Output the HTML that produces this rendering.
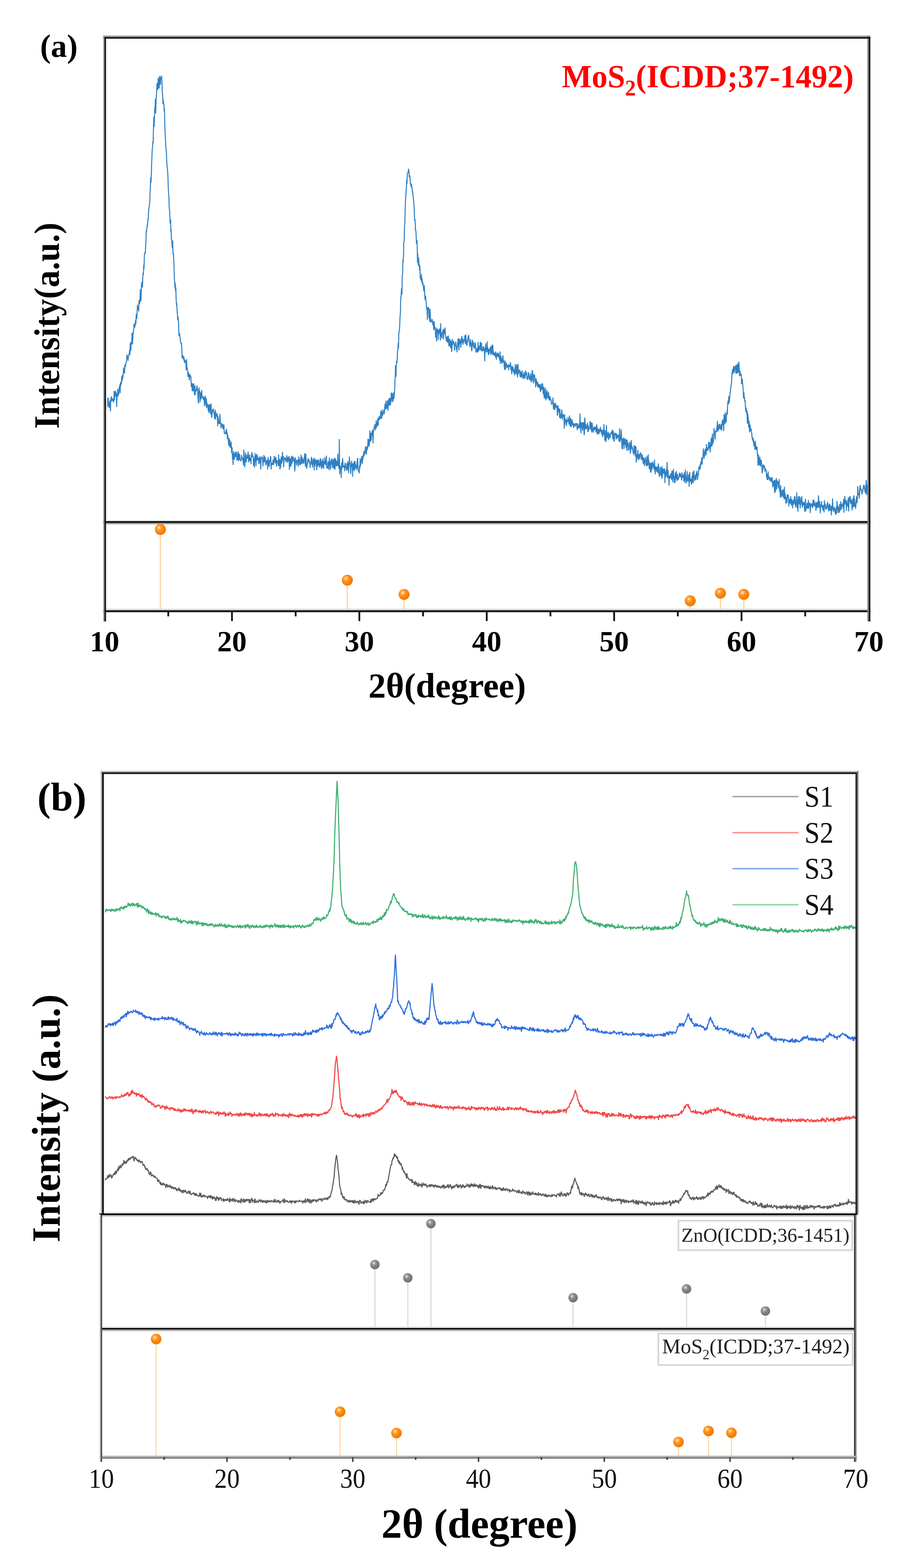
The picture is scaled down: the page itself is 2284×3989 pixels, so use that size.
<!DOCTYPE html>
<html><head><meta charset="utf-8"><title>XRD patterns</title>
<style>html,body{margin:0;padding:0;background:#fff;}svg{display:block;}</style>
</head><body>
<svg width="2284" height="3989" viewBox="0 0 2284 3989" font-family="'Liberation Serif','Times New Roman',serif">
<defs>
<radialGradient id="gO" cx="0.38" cy="0.35" r="0.65">
<stop offset="0" stop-color="#fff4e0"/><stop offset="0.22" stop-color="#ffb050"/><stop offset="0.5" stop-color="#ff8a10"/><stop offset="1" stop-color="#f07800"/></radialGradient>
<radialGradient id="gG" cx="0.38" cy="0.35" r="0.65">
<stop offset="0" stop-color="#f4f4f4"/><stop offset="0.22" stop-color="#a8a8a8"/><stop offset="0.5" stop-color="#858585"/><stop offset="1" stop-color="#6e6e6e"/></radialGradient>
</defs>
<rect width="2284" height="3989" fill="#fff"/>
<path d="M268.0,1015.6L268.8,1029.8L269.6,1035.0L270.4,1021.2L271.2,1013.5L272.0,1024.6L272.8,1029.2L273.6,1034.5L274.4,1013.4L275.2,1012.4L276.0,1030.1L276.8,1027.8L277.6,1037.0L278.4,1031.8L279.2,1021.7L280.0,1019.9L281.0,1045.1L281.6,1018.7L282.4,1013.4L283.2,1009.3L284.0,1019.6L284.8,1019.1L285.6,1013.9L286.4,1015.5L287.2,1017.7L288.0,1020.6L288.8,1023.3L289.6,1014.5L290.4,995.6L291.2,1017.1L292.0,997.2L292.8,1007.5L293.6,994.9L294.4,1007.3L295.2,999.4L296.0,1007.5L296.8,1034.4L297.6,1003.4L298.4,1010.5L299.2,990.2L300.0,998.6L300.8,1006.3L301.6,998.6L302.0,1002.3L302.4,998.1L303.2,984.4L304.0,994.8L304.8,978.7L305.6,999.2L306.4,974.1L307.2,981.1L308.0,971.2L308.8,976.0L309.6,958.3L310.4,969.0L311.2,955.2L312.0,964.0L313.0,953.6L313.6,947.2L314.4,936.0L315.2,947.1L316.0,941.6L316.8,949.4L317.6,928.4L318.4,933.9L319.2,930.7L320.0,925.8L320.8,922.3L321.6,919.3L322.4,909.4L323.2,902.9L324.0,905.6L324.8,911.7L325.6,917.1L326.4,909.5L327.2,907.4L328.0,902.1L328.8,898.5L329.6,891.1L330.0,894.9L330.4,901.9L331.2,878.9L332.0,871.6L332.8,891.4L333.6,871.9L334.4,874.3L335.2,869.4L336.0,847.2L336.8,875.3L337.6,865.3L338.4,846.8L339.2,847.9L340.0,838.2L341.0,824.0L341.6,828.2L342.4,828.9L343.2,831.9L344.0,824.5L344.8,815.0L345.6,822.9L346.4,800.2L347.2,810.5L348.0,809.6L348.8,793.3L349.6,776.1L350.4,780.4L351.2,787.0L352.0,785.9L352.8,791.4L353.6,764.7L354.4,770.0L355.2,772.2L356.0,761.2L357.0,736.7L357.6,759.7L358.4,765.8L359.2,746.6L360.0,721.9L360.8,719.0L361.6,717.3L362.4,730.3L363.2,706.0L364.0,694.0L364.8,698.0L365.6,674.2L366.4,682.7L367.2,650.7L368.0,643.6L368.8,645.3L369.6,642.6L370.4,626.7L371.0,616.7L372.0,586.9L372.8,588.3L373.6,580.7L374.4,572.8L375.2,574.3L376.0,557.5L376.8,559.0L377.6,544.1L378.4,531.8L379.2,527.3L380.0,521.6L381.0,514.7L381.6,491.3L382.4,478.3L383.2,452.9L384.0,464.4L384.8,447.9L385.6,418.0L386.4,400.1L387.2,378.1L388.0,375.5L388.8,360.7L389.6,363.2L390.0,338.2L390.4,323.7L391.2,298.1L392.0,322.1L392.8,300.5L393.6,273.7L394.4,279.2L395.2,252.4L396.0,287.6L397.0,253.1L397.6,245.3L398.4,234.8L399.2,213.4L400.0,227.7L400.8,211.1L401.6,226.7L402.4,198.3L403.2,205.6L404.0,221.0L404.8,224.1L405.6,198.0L406.4,194.1L407.2,215.2L408.0,214.2L408.8,197.0L409.6,199.0L410.4,198.3L411.0,193.3L412.0,210.0L412.8,237.1L413.6,241.8L414.4,263.8L415.2,254.2L416.0,263.5L416.8,265.6L417.6,283.0L418.0,277.2L418.4,280.9L419.2,319.1L420.0,341.7L420.8,352.1L421.6,372.5L422.4,378.6L423.2,385.8L424.0,408.9L425.0,424.6L425.6,427.9L426.4,435.9L427.2,451.1L428.0,477.6L428.8,492.3L429.6,499.9L430.4,530.3L431.2,532.3L432.0,549.1L432.8,568.1L433.6,563.0L434.0,559.3L434.4,588.0L435.2,583.5L436.0,609.9L436.8,609.6L437.6,624.1L438.4,630.4L439.2,613.2L440.0,646.9L441.0,644.9L441.6,655.4L442.4,673.2L443.2,699.0L444.0,715.0L444.8,731.0L445.5,720.1L446.4,739.3L447.2,731.9L448.0,760.9L448.8,775.8L449.6,772.1L450.4,789.8L451.2,798.3L452.0,813.9L452.8,806.0L453.6,814.5L454.4,823.7L455.0,852.8L456.0,854.0L456.8,848.9L457.6,857.8L458.4,862.6L459.2,869.2L460.0,871.2L460.8,875.9L461.6,873.4L462.4,884.7L463.2,911.1L464.0,906.8L464.8,905.2L465.6,905.3L466.4,910.4L467.2,915.7L468.0,909.3L468.8,919.5L469.6,922.6L470.4,916.3L471.2,918.6L472.0,919.3L472.8,921.3L473.6,941.6L474.4,914.9L475.2,936.4L476.0,935.9L476.8,938.5L477.6,947.6L478.0,958.2L478.4,949.9L479.2,950.3L480.0,948.5L480.8,955.2L481.6,967.0L482.4,957.7L483.2,953.3L484.0,954.6L484.8,958.4L485.6,958.3L486.4,983.1L487.2,978.8L488.0,975.9L488.8,993.5L489.6,976.9L490.4,992.0L491.2,994.8L492.0,976.1L492.8,976.7L493.6,983.0L494.4,1000.2L495.2,1004.4L496.0,982.4L496.8,1003.6L497.6,991.4L498.4,991.9L499.2,991.2L500.0,993.9L500.8,981.2L501.6,989.2L502.4,987.8L503.2,1004.0L504.0,1019.1L504.8,1025.6L505.6,998.6L506.4,986.9L507.2,999.4L508.0,995.3L508.8,1022.2L509.6,1010.2L510.4,999.2L511.2,1014.9L512.0,1012.0L513.0,993.4L513.6,1004.1L514.4,1008.0L515.2,1011.5L516.0,1013.8L516.8,1010.7L517.6,1016.7L518.4,1011.0L519.2,1009.4L520.0,1032.3L520.8,1023.1L521.6,1025.0L522.4,1008.0L523.2,1022.0L524.0,1032.1L524.8,1014.4L525.6,1037.1L526.4,1024.9L527.2,1033.3L528.0,1029.7L528.8,1034.0L529.6,1044.1L530.4,1030.9L531.2,1049.8L532.0,1029.9L532.8,1029.8L533.6,1045.8L534.0,1030.4L534.4,1037.2L535.2,1049.6L536.0,1053.3L536.8,1027.4L537.6,1048.9L538.4,1062.3L539.2,1057.1L540.0,1045.1L540.8,1042.9L541.6,1046.6L542.4,1039.9L543.2,1048.8L544.0,1050.5L544.8,1051.8L545.6,1064.8L546.4,1053.0L547.2,1042.9L548.0,1066.5L548.8,1048.4L549.6,1055.0L550.4,1058.8L551.2,1057.8L552.0,1052.9L552.8,1060.6L553.6,1083.5L554.4,1059.4L555.2,1064.6L556.0,1076.9L557.0,1074.7L557.6,1075.9L558.4,1078.1L559.2,1054.0L560.0,1065.2L560.8,1075.5L561.6,1080.2L562.4,1088.6L563.2,1082.6L564.0,1077.5L564.8,1081.4L565.6,1080.4L566.4,1085.9L567.2,1091.1L568.0,1083.3L568.8,1080.3L569.6,1081.3L570.4,1100.2L571.2,1103.2L572.0,1101.9L572.8,1102.0L573.6,1103.2L574.4,1097.0L575.0,1104.0L576.0,1091.9L576.8,1102.2L577.6,1100.1L578.4,1116.0L579.2,1106.9L580.0,1113.8L580.8,1121.1L581.6,1132.3L582.4,1115.7L583.2,1117.1L584.0,1135.6L584.8,1120.9L585.6,1137.7L586.4,1131.1L587.2,1138.0L588.0,1125.3L589.0,1151.4L589.6,1141.3L590.4,1138.8L591.2,1166.6L592.0,1155.4L592.8,1181.6L593.6,1154.7L594.4,1149.0L595.2,1154.1L596.0,1168.7L596.8,1155.0L597.6,1160.4L598.4,1162.0L599.2,1150.2L600.0,1160.6L600.8,1156.0L601.6,1150.4L602.4,1170.5L603.2,1169.7L604.0,1165.4L604.8,1157.6L605.6,1148.8L606.4,1172.3L607.2,1168.1L608.0,1154.8L608.8,1169.3L609.6,1156.0L610.4,1169.3L611.2,1170.7L612.0,1172.5L612.8,1171.1L613.6,1170.6L614.4,1158.6L615.2,1165.3L616.0,1164.0L616.8,1166.3L617.6,1170.8L618.4,1173.8L619.2,1182.8L620.0,1144.8L620.8,1171.4L621.6,1165.8L622.4,1188.0L623.2,1175.8L624.0,1152.3L624.8,1170.7L625.6,1162.3L626.4,1175.7L627.2,1157.2L628.0,1165.6L628.8,1165.2L629.6,1165.4L630.4,1160.8L631.0,1149.5L632.0,1170.3L632.8,1175.3L633.6,1165.8L634.4,1157.4L635.2,1168.6L636.0,1172.0L636.8,1165.4L637.6,1167.0L638.4,1180.0L639.2,1157.4L640.0,1162.5L640.8,1150.6L641.6,1161.5L642.4,1161.3L643.2,1159.5L644.0,1162.0L644.8,1184.6L645.6,1166.8L646.4,1167.7L647.2,1188.6L648.0,1168.4L648.8,1153.5L649.6,1172.9L650.4,1160.9L651.2,1184.3L652.0,1158.4L652.8,1164.6L653.6,1155.5L654.4,1170.9L655.2,1161.1L656.0,1169.8L656.8,1167.1L657.6,1165.1L658.4,1179.3L659.2,1179.3L660.0,1171.6L660.8,1163.1L661.6,1161.7L662.4,1173.9L663.2,1193.1L664.0,1167.6L664.8,1164.8L665.6,1165.7L666.4,1162.3L667.2,1163.5L668.0,1170.6L668.8,1185.5L669.6,1172.7L670.4,1168.3L671.2,1158.5L672.0,1175.0L672.8,1173.0L673.6,1162.4L674.4,1163.8L675.2,1173.3L676.0,1182.9L677.0,1179.6L677.6,1175.8L678.4,1171.0L679.2,1176.7L680.0,1173.7L680.8,1193.3L681.6,1163.5L682.4,1170.3L683.2,1185.0L684.0,1171.2L684.8,1186.3L685.6,1173.1L686.4,1174.7L687.2,1170.0L688.0,1160.9L688.8,1164.5L689.6,1193.1L690.4,1179.0L691.2,1178.5L692.0,1181.6L692.8,1178.1L693.6,1182.1L694.4,1170.5L695.2,1170.8L696.0,1181.6L696.8,1169.6L697.6,1160.7L698.4,1170.6L699.2,1167.7L700.0,1178.1L700.8,1166.0L701.6,1162.9L702.4,1169.4L703.2,1186.3L704.0,1171.8L704.8,1173.7L705.6,1172.3L706.4,1174.8L707.2,1180.4L708.0,1184.6L708.8,1157.2L709.6,1184.2L710.4,1171.8L711.2,1168.9L712.0,1193.4L712.8,1170.2L713.6,1189.2L714.4,1180.3L715.2,1162.3L716.0,1175.9L716.8,1178.1L717.6,1170.3L718.4,1150.4L719.2,1168.2L720.0,1169.5L720.8,1161.2L721.6,1187.6L722.4,1168.9L723.2,1167.5L724.0,1168.3L724.8,1164.0L725.6,1164.2L726.4,1172.1L727.2,1174.1L728.0,1166.8L728.8,1170.6L729.6,1159.0L730.4,1176.3L731.2,1164.9L732.0,1173.7L732.8,1163.7L733.6,1167.3L734.4,1173.9L735.2,1161.1L736.0,1194.3L736.8,1171.9L737.6,1171.6L738.4,1165.7L739.2,1186.8L740.0,1185.0L740.8,1175.3L741.6,1160.3L742.4,1168.2L743.2,1178.3L744.0,1168.2L744.8,1162.3L745.6,1162.3L746.4,1166.1L747.2,1173.3L748.0,1167.4L748.8,1173.5L749.6,1198.5L750.4,1189.4L751.2,1164.2L752.0,1176.7L752.8,1174.4L753.6,1172.5L754.4,1183.2L755.2,1170.9L756.0,1171.0L756.8,1170.7L757.6,1173.2L758.4,1185.8L759.2,1181.2L760.0,1162.3L760.8,1170.4L761.6,1167.3L762.4,1181.9L763.2,1176.7L764.0,1182.7L764.8,1174.2L765.6,1157.7L766.4,1179.0L767.2,1177.0L768.0,1179.6L768.8,1163.4L769.6,1176.0L770.4,1169.1L771.2,1169.2L772.0,1178.6L772.8,1178.7L773.6,1167.6L774.4,1160.3L775.2,1153.5L776.0,1170.6L776.8,1186.0L777.6,1175.5L778.0,1155.7L778.4,1168.3L779.2,1179.9L780.0,1191.2L780.8,1186.7L781.6,1179.5L782.4,1178.0L783.2,1166.7L784.0,1172.2L784.8,1173.4L785.6,1169.4L786.4,1177.0L787.2,1172.9L788.0,1179.5L788.8,1189.5L789.6,1183.3L790.4,1180.4L791.2,1174.5L792.0,1163.0L792.8,1175.7L793.6,1181.7L794.4,1167.8L795.2,1188.2L796.0,1173.9L796.8,1180.3L797.6,1174.0L798.4,1165.7L799.2,1195.7L800.0,1166.7L800.8,1185.4L801.6,1172.2L802.4,1179.8L803.2,1170.0L804.0,1173.6L804.8,1185.7L805.6,1194.9L806.4,1169.8L807.2,1177.6L808.0,1186.1L808.8,1171.9L809.6,1184.0L810.4,1170.6L811.2,1183.1L812.0,1181.7L812.8,1188.7L813.6,1181.1L814.4,1167.1L815.2,1183.9L816.0,1168.0L817.0,1184.8L817.6,1191.7L818.4,1183.5L819.2,1173.3L820.0,1189.1L820.8,1179.9L821.6,1167.3L822.4,1175.4L823.2,1191.4L824.0,1176.0L824.8,1179.9L825.6,1175.8L826.4,1163.8L827.2,1174.5L828.0,1182.4L828.8,1181.2L829.6,1177.8L830.4,1160.2L831.2,1190.5L832.0,1186.1L832.8,1188.9L833.6,1191.5L834.4,1175.9L835.2,1174.5L836.0,1182.9L836.8,1195.2L837.6,1165.1L838.4,1178.3L839.2,1174.0L840.0,1185.5L840.8,1193.8L841.6,1178.0L842.4,1169.6L843.2,1181.3L844.0,1178.4L844.8,1167.1L845.6,1189.1L846.4,1176.5L847.2,1187.4L848.0,1169.5L848.8,1191.3L849.6,1168.6L850.4,1191.1L851.2,1165.4L852.0,1194.2L852.8,1178.5L853.6,1168.0L854.4,1180.0L855.2,1185.2L856.0,1173.3L856.8,1177.9L857.6,1184.8L858.4,1181.0L859.2,1155.0L860.0,1178.8L860.8,1186.6L861.6,1185.5L862.4,1192.0L863.0,1118.0L864.0,1206.0L864.8,1190.3L865.6,1185.9L866.4,1192.9L867.2,1191.7L868.0,1215.0L868.8,1177.6L869.6,1192.4L870.4,1187.0L871.2,1166.2L872.0,1173.4L872.8,1187.5L873.6,1184.3L874.4,1185.9L875.2,1189.2L876.0,1184.7L876.8,1197.7L877.6,1178.2L878.4,1179.9L879.2,1186.4L880.0,1190.3L880.8,1190.7L881.6,1197.0L882.4,1179.3L883.2,1194.2L884.0,1187.9L884.8,1174.3L885.6,1182.5L886.4,1202.5L887.2,1190.8L888.0,1179.6L888.8,1162.2L889.6,1177.2L890.4,1177.6L891.2,1184.6L892.0,1204.7L892.8,1190.7L893.6,1186.8L894.0,1175.6L894.4,1173.4L895.2,1182.4L896.0,1180.2L896.8,1211.7L897.6,1181.1L898.4,1179.4L899.2,1195.3L900.0,1186.0L900.8,1174.3L901.6,1197.2L902.4,1183.0L903.2,1174.0L904.0,1189.0L904.8,1190.7L905.6,1183.4L906.4,1192.9L907.2,1194.2L908.0,1179.0L908.8,1168.6L909.6,1165.8L910.4,1186.3L911.2,1198.7L912.0,1196.8L913.0,1200.5L913.6,1203.3L914.4,1184.8L915.2,1192.2L916.0,1167.0L916.8,1185.0L917.6,1180.4L918.4,1174.1L919.2,1169.0L920.0,1161.0L920.8,1170.4L921.6,1178.7L922.4,1162.0L923.2,1168.1L924.0,1155.4L925.0,1161.3L925.6,1148.4L926.4,1158.9L927.2,1151.5L928.0,1154.2L928.8,1143.9L929.6,1136.8L930.4,1142.4L931.2,1152.6L932.0,1155.5L932.8,1136.3L933.6,1144.4L934.4,1142.0L935.2,1136.7L936.0,1117.2L936.8,1132.0L937.6,1118.4L938.4,1135.6L939.2,1130.1L940.0,1126.6L940.8,1096.2L941.6,1122.7L942.4,1121.4L943.2,1101.7L944.0,1120.0L944.8,1110.0L945.6,1105.7L946.4,1099.0L947.2,1094.3L948.0,1097.6L948.8,1127.3L949.6,1099.4L950.4,1097.5L951.2,1087.9L952.0,1086.2L952.8,1084.8L953.6,1079.9L954.4,1093.8L955.2,1081.5L956.0,1089.8L956.8,1070.2L957.6,1087.5L958.4,1077.4L959.2,1082.2L960.0,1073.9L960.8,1065.4L961.6,1082.8L962.4,1066.6L963.2,1067.7L964.0,1059.6L964.8,1068.0L965.6,1061.2L966.4,1065.8L967.2,1064.9L968.0,1054.2L968.8,1046.3L969.6,1061.4L970.4,1064.3L971.0,1061.3L972.0,1043.0L972.8,1057.4L973.6,1054.1L974.4,1051.8L975.2,1051.8L976.0,1043.6L976.8,1047.1L977.6,1052.2L978.4,1038.0L979.2,1028.2L980.0,1038.9L980.8,1040.2L981.6,1020.5L982.4,1029.7L983.2,1039.7L984.0,1031.7L984.8,1032.5L985.6,1019.0L986.4,1037.2L987.0,1043.8L988.0,1024.7L988.8,1018.6L989.6,1013.6L990.4,1030.8L991.2,1022.5L992.0,1013.2L992.8,1030.0L993.6,1024.8L994.4,1022.1L995.2,999.6L996.0,1013.3L996.8,1018.6L997.6,1000.7L998.4,1018.9L999.2,1022.2L1000.0,1017.4L1000.8,1000.3L1001.6,999.2L1002.0,1013.5L1002.4,1008.1L1003.2,998.7L1004.0,986.8L1004.8,963.5L1005.6,949.1L1006.0,930.3L1006.4,950.7L1007.2,957.5L1008.0,926.2L1008.8,919.4L1009.6,922.8L1010.4,913.7L1011.2,891.3L1012.0,890.6L1012.8,872.0L1013.6,884.9L1014.4,845.2L1015.2,844.2L1016.0,838.6L1016.8,823.3L1017.5,805.8L1018.4,795.1L1019.2,758.1L1020.0,754.9L1020.8,740.2L1021.6,733.0L1022.4,748.0L1023.0,700.9L1024.0,697.0L1024.8,661.7L1025.6,665.6L1026.4,646.1L1027.0,615.4L1028.0,614.4L1028.8,577.0L1029.6,568.7L1030.4,540.4L1031.0,518.0L1032.0,500.3L1032.8,487.3L1033.6,478.5L1034.4,458.7L1035.0,467.2L1036.0,443.6L1036.8,440.6L1037.6,437.8L1038.4,436.7L1039.2,430.2L1040.0,433.8L1041.0,450.2L1041.6,445.9L1042.4,448.3L1043.2,457.6L1044.0,468.5L1044.8,469.0L1045.6,474.9L1046.5,468.0L1047.2,475.6L1048.0,476.6L1048.8,488.4L1049.6,487.6L1050.4,497.3L1051.2,504.8L1052.0,510.1L1052.8,521.8L1053.6,532.0L1054.4,560.4L1055.2,557.7L1056.0,563.9L1056.8,586.1L1057.6,585.9L1058.4,597.3L1059.2,619.1L1060.0,614.7L1060.8,612.0L1061.6,654.9L1062.0,667.3L1062.4,645.4L1063.2,657.3L1064.0,675.4L1064.8,657.2L1065.6,672.1L1066.4,674.0L1067.2,688.0L1068.0,676.9L1068.8,707.6L1069.6,703.1L1070.4,712.0L1071.5,713.0L1072.0,698.2L1072.8,717.9L1073.6,709.3L1074.4,723.4L1075.2,717.7L1076.0,724.5L1076.8,727.5L1077.6,738.4L1078.4,740.4L1079.0,726.0L1080.0,742.1L1080.8,761.2L1081.6,758.3L1082.4,753.1L1083.2,764.4L1084.0,768.1L1084.8,785.5L1085.6,783.2L1086.4,792.0L1087.0,812.9L1088.0,782.2L1088.8,786.8L1089.6,781.7L1090.4,784.3L1091.2,807.7L1092.0,803.9L1092.8,817.3L1093.6,786.1L1094.4,797.3L1095.2,819.5L1096.0,817.1L1096.8,817.2L1097.6,818.4L1098.5,812.3L1099.2,813.9L1100.0,816.6L1100.8,826.2L1101.6,819.4L1102.4,826.1L1103.2,838.6L1104.0,817.7L1104.8,823.3L1105.6,837.5L1106.4,832.3L1107.2,835.6L1108.0,858.1L1108.8,845.3L1109.6,840.1L1110.0,854.9L1110.4,867.6L1111.2,834.9L1112.0,838.7L1112.8,845.7L1113.6,838.8L1114.4,864.0L1115.2,849.1L1116.0,840.6L1116.8,848.5L1117.6,836.9L1118.4,838.5L1119.2,844.8L1120.0,865.2L1120.8,823.4L1121.6,847.3L1122.4,855.6L1123.2,850.0L1124.0,860.5L1124.8,847.1L1125.5,844.3L1126.4,843.4L1127.2,838.3L1128.0,862.1L1128.8,838.1L1129.6,849.0L1130.4,846.8L1131.2,845.9L1132.0,834.3L1132.8,852.3L1133.6,858.3L1134.4,859.8L1135.2,867.5L1136.0,859.8L1136.8,856.9L1137.6,866.8L1138.4,871.5L1139.2,858.7L1140.0,854.6L1141.0,860.8L1141.6,879.7L1142.4,879.5L1143.2,862.8L1144.0,872.0L1144.8,878.9L1145.6,883.6L1146.4,865.9L1147.2,870.0L1148.0,885.1L1148.8,894.4L1149.6,886.8L1150.4,863.0L1151.2,877.6L1152.0,871.1L1152.8,873.6L1153.6,868.4L1154.4,870.3L1155.2,874.8L1156.0,891.4L1156.8,881.8L1157.6,879.6L1158.4,876.3L1159.2,869.6L1160.0,874.5L1160.8,888.0L1161.6,884.6L1162.4,895.1L1163.2,880.1L1164.0,877.8L1164.8,863.0L1165.6,880.7L1166.4,861.2L1167.2,890.1L1168.0,870.2L1168.8,875.5L1169.6,862.9L1170.4,870.2L1171.2,865.9L1172.0,884.0L1172.8,875.6L1173.6,862.4L1174.4,855.2L1175.2,871.5L1176.0,867.4L1176.8,861.3L1177.6,876.2L1178.4,868.8L1179.2,871.1L1180.0,864.3L1180.8,864.1L1181.6,864.7L1182.4,854.0L1183.2,873.6L1184.0,871.2L1184.8,851.6L1185.6,867.7L1186.4,876.7L1187.0,868.1L1188.0,878.3L1188.8,864.8L1189.6,867.7L1190.4,856.6L1191.2,860.7L1192.0,852.9L1192.8,861.8L1193.6,872.6L1194.4,875.6L1195.2,881.9L1196.0,873.2L1196.8,863.6L1197.6,876.9L1198.4,872.3L1199.2,890.2L1200.0,892.3L1200.8,883.8L1201.6,865.5L1202.4,871.5L1203.2,878.5L1204.0,870.9L1204.8,882.6L1205.6,884.6L1206.4,886.5L1207.2,881.5L1208.0,872.0L1208.8,873.0L1209.6,880.0L1210.4,893.5L1211.2,896.3L1212.0,891.5L1212.8,886.5L1213.6,889.8L1214.0,891.4L1214.4,895.7L1215.2,892.0L1216.0,870.6L1216.8,893.2L1217.6,888.3L1218.4,880.9L1219.2,889.9L1220.0,888.0L1220.8,885.1L1221.6,870.6L1222.4,886.9L1223.2,891.1L1224.0,885.9L1224.8,872.2L1225.6,890.8L1226.4,893.3L1227.2,888.7L1228.0,891.1L1228.8,884.2L1229.6,881.7L1230.4,892.5L1231.2,884.8L1232.0,889.8L1232.8,917.6L1233.6,894.9L1234.4,889.9L1235.2,874.3L1236.0,889.9L1236.8,896.1L1237.6,883.1L1238.4,887.5L1239.2,869.5L1240.0,895.0L1240.8,884.7L1241.6,896.3L1242.4,902.5L1243.2,888.8L1244.0,899.1L1244.8,892.6L1245.6,888.6L1246.4,887.9L1247.2,882.9L1248.0,902.1L1248.8,898.6L1249.6,881.6L1250.4,898.3L1251.2,884.2L1252.0,877.3L1252.8,901.7L1253.6,879.5L1254.0,901.7L1254.4,893.2L1255.2,900.5L1256.0,897.8L1256.8,904.5L1257.6,898.1L1258.4,901.1L1259.2,899.0L1260.0,907.5L1260.8,895.1L1261.6,908.6L1262.4,913.9L1263.2,900.7L1264.0,906.1L1264.8,898.4L1265.6,901.3L1266.4,907.2L1267.2,902.6L1268.0,898.6L1268.8,907.2L1269.6,910.1L1270.4,912.2L1271.2,916.6L1272.0,895.1L1272.8,924.7L1273.6,911.3L1274.4,906.8L1275.2,911.3L1276.0,919.5L1276.8,924.2L1277.6,914.0L1278.4,919.6L1279.2,904.7L1280.0,921.5L1280.8,919.9L1281.6,917.9L1282.4,930.6L1283.2,939.7L1284.0,933.7L1284.8,918.3L1285.6,940.0L1286.4,924.1L1287.2,927.6L1288.0,923.7L1289.0,934.1L1289.6,935.3L1290.4,932.1L1291.2,929.4L1292.0,930.5L1292.8,928.6L1293.6,941.4L1294.4,928.5L1295.2,932.3L1296.0,932.2L1296.8,927.9L1297.6,933.0L1298.4,922.4L1299.2,939.7L1300.0,941.3L1300.8,934.2L1301.6,951.4L1302.4,930.5L1303.2,943.3L1304.0,943.1L1304.8,934.5L1305.6,937.6L1306.4,948.2L1307.2,941.3L1308.0,943.7L1308.8,954.2L1309.6,944.1L1310.4,927.6L1311.2,936.5L1312.0,951.0L1312.8,942.8L1313.6,934.8L1314.4,927.2L1315.2,948.3L1316.0,959.3L1316.8,935.1L1317.6,927.4L1318.4,951.8L1319.2,942.9L1320.0,945.6L1320.8,945.8L1321.6,941.1L1322.4,953.6L1323.0,958.2L1324.0,953.6L1324.8,945.6L1325.6,960.1L1326.4,950.0L1327.2,956.4L1328.0,943.1L1328.8,957.6L1329.6,958.6L1330.4,963.7L1331.2,952.7L1332.0,956.6L1332.8,947.7L1333.6,961.0L1334.4,960.3L1335.2,963.2L1336.0,950.4L1336.8,943.2L1337.6,953.7L1338.4,952.7L1339.2,948.1L1340.0,960.4L1340.8,963.7L1341.6,959.0L1342.4,965.6L1343.2,959.5L1344.0,947.5L1344.8,951.2L1345.6,953.5L1346.4,963.0L1347.2,965.3L1348.0,958.6L1348.8,966.6L1349.6,950.5L1350.4,957.1L1351.2,971.6L1352.0,962.5L1352.8,968.1L1353.6,942.2L1354.4,944.4L1355.2,951.8L1356.0,968.7L1357.0,974.5L1357.6,955.4L1358.4,953.3L1359.2,954.2L1360.0,956.4L1360.8,970.4L1361.6,963.8L1362.4,984.4L1363.2,975.3L1364.0,963.9L1364.8,973.3L1365.6,970.9L1366.4,980.5L1367.2,982.6L1368.0,972.7L1368.8,984.8L1369.6,983.1L1370.4,978.4L1371.2,982.6L1372.0,987.5L1372.8,979.8L1373.6,977.8L1374.4,996.1L1375.2,986.1L1376.0,981.9L1376.8,992.4L1377.6,976.4L1378.0,990.5L1378.4,978.4L1379.2,987.6L1380.0,976.5L1380.8,986.8L1381.6,1002.0L1382.4,993.3L1383.2,985.1L1384.0,1012.1L1384.8,992.0L1385.6,1011.6L1386.4,994.7L1387.2,987.3L1388.0,1017.5L1388.8,998.2L1389.6,1009.6L1390.4,1014.3L1391.2,993.1L1392.0,1006.2L1392.8,1001.4L1393.6,1012.7L1394.4,1008.1L1395.2,998.0L1396.0,1010.6L1396.8,1017.7L1397.6,1009.2L1398.4,1017.7L1399.2,1008.9L1400.0,1014.0L1400.8,1018.5L1401.6,1017.5L1402.4,1028.4L1403.2,1026.4L1404.0,1026.4L1405.0,1026.4L1405.6,1022.5L1406.4,1012.4L1407.2,1033.5L1408.0,1041.0L1408.8,1029.1L1409.6,1026.4L1410.4,1029.8L1411.2,1042.2L1412.0,1035.6L1412.8,1025.9L1413.6,1034.5L1414.4,1030.8L1415.2,1037.2L1416.0,1032.6L1416.8,1034.3L1417.6,1056.5L1418.4,1054.2L1419.2,1032.3L1420.0,1039.3L1420.8,1045.5L1421.6,1047.5L1422.4,1040.2L1423.2,1061.7L1424.0,1041.2L1424.8,1063.0L1425.6,1064.5L1426.0,1055.8L1426.4,1053.6L1427.2,1060.4L1428.0,1061.7L1428.8,1042.5L1429.6,1050.5L1430.4,1066.7L1431.2,1061.6L1432.0,1059.5L1432.8,1054.9L1433.6,1058.0L1434.4,1058.0L1435.2,1089.9L1436.0,1054.8L1436.8,1079.9L1437.6,1071.1L1438.4,1069.3L1439.2,1069.7L1440.0,1065.2L1440.8,1083.2L1441.6,1074.1L1442.4,1069.9L1443.2,1069.6L1444.0,1073.0L1444.8,1061.7L1445.6,1069.5L1446.4,1067.4L1447.2,1078.9L1448.0,1079.2L1448.8,1058.1L1449.6,1073.1L1450.4,1084.3L1451.2,1064.7L1452.0,1066.3L1452.8,1086.0L1453.6,1076.6L1454.4,1074.3L1455.2,1068.1L1456.0,1080.9L1456.8,1075.0L1457.6,1082.3L1458.4,1084.7L1459.2,1087.7L1460.0,1079.2L1460.8,1077.5L1461.6,1082.5L1462.4,1081.5L1463.2,1084.0L1464.0,1077.9L1464.8,1080.5L1465.6,1077.6L1466.4,1077.6L1467.2,1084.3L1468.0,1093.1L1468.8,1078.4L1469.6,1088.3L1470.4,1086.3L1471.2,1084.3L1472.0,1089.4L1472.8,1078.6L1473.6,1088.6L1474.4,1086.3L1475.2,1053.1L1476.0,1087.0L1476.8,1089.3L1477.6,1101.3L1478.4,1074.8L1479.2,1085.1L1480.0,1087.5L1480.8,1075.9L1481.6,1095.1L1482.4,1088.6L1483.2,1077.7L1484.0,1074.3L1484.8,1081.2L1485.6,1105.9L1486.4,1104.1L1487.2,1063.4L1488.0,1069.2L1488.8,1091.2L1489.6,1084.5L1490.4,1079.9L1491.2,1091.0L1492.0,1086.6L1492.8,1088.4L1493.6,1088.2L1494.4,1076.4L1495.0,1097.7L1496.0,1082.4L1496.8,1096.7L1497.6,1093.2L1498.4,1087.7L1499.2,1088.9L1500.0,1087.6L1500.8,1072.1L1501.6,1085.7L1502.4,1092.7L1503.2,1075.0L1504.0,1076.4L1504.8,1099.3L1505.6,1097.3L1506.4,1076.8L1507.2,1094.8L1508.0,1090.6L1508.8,1100.0L1509.6,1088.8L1510.4,1090.0L1511.2,1085.6L1512.0,1094.2L1512.8,1091.8L1513.6,1087.4L1514.4,1090.4L1515.2,1087.1L1516.0,1099.6L1516.8,1085.3L1517.6,1080.9L1518.4,1086.5L1519.2,1104.9L1520.0,1091.1L1520.8,1101.6L1521.6,1102.7L1522.4,1092.0L1523.2,1103.5L1524.0,1101.6L1524.8,1097.1L1525.6,1091.5L1526.4,1097.5L1527.2,1087.0L1528.0,1096.2L1529.0,1093.9L1529.6,1103.1L1530.4,1102.5L1531.2,1094.1L1532.0,1107.7L1532.8,1110.8L1533.6,1101.1L1534.4,1094.2L1535.2,1105.5L1536.0,1079.7L1536.8,1096.4L1537.6,1107.0L1538.4,1119.8L1539.2,1095.8L1540.0,1116.2L1540.8,1123.5L1541.6,1119.8L1542.4,1082.4L1543.2,1113.4L1544.0,1105.6L1544.8,1113.2L1545.6,1102.8L1546.4,1099.2L1547.2,1102.9L1548.0,1118.5L1548.8,1112.9L1549.6,1103.1L1550.4,1109.4L1551.2,1113.9L1552.0,1111.5L1552.8,1106.4L1553.6,1101.1L1554.4,1100.6L1555.2,1103.6L1556.0,1102.8L1556.8,1094.0L1557.6,1095.7L1558.4,1116.4L1559.2,1098.8L1560.0,1097.4L1560.8,1108.9L1561.6,1122.5L1562.4,1121.1L1563.0,1106.4L1564.0,1101.4L1564.8,1106.4L1565.6,1103.5L1566.4,1107.3L1567.2,1117.0L1568.0,1103.7L1568.8,1106.7L1569.6,1111.9L1570.4,1114.4L1571.2,1108.3L1572.0,1108.6L1572.8,1106.1L1573.6,1110.0L1574.4,1121.9L1575.2,1115.5L1576.0,1090.4L1576.8,1124.2L1577.6,1118.6L1578.4,1111.9L1579.2,1117.9L1580.0,1093.6L1580.8,1106.4L1581.6,1132.1L1582.4,1141.3L1583.2,1142.2L1584.0,1116.6L1584.8,1124.1L1585.6,1131.2L1586.4,1113.7L1587.2,1140.9L1588.0,1119.3L1588.8,1129.4L1589.6,1116.4L1590.4,1130.5L1591.2,1127.6L1592.0,1138.0L1592.8,1118.4L1593.6,1129.2L1594.4,1146.1L1595.2,1119.5L1596.0,1133.9L1596.8,1135.2L1597.6,1127.3L1598.0,1129.6L1598.4,1145.1L1599.2,1143.4L1600.0,1139.0L1600.8,1137.1L1601.6,1125.3L1602.4,1137.1L1603.2,1153.2L1604.0,1147.3L1604.8,1126.4L1605.6,1120.7L1606.4,1134.2L1607.2,1142.4L1608.0,1136.8L1608.8,1139.7L1609.6,1146.3L1610.4,1152.1L1611.2,1146.7L1612.0,1156.9L1612.8,1133.6L1613.6,1151.4L1614.4,1151.8L1615.2,1135.3L1616.0,1160.7L1616.8,1135.9L1617.6,1138.0L1618.4,1175.9L1619.2,1164.2L1620.0,1156.8L1620.8,1166.3L1621.6,1165.3L1622.4,1145.5L1623.2,1160.8L1624.0,1169.9L1624.8,1156.6L1625.6,1159.5L1626.4,1155.4L1627.2,1167.0L1628.0,1156.1L1628.8,1156.6L1629.6,1151.6L1630.4,1155.1L1631.2,1166.2L1632.0,1169.3L1632.8,1162.1L1633.6,1156.8L1634.4,1170.0L1635.2,1170.8L1636.0,1179.7L1636.8,1164.3L1637.6,1165.7L1638.4,1174.7L1639.2,1184.5L1640.0,1170.9L1640.8,1171.3L1641.6,1164.1L1642.4,1169.9L1643.2,1182.5L1644.0,1182.2L1644.8,1185.3L1645.6,1161.0L1646.4,1184.0L1647.2,1168.7L1648.0,1183.1L1648.8,1156.9L1649.6,1178.1L1650.4,1171.6L1651.2,1191.8L1652.0,1182.0L1652.8,1193.3L1653.6,1178.2L1654.4,1200.6L1655.2,1179.4L1656.0,1201.3L1656.8,1180.3L1657.6,1176.4L1658.4,1194.1L1659.2,1183.0L1660.0,1186.7L1660.8,1175.7L1661.6,1185.4L1662.4,1190.2L1663.2,1183.4L1664.0,1194.0L1664.8,1170.2L1665.6,1199.8L1666.0,1188.3L1666.4,1205.5L1667.2,1189.4L1668.0,1187.0L1668.8,1189.2L1669.6,1196.2L1670.4,1199.4L1671.2,1190.2L1672.0,1187.5L1672.8,1199.0L1673.6,1203.0L1674.4,1180.0L1675.2,1186.7L1676.0,1190.5L1676.8,1212.5L1677.6,1208.5L1678.4,1204.9L1679.2,1202.5L1680.0,1188.2L1680.8,1209.0L1681.6,1195.1L1682.4,1192.3L1683.2,1217.5L1684.0,1187.1L1684.8,1213.2L1685.6,1202.8L1686.4,1193.0L1687.2,1203.3L1688.0,1194.4L1688.8,1204.1L1689.6,1196.9L1690.4,1192.4L1691.2,1227.7L1692.0,1199.3L1692.8,1213.3L1693.6,1204.2L1694.4,1211.2L1695.2,1193.9L1696.0,1196.2L1696.8,1176.3L1697.6,1215.6L1698.4,1210.9L1699.2,1196.5L1700.0,1215.2L1701.0,1213.4L1701.6,1234.8L1702.4,1210.3L1703.2,1216.6L1704.0,1214.0L1704.8,1215.5L1705.6,1208.3L1706.4,1204.9L1707.2,1215.2L1708.0,1220.1L1708.8,1198.3L1709.6,1198.6L1710.4,1208.7L1711.2,1225.6L1712.0,1207.4L1712.8,1193.9L1713.6,1216.8L1714.4,1216.4L1715.2,1227.4L1716.0,1211.5L1716.8,1227.8L1717.6,1203.4L1718.4,1218.3L1719.2,1211.3L1720.0,1199.3L1720.8,1207.8L1721.6,1222.5L1722.4,1220.7L1723.2,1207.1L1724.0,1220.8L1724.8,1219.0L1725.6,1219.0L1726.4,1213.6L1727.2,1213.8L1728.0,1203.6L1728.8,1210.6L1729.6,1212.4L1730.4,1204.7L1731.2,1208.9L1732.0,1213.1L1732.8,1213.6L1733.6,1221.4L1734.4,1202.5L1735.2,1208.3L1736.0,1214.5L1736.8,1208.7L1737.6,1215.4L1738.4,1208.2L1739.2,1223.4L1740.0,1210.7L1740.8,1202.6L1741.6,1219.9L1742.4,1228.4L1743.2,1195.8L1744.0,1212.4L1744.8,1214.3L1745.6,1223.3L1746.4,1227.6L1747.2,1212.7L1748.0,1200.1L1748.8,1220.5L1749.6,1223.8L1750.4,1219.0L1751.2,1215.6L1752.0,1207.7L1752.8,1237.4L1753.6,1204.4L1754.4,1201.8L1755.2,1224.5L1756.0,1218.4L1756.8,1222.1L1757.6,1219.4L1758.4,1231.6L1759.2,1229.4L1760.0,1211.5L1760.8,1225.8L1761.6,1206.1L1762.4,1201.5L1763.2,1228.1L1764.0,1213.4L1764.8,1197.9L1765.6,1217.4L1766.4,1211.7L1767.2,1222.5L1768.0,1217.5L1768.8,1209.2L1769.6,1207.9L1770.4,1219.6L1771.2,1202.3L1772.0,1210.1L1772.8,1198.2L1773.6,1209.4L1774.4,1219.7L1775.2,1206.9L1776.0,1210.0L1776.8,1202.2L1777.6,1187.5L1778.4,1191.7L1779.0,1193.7L1780.0,1193.9L1780.8,1181.8L1781.6,1190.3L1782.4,1175.6L1783.2,1180.2L1784.0,1177.0L1784.8,1164.0L1785.6,1181.1L1786.4,1169.8L1787.2,1167.8L1788.0,1164.0L1789.0,1141.9L1789.6,1147.2L1790.4,1150.2L1791.2,1165.8L1792.0,1150.0L1792.8,1159.2L1793.6,1142.8L1794.4,1143.0L1795.2,1144.8L1796.0,1157.2L1796.8,1130.9L1797.6,1142.8L1798.4,1146.6L1799.2,1142.6L1800.0,1139.6L1800.8,1145.3L1801.6,1139.3L1802.4,1126.0L1803.2,1139.4L1804.0,1125.0L1804.8,1127.5L1805.6,1142.2L1806.4,1149.7L1807.2,1139.2L1808.0,1128.4L1808.8,1116.0L1809.6,1114.6L1810.4,1135.1L1811.2,1121.5L1812.0,1104.4L1812.8,1129.8L1813.6,1119.3L1814.4,1124.5L1815.2,1114.7L1816.0,1089.9L1816.8,1101.3L1817.6,1105.2L1818.4,1103.4L1819.2,1117.2L1820.0,1095.8L1821.0,1099.2L1821.6,1098.8L1822.4,1097.4L1823.2,1087.9L1824.0,1085.1L1824.8,1071.8L1825.6,1097.2L1826.4,1091.4L1827.2,1094.0L1828.0,1081.6L1828.8,1090.2L1829.6,1080.3L1830.4,1078.9L1831.2,1090.1L1832.0,1091.8L1832.8,1090.3L1833.6,1083.6L1834.4,1079.5L1835.2,1094.7L1836.0,1092.3L1836.8,1074.2L1837.6,1069.1L1838.4,1081.3L1839.2,1079.8L1840.0,1067.6L1840.8,1095.6L1841.6,1054.9L1842.4,1065.3L1843.0,1074.3L1844.0,1077.9L1844.8,1049.6L1845.6,1059.9L1846.4,1074.4L1847.2,1071.6L1848.0,1054.0L1848.8,1054.2L1849.6,1043.3L1850.0,1053.6L1850.4,1037.3L1851.2,1021.9L1852.0,1020.0L1852.8,1027.8L1853.6,1008.8L1854.4,1024.3L1855.2,1019.4L1856.0,1010.2L1857.0,999.0L1857.6,999.1L1858.4,985.5L1859.2,985.2L1860.0,975.9L1860.8,973.0L1861.6,951.0L1862.4,948.5L1863.2,939.7L1864.0,950.6L1864.8,946.9L1865.6,934.5L1866.4,931.9L1867.2,934.9L1868.0,947.3L1868.8,937.7L1869.6,935.8L1870.4,931.0L1871.2,935.4L1872.0,950.3L1872.8,928.8L1873.6,931.1L1874.4,949.0L1875.0,939.6L1876.0,925.2L1876.8,947.4L1877.6,928.0L1878.4,946.5L1879.2,920.5L1880.0,936.3L1880.8,955.6L1881.6,943.9L1882.4,944.7L1883.2,953.7L1884.0,955.2L1884.8,952.9L1885.6,952.9L1886.0,976.4L1886.4,976.5L1887.2,971.8L1888.0,964.2L1888.8,975.7L1889.6,983.7L1890.4,996.5L1891.2,1012.5L1892.0,999.1L1893.0,1012.4L1893.6,1011.1L1894.4,1021.5L1895.2,1019.3L1896.0,1034.2L1896.8,1046.5L1897.6,1037.7L1898.4,1043.6L1899.2,1052.9L1900.0,1045.2L1900.8,1076.6L1901.6,1051.2L1902.4,1063.2L1903.2,1061.6L1904.0,1086.3L1904.8,1071.4L1905.6,1074.4L1906.4,1099.2L1907.2,1084.1L1908.0,1081.3L1908.8,1091.4L1909.6,1096.4L1910.4,1091.0L1911.0,1098.4L1912.0,1101.8L1912.8,1113.1L1913.6,1116.4L1914.4,1119.9L1915.2,1114.1L1916.0,1125.3L1916.8,1119.0L1917.6,1134.3L1918.4,1130.4L1919.2,1125.7L1920.0,1143.6L1921.0,1122.4L1921.6,1129.7L1922.4,1134.4L1923.2,1143.7L1924.0,1136.9L1924.8,1140.4L1925.6,1137.4L1926.4,1158.7L1927.2,1153.9L1928.0,1183.9L1929.0,1175.1L1929.6,1158.5L1930.4,1182.0L1931.2,1172.1L1932.0,1182.1L1932.8,1163.4L1933.6,1185.1L1934.4,1185.6L1935.2,1173.0L1936.0,1170.3L1936.8,1175.7L1937.6,1182.6L1938.4,1203.2L1939.2,1198.9L1940.0,1197.2L1940.8,1182.7L1941.6,1182.9L1942.4,1190.3L1943.2,1185.6L1944.0,1185.0L1944.8,1188.5L1945.6,1199.2L1946.0,1191.5L1946.4,1195.3L1947.2,1193.0L1948.0,1195.8L1948.8,1196.7L1949.6,1213.3L1950.4,1206.2L1951.2,1219.8L1952.0,1206.9L1952.8,1220.2L1953.6,1200.3L1954.4,1211.3L1955.2,1216.6L1956.0,1213.6L1957.0,1221.0L1957.6,1214.1L1958.4,1221.5L1959.2,1217.4L1960.0,1223.9L1960.8,1221.8L1961.6,1215.9L1962.4,1221.8L1963.2,1226.3L1964.0,1215.0L1964.8,1227.9L1965.6,1238.9L1966.4,1226.0L1967.2,1233.5L1968.0,1234.7L1968.8,1222.3L1969.6,1242.0L1970.4,1253.3L1971.2,1221.8L1972.0,1251.0L1972.8,1225.7L1973.6,1245.8L1974.4,1216.7L1975.2,1243.9L1976.0,1235.4L1976.8,1223.1L1977.6,1227.7L1978.4,1226.2L1979.0,1227.9L1980.0,1241.9L1980.8,1238.8L1981.6,1219.6L1982.4,1241.4L1983.2,1250.4L1984.0,1248.9L1984.8,1265.3L1985.6,1235.3L1986.4,1256.0L1987.2,1256.0L1988.0,1264.2L1989.0,1247.9L1989.6,1248.5L1990.4,1259.2L1991.2,1261.9L1992.0,1245.2L1992.8,1265.3L1993.6,1262.3L1994.4,1269.4L1995.2,1239.5L1996.0,1268.1L1996.8,1255.9L1997.6,1260.0L1998.4,1271.8L1999.2,1280.5L2000.0,1266.9L2000.8,1265.0L2001.6,1278.2L2002.4,1258.7L2003.2,1265.8L2004.0,1263.0L2004.8,1259.1L2005.6,1270.1L2006.4,1287.2L2007.2,1271.4L2008.0,1274.1L2008.8,1269.7L2009.6,1280.6L2010.4,1272.4L2011.2,1263.2L2012.0,1272.5L2012.8,1285.0L2013.6,1271.6L2014.4,1283.6L2015.2,1272.5L2016.0,1291.9L2016.8,1276.5L2017.6,1280.3L2018.4,1272.1L2019.2,1282.7L2020.0,1273.5L2021.0,1262.7L2021.6,1278.9L2022.4,1265.4L2023.2,1289.9L2024.0,1283.8L2024.8,1277.0L2025.6,1283.2L2026.4,1253.6L2027.2,1291.2L2028.0,1271.5L2028.8,1283.6L2029.6,1300.9L2030.4,1263.3L2031.2,1274.3L2032.0,1281.3L2032.8,1282.2L2033.6,1263.2L2034.4,1270.2L2035.2,1292.3L2036.0,1273.5L2036.8,1284.2L2037.6,1266.9L2038.4,1271.2L2039.2,1263.1L2040.0,1282.2L2040.8,1290.4L2041.6,1280.9L2042.4,1277.7L2043.2,1282.6L2044.0,1284.8L2044.8,1278.1L2045.6,1285.9L2046.4,1298.7L2047.2,1301.3L2048.0,1276.1L2048.8,1270.1L2049.6,1299.0L2050.4,1290.7L2051.2,1293.0L2052.0,1287.6L2052.8,1280.2L2053.6,1291.3L2054.4,1292.7L2055.2,1293.4L2056.0,1273.1L2057.0,1292.4L2057.6,1279.9L2058.4,1279.9L2059.2,1286.4L2060.0,1280.1L2060.8,1304.3L2061.6,1288.4L2062.4,1285.8L2063.2,1281.7L2064.0,1285.7L2064.8,1281.4L2065.6,1288.8L2066.4,1291.4L2067.2,1291.2L2068.0,1272.3L2068.8,1280.7L2069.6,1284.5L2070.4,1272.8L2071.2,1287.3L2072.0,1282.6L2072.8,1284.5L2073.6,1287.5L2074.4,1278.4L2075.2,1298.2L2076.0,1293.5L2076.8,1279.2L2077.6,1288.4L2078.4,1291.0L2079.2,1277.4L2080.0,1281.1L2080.8,1290.7L2081.6,1261.1L2082.4,1272.6L2083.2,1287.5L2084.0,1290.2L2084.8,1276.3L2085.6,1292.4L2086.4,1304.8L2087.2,1286.7L2088.0,1284.4L2088.8,1285.5L2089.6,1275.7L2090.4,1289.9L2091.2,1286.6L2092.0,1291.8L2093.0,1298.0L2093.6,1285.7L2094.4,1287.3L2095.2,1288.9L2096.0,1302.1L2096.8,1273.5L2097.6,1286.9L2098.4,1281.6L2099.2,1288.8L2100.0,1295.5L2100.8,1288.9L2101.6,1295.3L2102.4,1290.6L2103.2,1282.8L2104.0,1283.6L2104.8,1277.4L2105.6,1292.2L2106.4,1287.0L2107.2,1298.5L2108.0,1299.9L2108.8,1283.5L2109.6,1282.0L2110.4,1297.7L2111.2,1284.6L2112.0,1294.7L2112.8,1298.7L2113.6,1290.0L2114.4,1309.9L2115.2,1287.1L2116.0,1298.3L2116.8,1291.0L2117.6,1269.0L2118.4,1293.9L2119.2,1294.3L2120.0,1301.3L2120.8,1295.2L2121.6,1290.1L2122.4,1292.4L2123.2,1294.6L2124.0,1304.6L2125.0,1295.6L2125.6,1308.9L2126.4,1304.9L2127.2,1289.9L2128.0,1305.4L2128.8,1275.1L2129.6,1295.3L2130.4,1285.7L2131.2,1293.1L2132.0,1303.9L2132.8,1292.9L2133.6,1290.9L2134.4,1303.4L2135.2,1284.4L2136.0,1283.3L2136.8,1299.1L2137.6,1295.3L2138.4,1276.3L2139.2,1290.0L2140.0,1295.2L2140.8,1286.1L2141.6,1283.4L2142.4,1287.7L2143.2,1287.9L2144.0,1279.1L2144.8,1292.5L2145.6,1270.1L2146.0,1283.4L2146.4,1303.3L2147.2,1274.1L2148.0,1283.1L2148.8,1262.7L2149.6,1275.5L2150.4,1272.3L2151.2,1283.0L2152.0,1277.8L2152.8,1298.6L2153.6,1273.4L2154.4,1281.2L2155.2,1283.2L2156.0,1286.8L2156.8,1288.8L2157.6,1266.4L2158.4,1300.1L2159.2,1277.2L2160.0,1273.3L2160.8,1264.6L2161.6,1275.2L2162.4,1263.0L2163.2,1280.4L2164.0,1273.1L2164.8,1281.2L2165.6,1270.9L2166.4,1278.4L2167.2,1297.6L2168.0,1287.8L2168.8,1278.5L2169.6,1267.9L2170.4,1289.7L2171.2,1261.0L2172.0,1263.3L2172.8,1287.5L2173.6,1270.1L2174.4,1287.5L2175.0,1280.3L2176.0,1293.0L2176.8,1288.1L2177.6,1275.9L2178.4,1263.5L2179.2,1273.2L2180.0,1279.1L2180.8,1266.3L2181.6,1237.5L2182.4,1258.9L2183.2,1257.6L2184.0,1259.0L2184.8,1255.0L2185.6,1267.1L2186.0,1244.6L2186.4,1259.7L2187.2,1237.2L2188.0,1234.8L2188.8,1244.6L2189.6,1246.3L2190.4,1244.4L2191.2,1245.5L2192.0,1256.7L2192.8,1255.7L2193.6,1250.5L2194.4,1251.0L2195.2,1242.3L2196.0,1239.0L2196.8,1234.4L2197.6,1242.8L2198.4,1235.7L2199.2,1242.3L2200.0,1251.1L2200.8,1248.9L2201.6,1255.2L2202.4,1234.2L2203.2,1222.1L2204.0,1231.3L2204.8,1258.6L2205.6,1246.3L2206.4,1235.4L2207.2,1250.6L2208.0,1234.3" fill="none" stroke="#2f80c3" stroke-width="2.6" stroke-linejoin="round"/>
<line x1="408" y1="1347" x2="408" y2="1553" stroke="#fdd5ad" stroke-width="3.5"/>
<circle cx="408" cy="1347" r="14" fill="url(#gO)"/>
<line x1="883.4" y1="1476" x2="883.4" y2="1553" stroke="#fdd5ad" stroke-width="3.5"/>
<circle cx="883.4" cy="1476" r="14" fill="url(#gO)"/>
<line x1="1027.7" y1="1512.3" x2="1027.7" y2="1553" stroke="#fdd5ad" stroke-width="3.5"/>
<circle cx="1027.7" cy="1512.3" r="14" fill="url(#gO)"/>
<line x1="1755.6" y1="1528.5" x2="1755.6" y2="1553" stroke="#fdd5ad" stroke-width="3.5"/>
<circle cx="1755.6" cy="1528.5" r="14" fill="url(#gO)"/>
<line x1="1832.4" y1="1509.2" x2="1832.4" y2="1553" stroke="#fdd5ad" stroke-width="3.5"/>
<circle cx="1832.4" cy="1509.2" r="14" fill="url(#gO)"/>
<line x1="1891.8" y1="1512.1" x2="1891.8" y2="1553" stroke="#fdd5ad" stroke-width="3.5"/>
<circle cx="1891.8" cy="1512.1" r="14" fill="url(#gO)"/>
<rect x="262.5" y="98.2" width="1951.50" height="3.30" fill="#e8e8e8"/>
<rect x="269.4" y="90.5" width="3.60" height="1490.50" fill="#ededed"/>
<rect x="262.5" y="1322.5" width="1951.50" height="3.20" fill="#ececec"/>
<rect x="262.5" y="1548.5" width="1951.50" height="3.00" fill="#dcdcdc"/>
<rect x="262.5" y="90.5" width="1951.50" height="3.80" fill="#9c9c9c"/>
<rect x="262.5" y="94.3" width="1951.50" height="3.90" fill="#0a0a0a"/>
<rect x="262.5" y="1325.7" width="1951.50" height="4.60" fill="#0c0c0c"/>
<rect x="262.5" y="1330.3" width="1951.50" height="3.50" fill="#9a9a9a"/>
<rect x="262.5" y="1551.5" width="1951.50" height="1.50" fill="#a0a0a0"/>
<rect x="262.5" y="1553" width="1951.50" height="4.20" fill="#0a0a0a"/>
<rect x="262.5" y="1557.2" width="1951.50" height="2.30" fill="#dadada"/>
<rect x="262.5" y="90.5" width="3.20" height="1490.50" fill="#9c9c9c"/>
<rect x="265.7" y="94.3" width="3.70" height="1486.70" fill="#0a0a0a"/>
<rect x="2206.2" y="90.5" width="3.80" height="1490.50" fill="#7c7c7c"/>
<rect x="2210" y="94.3" width="3.70" height="1486.70" fill="#151515"/>
<rect x="2206.2" y="94.3" width="3.80" height="3.90" fill="#0a0a0a"/>
<line x1="428.0" y1="1555" x2="428.0" y2="1568" stroke="#111" stroke-width="4.5"/>
<line x1="590.0" y1="1555" x2="590.0" y2="1580" stroke="#111" stroke-width="4.5"/>
<line x1="752.0" y1="1555" x2="752.0" y2="1568" stroke="#111" stroke-width="4.5"/>
<line x1="914.0" y1="1555" x2="914.0" y2="1580" stroke="#111" stroke-width="4.5"/>
<line x1="1076.0" y1="1555" x2="1076.0" y2="1568" stroke="#111" stroke-width="4.5"/>
<line x1="1238.0" y1="1555" x2="1238.0" y2="1580" stroke="#111" stroke-width="4.5"/>
<line x1="1400.0" y1="1555" x2="1400.0" y2="1568" stroke="#111" stroke-width="4.5"/>
<line x1="1562.0" y1="1555" x2="1562.0" y2="1580" stroke="#111" stroke-width="4.5"/>
<line x1="1724.0" y1="1555" x2="1724.0" y2="1568" stroke="#111" stroke-width="4.5"/>
<line x1="1886.0" y1="1555" x2="1886.0" y2="1580" stroke="#111" stroke-width="4.5"/>
<line x1="2048.0" y1="1555" x2="2048.0" y2="1568" stroke="#111" stroke-width="4.5"/>
<text x="266.0" y="1657" font-size="75" font-weight="bold" text-anchor="middle" fill="#000">10</text>
<text x="590.0" y="1657" font-size="75" font-weight="bold" text-anchor="middle" fill="#000">20</text>
<text x="914.0" y="1657" font-size="75" font-weight="bold" text-anchor="middle" fill="#000">30</text>
<text x="1238.0" y="1657" font-size="75" font-weight="bold" text-anchor="middle" fill="#000">40</text>
<text x="1562.0" y="1657" font-size="75" font-weight="bold" text-anchor="middle" fill="#000">50</text>
<text x="1886.0" y="1657" font-size="75" font-weight="bold" text-anchor="middle" fill="#000">60</text>
<text x="2210.0" y="1657" font-size="75" font-weight="bold" text-anchor="middle" fill="#000">70</text>
<text x="937" y="1774" font-size="89" font-weight="bold" text-anchor="start" fill="#000">2θ(degree)</text>
<text transform="translate(150,828.5) rotate(-90) scale(0.972,1)" font-size="90" font-weight="bold" text-anchor="middle">Intensity(a.u.)</text>
<text x="102" y="145" font-size="82" font-weight="bold" text-anchor="start" fill="#000">(a)</text>
<text transform="translate(1429,222) scale(0.981,1)" font-size="82" font-weight="bold" fill="#ff0000">MoS<tspan font-size="56" dy="21">2</tspan><tspan dy="-21">(ICDD;37-1492)</tspan></text>
<path d="M263.0,2317.8L264.0,2319.1L265.0,2314.0L266.0,2313.7L267.0,2316.6L268.0,2319.8L269.0,2316.7L270.0,2312.9L271.0,2313.8L272.0,2315.4L273.0,2317.7L274.0,2315.4L275.0,2314.5L276.0,2314.8L277.0,2315.7L278.0,2313.5L279.0,2315.2L280.0,2315.7L281.0,2318.9L282.0,2314.9L283.0,2317.2L284.0,2312.5L285.0,2316.9L286.0,2315.2L287.0,2313.5L288.0,2314.6L289.0,2316.8L290.0,2313.8L291.0,2316.9L292.0,2318.1L293.0,2318.2L294.0,2318.2L295.0,2311.3L296.0,2315.1L297.0,2312.6L298.0,2316.4L299.0,2314.3L299.6,2314.6L301.0,2314.7L302.0,2311.8L303.0,2313.1L304.0,2310.8L305.0,2317.1L306.0,2310.7L307.0,2311.5L308.0,2306.9L309.0,2307.3L310.0,2308.4L311.0,2311.9L312.0,2311.5L313.0,2310.0L314.0,2307.5L315.0,2313.0L316.0,2305.8L317.0,2305.9L318.0,2308.7L319.0,2304.8L320.0,2307.5L321.0,2308.8L322.0,2306.0L323.0,2306.7L324.0,2305.5L325.0,2303.5L326.0,2297.2L327.0,2301.5L328.0,2304.0L329.0,2299.8L330.0,2302.0L331.0,2303.4L332.0,2305.7L333.0,2299.0L334.0,2300.6L335.0,2302.0L336.0,2302.4L337.0,2297.5L338.0,2304.8L339.0,2298.2L340.0,2302.9L341.0,2300.1L342.0,2301.8L343.0,2305.0L344.0,2303.0L345.0,2301.9L346.0,2299.5L347.0,2300.5L348.0,2299.0L349.0,2307.4L350.0,2299.2L351.0,2297.0L352.0,2307.2L353.0,2306.6L354.0,2303.0L355.0,2306.1L356.0,2302.4L357.0,2303.2L358.0,2306.0L359.0,2306.0L360.0,2304.7L361.0,2310.4L362.0,2309.0L363.0,2308.3L364.0,2305.9L365.0,2309.8L366.0,2309.4L367.0,2310.7L368.0,2313.6L369.0,2311.0L370.0,2313.7L371.0,2315.7L372.0,2315.4L373.0,2320.8L374.0,2311.9L375.0,2316.6L376.0,2314.7L377.0,2318.1L378.0,2324.9L379.0,2315.8L380.0,2319.7L381.0,2322.7L382.0,2322.1L383.0,2324.8L384.0,2319.6L385.0,2326.4L386.0,2322.1L387.0,2321.7L388.0,2326.2L389.0,2326.3L390.0,2323.7L391.0,2323.8L392.0,2325.5L393.0,2326.2L394.0,2326.1L395.0,2324.4L396.0,2321.6L397.0,2330.5L398.0,2328.0L399.0,2324.9L400.0,2324.4L401.0,2326.8L402.0,2327.7L403.0,2323.9L404.0,2332.6L405.0,2330.6L406.0,2329.1L407.0,2330.9L408.0,2330.9L409.0,2333.2L410.0,2331.3L411.0,2334.2L412.0,2335.2L413.0,2331.0L414.0,2330.9L415.0,2330.2L416.0,2332.0L417.0,2331.1L418.0,2333.1L419.0,2334.1L420.0,2334.9L421.0,2331.2L422.0,2336.8L423.0,2333.7L424.0,2334.5L425.0,2333.8L426.0,2330.5L427.0,2336.1L428.0,2331.4L429.0,2338.5L430.0,2336.2L431.0,2340.0L432.0,2338.0L433.0,2338.4L434.0,2340.3L435.0,2337.0L436.0,2341.0L437.0,2337.2L438.0,2338.4L439.0,2336.3L440.0,2339.5L441.0,2340.0L442.0,2337.4L443.0,2335.7L444.0,2338.9L445.0,2340.2L446.0,2339.0L447.0,2337.3L448.0,2338.1L449.0,2339.4L450.0,2334.0L451.0,2339.1L452.0,2344.1L453.0,2337.8L454.0,2340.6L455.0,2345.3L456.0,2343.2L457.0,2343.9L458.0,2341.6L459.0,2339.0L460.0,2349.2L461.0,2343.3L462.0,2343.3L463.0,2346.9L464.0,2345.1L465.0,2343.5L466.0,2341.0L467.0,2343.4L468.0,2343.7L469.0,2342.6L470.0,2342.4L471.0,2342.3L472.0,2344.6L473.0,2343.6L474.0,2346.2L475.0,2347.9L476.0,2346.4L477.0,2345.9L477.6,2349.7L479.0,2347.7L480.0,2342.7L481.0,2344.6L482.0,2346.9L483.0,2344.5L484.0,2348.5L485.0,2342.6L486.0,2342.3L487.0,2349.3L488.0,2348.5L489.0,2343.3L490.0,2347.4L491.0,2350.6L492.0,2344.8L493.0,2344.7L494.0,2344.8L495.0,2345.4L496.0,2343.7L497.0,2346.8L498.0,2344.6L499.0,2348.3L500.0,2353.6L501.0,2345.9L502.0,2350.6L503.0,2351.4L504.0,2343.2L505.0,2349.0L506.0,2348.9L507.0,2348.2L508.0,2351.0L509.0,2348.1L510.0,2350.1L511.0,2348.5L512.0,2349.2L513.0,2347.7L514.0,2355.1L515.0,2349.6L516.0,2347.2L517.0,2354.6L518.0,2353.9L519.0,2349.7L520.0,2348.7L521.0,2348.6L522.0,2353.4L523.0,2349.8L524.0,2349.0L525.0,2352.8L526.0,2350.3L527.0,2350.9L528.0,2355.7L529.0,2353.3L530.0,2354.3L531.0,2352.4L532.0,2354.6L533.0,2351.2L534.0,2354.0L535.0,2354.3L536.0,2350.9L537.0,2348.9L538.0,2353.4L539.0,2351.9L540.0,2353.7L541.0,2350.9L542.0,2353.7L543.0,2354.9L544.0,2358.3L545.0,2357.0L546.0,2353.8L547.0,2356.4L548.0,2351.5L549.0,2355.9L550.0,2353.6L551.0,2356.5L552.0,2354.2L553.0,2353.0L554.0,2351.9L555.0,2356.7L556.0,2353.9L557.0,2355.6L558.0,2355.1L559.0,2349.2L560.0,2355.6L561.0,2353.4L562.0,2355.3L563.0,2355.6L564.0,2350.2L565.0,2353.9L566.0,2354.6L567.0,2355.8L568.0,2357.2L569.0,2353.4L570.0,2354.6L571.0,2356.7L572.0,2350.9L573.0,2359.8L574.0,2353.2L575.0,2358.7L576.0,2356.0L577.0,2360.3L578.0,2358.4L579.0,2355.9L580.0,2352.0L581.0,2356.5L582.0,2357.0L583.0,2357.6L584.0,2353.4L585.0,2354.6L586.0,2354.8L587.0,2357.4L588.0,2354.7L589.0,2356.6L590.0,2359.2L591.0,2356.0L592.0,2360.2L593.0,2357.7L594.0,2356.4L595.0,2359.6L596.0,2358.2L597.0,2356.3L598.0,2355.6L599.0,2356.9L600.0,2357.8L601.0,2359.7L602.0,2357.6L603.0,2355.5L604.0,2353.8L605.0,2357.6L606.0,2357.9L607.0,2359.7L608.0,2355.7L609.0,2353.9L610.0,2359.0L611.0,2356.6L612.0,2354.1L613.0,2361.0L614.0,2359.1L615.0,2357.2L616.0,2357.7L617.0,2355.2L618.0,2359.4L619.0,2356.0L620.0,2355.9L621.0,2356.3L622.0,2354.3L623.0,2359.5L624.0,2361.0L625.0,2358.8L626.0,2352.1L627.0,2356.3L628.0,2355.5L629.0,2357.9L630.0,2351.9L631.0,2351.9L632.0,2355.9L633.0,2359.3L634.0,2356.6L635.0,2362.3L636.0,2355.0L637.0,2357.1L638.0,2356.7L639.0,2355.0L640.0,2359.7L641.0,2353.9L642.0,2354.5L643.0,2356.1L644.0,2355.9L645.0,2359.7L646.0,2355.7L647.0,2358.2L648.0,2355.9L649.0,2360.1L650.0,2357.0L651.0,2357.6L652.0,2353.1L653.0,2358.7L654.0,2355.5L655.0,2359.1L655.6,2358.2L657.0,2358.3L658.0,2359.7L659.0,2357.9L660.0,2354.9L661.0,2357.4L662.0,2357.4L663.0,2354.2L664.0,2358.5L665.0,2360.5L666.0,2357.6L667.0,2357.3L668.0,2358.1L669.0,2359.6L670.0,2355.7L671.0,2359.3L672.0,2355.2L673.0,2358.3L674.0,2358.2L675.0,2353.9L676.0,2358.6L677.0,2357.5L678.0,2353.0L679.0,2355.9L680.0,2355.5L681.0,2354.9L682.0,2358.0L683.0,2355.1L684.0,2357.1L685.0,2354.4L686.0,2356.4L687.0,2361.4L688.0,2358.0L689.0,2353.3L690.0,2354.8L691.0,2356.7L692.0,2353.1L693.0,2359.3L694.0,2356.9L695.0,2356.8L696.0,2357.1L697.0,2355.4L698.0,2354.3L699.0,2349.6L700.0,2353.1L701.0,2357.6L702.0,2358.6L703.0,2356.6L704.0,2352.6L705.0,2356.2L706.0,2357.1L707.0,2353.9L708.0,2360.3L709.0,2354.3L710.0,2357.0L711.0,2354.4L712.0,2359.2L713.0,2354.0L714.0,2354.9L715.0,2359.7L716.0,2354.0L717.0,2355.7L718.0,2358.3L719.0,2357.8L720.0,2352.8L721.0,2358.4L721.5,2356.3L722.0,2359.9L723.0,2352.9L724.0,2358.8L725.0,2358.0L726.0,2356.1L727.0,2356.0L728.0,2357.9L729.0,2355.4L730.0,2356.2L731.0,2355.2L732.0,2357.3L733.0,2358.6L734.0,2353.2L735.0,2357.1L736.0,2357.7L737.0,2360.6L738.0,2355.2L739.0,2360.0L740.0,2355.9L741.0,2358.2L742.0,2357.5L743.0,2357.6L744.0,2356.2L745.0,2354.7L746.0,2360.5L747.0,2360.5L748.0,2356.7L749.0,2356.6L750.0,2356.5L751.0,2353.8L752.0,2354.3L753.0,2358.0L754.0,2359.3L755.0,2356.5L756.0,2354.8L757.0,2354.4L758.0,2355.5L759.0,2358.7L760.0,2357.1L761.0,2353.6L762.0,2354.1L763.0,2357.7L764.0,2357.6L765.0,2361.0L766.0,2360.2L767.0,2357.2L768.0,2355.1L769.0,2357.1L770.0,2353.9L771.0,2354.9L772.0,2358.9L773.0,2358.0L774.0,2358.7L775.0,2360.1L776.0,2355.4L777.0,2358.3L778.0,2356.5L779.0,2357.0L780.0,2356.8L781.0,2357.5L782.0,2352.9L783.0,2352.9L784.0,2356.3L785.0,2357.2L786.0,2354.9L786.8,2355.7L788.0,2351.4L789.0,2355.9L790.0,2353.7L791.0,2355.1L792.0,2349.5L793.0,2349.1L794.0,2348.5L795.0,2350.5L796.0,2347.5L797.1,2345.9L798.0,2340.1L799.0,2340.9L800.0,2338.3L801.0,2340.3L802.0,2341.7L803.0,2338.6L804.0,2335.2L805.3,2340.8L806.0,2333.6L807.0,2339.9L808.0,2339.8L809.0,2338.0L810.0,2341.0L811.0,2335.6L812.0,2337.3L813.0,2338.3L814.0,2340.3L815.0,2339.3L815.6,2344.1L817.0,2338.4L818.0,2338.2L819.0,2335.4L820.0,2338.9L821.0,2339.1L822.0,2335.0L823.0,2333.2L824.0,2332.4L825.0,2338.0L826.0,2336.6L827.0,2334.9L828.0,2335.5L829.0,2334.4L830.0,2333.8L831.0,2326.8L832.0,2329.9L833.0,2328.4L834.0,2327.4L835.0,2325.0L836.0,2319.1L837.0,2319.4L838.0,2313.4L839.0,2318.2L840.4,2308.7L841.0,2308.8L842.0,2297.2L843.0,2289.1L844.0,2280.9L844.5,2278.2L845.0,2271.6L846.0,2256.8L847.0,2236.8L847.6,2229.6L849.0,2200.8L849.6,2191.3L851.0,2136.8L851.7,2114.9L853.0,2085.6L854.0,2061.0L854.8,2043.5L856.0,2014.7L857.3,1987.6L858.0,2000.9L859.0,2020.7L860.0,2039.9L861.0,2077.8L862.0,2111.3L863.0,2152.1L864.1,2198.1L865.0,2220.7L866.1,2256.0L867.0,2269.5L868.0,2281.2L869.2,2297.3L870.0,2307.3L871.0,2307.6L872.0,2309.7L873.0,2313.1L874.0,2315.1L875.4,2321.6L876.0,2319.7L877.0,2327.8L878.0,2326.6L879.0,2331.3L880.0,2330.5L881.0,2327.1L882.0,2337.7L883.0,2335.7L884.0,2337.9L885.0,2335.8L886.0,2337.1L887.0,2339.4L887.8,2345.1L889.0,2338.5L890.0,2339.4L891.0,2343.7L892.0,2338.3L893.0,2347.0L894.0,2341.2L895.0,2347.3L896.0,2344.6L897.0,2344.6L898.0,2343.2L899.0,2349.9L900.0,2346.3L901.0,2344.3L902.0,2349.5L903.0,2348.1L904.2,2350.3L905.0,2348.2L906.0,2350.1L907.0,2350.3L908.0,2349.4L909.0,2345.5L910.0,2350.6L911.0,2352.8L912.0,2350.7L913.0,2351.9L914.0,2351.6L915.0,2349.1L916.0,2352.4L917.0,2349.4L918.0,2347.6L919.0,2347.1L920.0,2352.6L921.0,2351.9L922.0,2351.8L923.0,2349.0L924.0,2346.1L925.0,2352.3L926.0,2350.3L927.0,2349.2L928.0,2349.2L929.0,2349.4L930.0,2346.4L931.0,2352.4L932.0,2352.6L933.0,2353.1L934.0,2350.3L935.1,2348.2L936.0,2347.7L937.0,2349.9L938.0,2354.5L939.0,2352.2L940.0,2349.8L941.0,2350.5L942.0,2351.0L943.0,2349.0L944.0,2349.1L945.0,2348.7L946.0,2346.5L947.0,2344.9L948.0,2346.0L949.0,2349.8L950.0,2343.0L951.0,2345.4L952.0,2345.1L953.0,2345.9L954.0,2344.5L955.0,2347.1L955.8,2344.1L957.0,2344.1L958.0,2345.1L959.0,2339.4L960.0,2344.6L961.0,2343.8L962.0,2337.5L963.0,2339.7L964.0,2337.5L965.0,2337.7L966.0,2339.7L967.0,2332.7L968.0,2338.5L969.0,2336.8L970.0,2335.0L971.0,2339.6L972.0,2332.5L973.0,2329.4L974.0,2333.2L975.0,2331.9L976.4,2329.1L977.0,2324.4L978.0,2323.1L979.0,2329.6L980.0,2320.3L981.0,2325.3L982.0,2322.1L983.0,2313.1L984.0,2316.9L985.0,2316.1L986.0,2315.4L987.0,2314.0L988.0,2312.0L989.0,2307.0L990.0,2304.7L990.8,2303.3L992.0,2301.7L993.0,2295.4L994.0,2292.3L995.0,2297.5L996.0,2291.5L997.0,2289.0L998.0,2283.1L999.0,2278.8L1000.0,2277.1L1001.1,2273.1L1002.0,2275.3L1003.0,2275.0L1004.0,2282.2L1005.0,2283.5L1006.0,2286.6L1007.3,2287.4L1008.0,2286.7L1009.0,2294.7L1010.0,2293.6L1011.0,2294.2L1012.0,2296.5L1013.0,2295.2L1014.0,2299.2L1015.0,2297.2L1016.0,2302.8L1017.0,2304.2L1018.0,2305.5L1019.0,2305.9L1019.6,2306.2L1021.0,2308.4L1022.0,2311.0L1023.0,2309.6L1024.0,2313.7L1025.0,2315.3L1026.0,2311.8L1027.0,2312.2L1028.0,2318.3L1029.0,2318.2L1029.9,2318.4L1031.0,2317.8L1032.0,2318.6L1033.0,2317.7L1034.0,2321.2L1035.0,2318.9L1036.0,2318.9L1037.0,2323.1L1038.0,2327.4L1039.0,2327.2L1040.0,2324.3L1041.0,2326.1L1042.0,2325.0L1043.0,2325.8L1044.0,2324.7L1045.0,2327.0L1046.0,2324.9L1047.0,2326.1L1048.0,2327.9L1048.5,2328.3L1049.0,2333.4L1050.0,2326.7L1051.0,2326.3L1052.0,2330.6L1053.0,2330.7L1054.0,2331.1L1055.0,2329.4L1056.0,2326.3L1057.0,2329.2L1058.0,2327.2L1059.0,2330.2L1060.0,2334.7L1061.0,2329.9L1062.0,2331.0L1063.0,2333.4L1064.0,2327.7L1065.0,2332.7L1066.0,2330.2L1067.0,2329.5L1068.0,2330.3L1069.0,2328.9L1070.0,2333.4L1071.0,2331.6L1072.0,2330.4L1073.0,2332.7L1074.0,2328.1L1075.0,2325.2L1076.0,2334.9L1077.0,2330.5L1078.0,2333.7L1079.0,2329.9L1080.0,2327.8L1081.0,2329.6L1082.0,2334.4L1083.0,2333.2L1084.0,2330.9L1085.0,2334.1L1086.0,2331.9L1087.0,2333.0L1088.0,2330.2L1089.0,2327.4L1090.0,2333.1L1091.0,2334.5L1092.0,2330.9L1093.0,2336.8L1094.0,2333.8L1095.0,2337.4L1096.0,2334.9L1097.0,2336.3L1098.0,2332.9L1099.0,2330.1L1100.0,2338.9L1101.0,2336.8L1102.0,2335.4L1103.0,2331.7L1104.0,2336.1L1105.0,2331.6L1106.0,2335.3L1107.0,2336.3L1108.0,2335.5L1109.0,2332.0L1110.0,2335.9L1111.0,2334.9L1112.0,2335.9L1113.0,2337.6L1114.0,2333.1L1115.0,2332.8L1116.0,2329.9L1117.0,2338.5L1118.0,2333.1L1119.0,2338.1L1120.0,2335.9L1121.0,2337.9L1122.0,2335.7L1123.0,2336.3L1124.0,2334.6L1125.0,2336.3L1126.0,2332.8L1127.0,2337.7L1128.0,2331.3L1129.0,2334.1L1130.0,2334.5L1131.0,2335.6L1132.0,2335.2L1133.0,2333.2L1134.0,2335.7L1135.0,2329.1L1136.0,2333.9L1137.0,2335.4L1138.0,2334.0L1139.0,2338.0L1140.0,2335.4L1141.0,2336.9L1142.0,2333.1L1143.0,2338.0L1144.0,2337.6L1145.0,2332.3L1146.0,2339.3L1147.0,2333.2L1148.0,2333.2L1149.0,2338.0L1150.0,2340.2L1151.0,2337.7L1152.0,2335.8L1153.0,2334.5L1154.0,2334.5L1155.0,2336.7L1156.0,2337.1L1157.0,2334.0L1158.0,2337.5L1159.0,2331.2L1160.0,2337.0L1161.0,2334.3L1162.0,2333.4L1163.0,2341.5L1164.0,2338.0L1165.0,2335.9L1166.0,2334.0L1167.0,2340.0L1168.0,2336.9L1169.0,2334.9L1170.0,2331.1L1171.0,2339.0L1172.0,2338.6L1173.0,2338.1L1174.0,2334.4L1175.0,2332.6L1176.0,2339.7L1177.0,2336.3L1178.0,2338.8L1179.0,2331.0L1180.0,2336.5L1181.0,2338.8L1182.0,2337.1L1183.0,2341.6L1184.0,2339.4L1185.0,2339.8L1186.0,2338.9L1187.0,2336.8L1188.0,2335.5L1189.0,2335.5L1190.0,2340.5L1191.0,2337.1L1192.0,2332.5L1193.0,2338.0L1194.0,2337.8L1195.0,2336.5L1196.0,2338.7L1197.0,2335.6L1198.0,2344.0L1199.0,2336.8L1200.0,2335.5L1201.0,2338.2L1202.0,2338.4L1203.0,2340.0L1204.0,2338.6L1205.0,2339.6L1206.0,2338.2L1207.0,2337.5L1208.0,2335.7L1209.0,2336.5L1210.0,2338.2L1211.0,2335.4L1212.0,2340.3L1213.0,2337.7L1214.0,2341.3L1215.0,2340.4L1216.0,2337.9L1217.0,2345.9L1218.0,2342.0L1219.0,2337.1L1220.0,2339.8L1221.0,2337.4L1222.0,2336.6L1223.0,2339.3L1224.0,2337.8L1225.0,2341.0L1226.0,2335.7L1227.0,2339.7L1228.0,2342.2L1229.0,2339.8L1230.0,2343.7L1231.0,2343.9L1232.0,2336.4L1233.0,2338.5L1234.0,2338.0L1235.0,2343.0L1236.0,2338.3L1237.0,2334.6L1238.0,2338.0L1239.0,2338.8L1240.0,2339.3L1241.0,2339.3L1242.0,2339.8L1243.0,2337.9L1244.0,2339.7L1245.0,2338.8L1246.0,2338.9L1247.0,2339.3L1248.0,2342.0L1249.0,2340.6L1250.0,2341.6L1251.0,2338.3L1252.0,2336.1L1253.0,2339.8L1254.0,2342.3L1255.0,2340.2L1256.0,2339.1L1257.0,2336.6L1258.0,2341.2L1259.0,2338.5L1260.0,2336.5L1261.0,2341.4L1262.0,2340.8L1263.0,2343.6L1264.0,2337.7L1265.0,2337.4L1266.0,2341.1L1267.0,2344.5L1268.0,2341.3L1269.0,2342.5L1270.0,2337.7L1271.0,2341.7L1272.0,2337.6L1273.0,2336.9L1274.0,2342.9L1275.0,2344.0L1276.0,2339.7L1277.0,2341.8L1278.0,2342.8L1279.0,2341.0L1280.0,2341.7L1281.0,2342.5L1282.0,2339.7L1283.0,2339.2L1284.0,2342.9L1285.0,2347.4L1286.0,2341.1L1287.0,2341.0L1288.0,2346.6L1289.0,2340.6L1290.0,2340.5L1291.0,2346.8L1292.0,2344.0L1293.0,2344.2L1294.0,2337.4L1295.0,2345.6L1296.0,2342.0L1297.0,2345.0L1298.0,2344.0L1299.0,2347.2L1300.0,2344.8L1301.0,2347.3L1302.0,2341.4L1303.0,2345.7L1304.0,2344.5L1305.0,2341.9L1306.0,2340.0L1307.0,2342.8L1308.0,2341.3L1309.0,2342.3L1310.0,2342.3L1311.0,2341.9L1312.0,2343.8L1313.0,2344.0L1314.0,2341.3L1315.0,2341.9L1316.0,2344.3L1317.0,2342.6L1318.0,2342.8L1319.0,2341.7L1320.0,2339.7L1321.0,2343.5L1322.0,2341.7L1323.0,2344.0L1324.0,2343.5L1325.0,2343.4L1326.0,2346.5L1327.0,2342.5L1328.0,2347.3L1329.0,2345.4L1330.0,2351.0L1331.0,2342.5L1332.0,2343.2L1333.0,2345.7L1334.0,2346.8L1334.6,2344.2L1336.0,2346.9L1337.0,2345.3L1338.0,2341.6L1339.0,2345.8L1340.0,2347.2L1341.0,2346.2L1342.0,2345.0L1343.0,2343.2L1344.0,2347.1L1345.0,2348.8L1346.0,2342.1L1347.0,2347.0L1348.0,2341.2L1349.0,2346.1L1350.0,2339.2L1351.0,2345.2L1352.0,2347.2L1353.0,2342.2L1354.0,2342.5L1355.0,2346.1L1356.0,2345.2L1357.0,2346.6L1358.0,2349.3L1359.0,2343.2L1360.0,2346.6L1361.0,2341.4L1362.0,2338.8L1363.0,2343.8L1364.0,2339.6L1365.0,2347.4L1366.0,2348.4L1367.0,2347.5L1368.0,2342.4L1369.0,2344.6L1370.0,2342.3L1371.0,2346.0L1372.0,2344.1L1373.0,2349.2L1374.0,2347.6L1375.0,2343.6L1376.0,2350.3L1377.0,2347.3L1378.0,2348.9L1379.0,2346.9L1380.0,2350.0L1381.0,2349.7L1382.0,2348.9L1383.0,2350.4L1384.0,2348.6L1385.0,2347.9L1386.0,2345.4L1387.0,2342.1L1388.0,2350.3L1389.0,2348.8L1390.0,2344.7L1391.0,2349.4L1392.0,2347.8L1393.0,2347.7L1394.0,2352.0L1395.0,2350.0L1396.0,2344.3L1397.0,2347.9L1398.0,2350.2L1399.0,2350.5L1400.0,2349.1L1401.0,2346.8L1402.0,2348.6L1403.0,2343.1L1404.0,2350.7L1405.0,2347.4L1406.0,2346.1L1407.0,2345.7L1408.0,2347.8L1409.0,2345.3L1410.0,2344.9L1411.0,2344.9L1412.0,2351.4L1413.0,2346.9L1414.0,2348.3L1415.0,2347.9L1416.0,2345.5L1417.0,2348.8L1418.0,2346.5L1419.0,2345.0L1420.0,2344.3L1421.0,2345.8L1422.0,2345.5L1423.0,2349.9L1424.0,2340.4L1425.0,2349.2L1426.0,2350.0L1427.0,2350.2L1427.5,2344.7L1428.0,2343.9L1429.0,2348.1L1430.0,2345.8L1431.0,2344.1L1432.0,2340.4L1433.0,2340.9L1434.0,2337.9L1435.0,2343.9L1436.0,2341.5L1437.0,2337.1L1438.0,2339.8L1438.5,2337.2L1439.0,2330.9L1440.0,2335.2L1441.0,2329.9L1442.0,2330.5L1443.0,2326.6L1444.0,2323.3L1445.0,2322.9L1446.0,2324.3L1446.7,2317.4L1448.0,2312.8L1449.0,2307.5L1450.0,2305.7L1451.0,2305.3L1452.2,2300.2L1453.0,2294.9L1454.0,2288.7L1455.0,2285.2L1456.3,2277.3L1457.0,2266.8L1458.0,2245.6L1459.0,2230.9L1460.0,2222.6L1461.0,2210.7L1461.8,2198.3L1463.0,2193.7L1464.0,2192.0L1465.0,2196.6L1466.0,2202.2L1467.3,2214.0L1468.0,2222.0L1469.0,2239.2L1470.0,2252.9L1470.9,2264.7L1472.0,2274.4L1473.0,2289.1L1474.0,2294.6L1474.7,2304.1L1476.0,2307.5L1477.0,2311.9L1478.0,2314.4L1479.0,2321.2L1480.0,2322.6L1481.0,2323.3L1482.0,2324.2L1483.0,2330.4L1484.0,2329.6L1485.0,2334.5L1486.0,2334.0L1487.0,2337.5L1488.0,2332.4L1489.0,2336.3L1490.0,2341.6L1490.7,2336.6L1492.0,2341.9L1493.0,2340.5L1494.0,2343.5L1495.0,2340.7L1496.0,2340.1L1497.0,2344.3L1498.0,2348.0L1499.0,2340.3L1500.0,2344.3L1501.0,2342.1L1502.0,2345.6L1503.0,2346.0L1504.0,2343.5L1505.0,2342.4L1506.0,2346.3L1507.0,2346.6L1508.0,2349.2L1509.0,2347.3L1509.9,2350.4L1511.0,2348.8L1512.0,2351.9L1513.0,2351.1L1514.0,2345.6L1515.0,2348.5L1516.0,2350.4L1517.0,2349.0L1518.0,2350.7L1519.0,2354.2L1520.0,2348.3L1521.0,2349.0L1522.0,2348.8L1523.0,2353.7L1524.0,2356.8L1525.0,2349.6L1526.0,2357.6L1527.0,2348.8L1528.0,2352.7L1529.0,2353.0L1530.0,2353.7L1531.0,2351.5L1532.0,2350.7L1533.0,2353.2L1534.0,2356.4L1535.0,2353.7L1536.0,2355.4L1537.4,2355.9L1538.0,2358.4L1539.0,2352.3L1540.0,2358.9L1541.0,2359.8L1542.0,2352.5L1543.0,2358.1L1544.0,2351.0L1545.0,2353.6L1546.0,2355.0L1547.0,2355.7L1548.0,2351.4L1549.0,2354.2L1550.0,2352.2L1551.0,2358.5L1552.0,2354.0L1553.0,2357.0L1554.0,2355.3L1555.0,2357.8L1556.0,2350.5L1557.0,2356.6L1558.0,2353.3L1559.0,2354.7L1560.0,2358.0L1561.0,2359.1L1562.0,2355.1L1563.0,2356.1L1564.0,2362.2L1565.0,2357.7L1566.0,2360.0L1567.0,2360.2L1568.0,2359.7L1569.0,2357.6L1570.0,2357.7L1571.0,2360.2L1572.0,2351.7L1573.0,2356.5L1574.0,2359.5L1575.0,2359.9L1576.0,2360.1L1577.0,2357.5L1578.0,2356.9L1579.0,2355.5L1580.0,2359.5L1581.0,2359.1L1582.0,2359.5L1583.0,2353.9L1584.0,2358.5L1585.0,2356.9L1586.0,2361.9L1587.0,2361.4L1588.0,2361.4L1589.0,2361.2L1590.0,2362.8L1591.0,2360.7L1592.3,2358.3L1593.0,2360.6L1594.0,2360.4L1595.0,2361.1L1596.0,2361.5L1597.0,2360.5L1598.0,2360.9L1599.0,2360.2L1600.0,2359.8L1601.0,2357.7L1602.0,2358.6L1603.0,2359.3L1604.0,2364.7L1605.0,2359.9L1606.0,2358.3L1607.0,2361.9L1608.0,2361.7L1609.0,2359.8L1610.0,2362.8L1611.0,2358.1L1612.0,2357.8L1613.0,2359.3L1614.0,2359.7L1615.0,2360.0L1616.0,2360.6L1617.0,2362.8L1618.0,2360.8L1619.0,2361.6L1620.0,2360.1L1621.0,2358.2L1622.0,2360.5L1623.0,2358.3L1624.0,2362.4L1625.0,2360.1L1626.0,2358.2L1627.0,2360.6L1628.0,2361.1L1629.0,2359.6L1630.0,2358.3L1631.0,2360.1L1632.0,2359.6L1633.0,2359.6L1634.0,2354.1L1635.0,2359.0L1636.0,2366.0L1637.0,2364.8L1638.0,2363.5L1639.0,2360.4L1640.0,2363.4L1641.0,2362.3L1642.0,2361.1L1643.0,2361.0L1644.0,2361.1L1645.0,2356.9L1646.0,2363.5L1647.0,2363.2L1648.0,2361.7L1649.0,2362.0L1650.0,2359.1L1651.0,2360.9L1652.0,2359.6L1653.0,2358.7L1654.0,2361.9L1655.0,2366.5L1656.0,2365.5L1657.0,2361.4L1658.0,2360.2L1659.0,2366.3L1660.0,2359.2L1661.0,2359.6L1662.0,2362.3L1663.0,2365.9L1664.0,2365.2L1665.0,2356.6L1666.0,2356.7L1667.0,2358.5L1668.0,2364.2L1669.0,2359.2L1670.0,2359.7L1671.0,2364.2L1672.0,2359.0L1673.0,2365.1L1674.0,2356.9L1674.7,2359.9L1676.0,2364.6L1677.0,2358.9L1678.0,2362.0L1679.0,2363.4L1680.0,2363.2L1681.0,2362.4L1682.0,2362.4L1683.0,2362.9L1684.0,2361.5L1685.0,2360.0L1686.0,2365.8L1687.0,2358.4L1688.0,2361.3L1689.0,2359.3L1690.0,2360.3L1691.0,2363.5L1692.0,2356.9L1693.0,2357.2L1694.0,2361.9L1695.0,2360.9L1696.0,2361.0L1697.0,2360.3L1698.0,2361.9L1699.0,2359.7L1700.0,2363.3L1701.0,2360.2L1702.0,2357.1L1703.0,2357.8L1704.0,2361.6L1705.0,2358.3L1706.0,2356.3L1707.0,2361.5L1708.0,2360.3L1709.0,2362.4L1710.0,2363.7L1711.0,2356.7L1712.0,2361.3L1713.2,2358.3L1714.0,2359.0L1715.0,2359.8L1716.0,2358.5L1717.0,2356.7L1718.0,2356.8L1719.0,2356.3L1720.0,2347.5L1721.0,2356.4L1722.0,2355.2L1723.0,2353.6L1724.0,2351.7L1725.0,2355.0L1726.0,2349.7L1727.0,2351.0L1728.0,2347.2L1729.0,2343.5L1729.7,2348.2L1731.0,2343.3L1732.0,2333.9L1733.0,2337.6L1734.0,2331.7L1735.0,2326.9L1736.0,2320.0L1737.0,2315.2L1737.9,2314.1L1739.0,2307.7L1740.0,2299.7L1741.0,2293.7L1742.0,2288.1L1743.0,2283.8L1744.0,2280.6L1745.0,2275.2L1746.2,2266.5L1747.0,2273.2L1748.0,2275.3L1749.0,2278.9L1750.0,2279.5L1751.0,2277.7L1751.6,2282.9L1753.0,2293.1L1754.0,2300.7L1755.0,2302.1L1756.0,2308.7L1757.1,2314.7L1758.0,2320.4L1759.0,2322.1L1760.0,2330.5L1761.0,2328.2L1762.0,2330.2L1763.0,2337.3L1764.0,2339.5L1765.4,2340.5L1766.0,2342.9L1767.0,2342.1L1768.0,2340.6L1769.0,2346.3L1770.0,2344.2L1771.0,2346.8L1772.0,2348.6L1773.0,2346.2L1774.0,2350.5L1775.0,2348.4L1776.4,2351.1L1777.0,2349.5L1778.0,2348.0L1779.0,2345.5L1780.0,2349.2L1781.0,2349.3L1782.0,2357.4L1783.0,2350.5L1784.0,2352.1L1785.0,2350.0L1786.0,2354.4L1787.0,2353.5L1788.0,2352.4L1789.0,2352.6L1790.0,2346.7L1791.0,2350.3L1792.0,2351.8L1793.0,2356.9L1794.0,2358.1L1795.0,2351.3L1796.0,2353.9L1797.0,2353.6L1798.0,2359.0L1799.0,2351.5L1800.0,2354.0L1801.0,2354.2L1802.0,2352.2L1803.0,2350.9L1804.0,2352.7L1805.0,2352.0L1806.0,2348.7L1807.0,2349.2L1808.0,2350.6L1809.0,2348.2L1810.0,2352.3L1811.0,2346.0L1812.0,2345.8L1813.0,2350.0L1814.0,2346.7L1815.0,2345.7L1816.0,2348.7L1817.0,2344.9L1818.0,2340.8L1819.0,2344.6L1820.0,2346.5L1821.0,2344.4L1822.0,2347.6L1823.0,2344.1L1824.0,2343.6L1825.0,2346.2L1826.0,2340.4L1827.0,2333.8L1828.0,2342.2L1829.0,2343.0L1830.0,2340.9L1831.0,2337.3L1832.0,2341.0L1833.0,2342.2L1834.0,2340.1L1835.0,2337.2L1836.0,2339.2L1837.0,2341.4L1838.0,2337.1L1839.0,2343.8L1840.0,2338.0L1841.0,2346.7L1842.0,2340.7L1843.0,2344.9L1844.0,2344.1L1845.0,2338.3L1846.0,2345.3L1847.0,2342.2L1848.0,2343.4L1849.0,2345.4L1850.0,2341.1L1851.0,2344.7L1852.0,2346.9L1853.0,2348.4L1854.0,2349.3L1855.0,2348.3L1856.0,2340.4L1857.0,2348.9L1858.0,2345.8L1859.0,2344.0L1860.0,2349.9L1861.0,2352.0L1862.0,2349.6L1863.0,2349.4L1864.0,2347.6L1865.0,2349.5L1866.0,2353.0L1867.0,2352.0L1868.0,2352.4L1869.0,2351.1L1870.0,2351.2L1871.0,2351.3L1872.0,2349.9L1873.0,2357.1L1874.0,2350.2L1875.0,2357.3L1876.0,2355.8L1877.0,2352.0L1878.0,2356.6L1879.0,2356.4L1880.0,2357.1L1881.0,2354.9L1882.0,2354.3L1883.0,2354.9L1884.0,2355.6L1885.0,2352.5L1886.0,2358.8L1887.0,2354.5L1888.0,2360.0L1889.0,2359.6L1890.0,2351.9L1891.0,2354.6L1892.0,2355.3L1893.0,2357.3L1894.0,2354.9L1895.0,2359.0L1896.0,2357.0L1897.0,2355.1L1898.0,2360.4L1899.0,2356.4L1900.0,2360.2L1901.0,2363.6L1902.0,2358.9L1903.0,2358.0L1904.0,2355.0L1905.0,2360.9L1906.0,2358.8L1907.0,2359.5L1908.0,2362.9L1909.0,2357.5L1910.0,2361.8L1911.0,2364.3L1912.0,2363.0L1913.0,2358.8L1914.0,2364.2L1915.0,2360.6L1916.0,2365.2L1917.0,2362.1L1918.0,2364.6L1919.0,2357.6L1920.0,2362.6L1921.0,2356.9L1922.0,2363.7L1923.0,2360.4L1924.0,2364.5L1925.0,2363.9L1926.0,2368.7L1927.0,2365.3L1928.0,2365.7L1929.0,2359.1L1930.0,2364.7L1931.0,2361.8L1932.0,2364.1L1933.0,2364.5L1934.0,2366.2L1935.0,2367.2L1936.0,2367.3L1937.0,2366.2L1938.0,2364.2L1939.0,2365.7L1940.0,2366.4L1941.0,2367.0L1942.0,2361.7L1943.0,2367.3L1944.0,2362.6L1945.0,2367.4L1946.0,2365.4L1947.0,2362.1L1948.0,2367.2L1949.0,2363.7L1950.0,2367.8L1951.0,2366.9L1952.0,2366.1L1953.0,2368.7L1954.0,2364.3L1955.0,2365.0L1956.0,2366.4L1957.0,2368.2L1958.0,2366.2L1959.0,2359.0L1960.0,2366.5L1961.0,2365.7L1962.0,2365.5L1963.0,2363.0L1964.0,2363.8L1965.0,2366.3L1966.0,2368.9L1967.0,2365.1L1968.0,2366.8L1969.0,2365.9L1970.0,2368.9L1971.0,2364.7L1972.0,2368.6L1973.0,2370.6L1974.0,2368.7L1975.0,2365.2L1976.0,2366.1L1977.0,2371.1L1978.0,2373.8L1979.0,2367.5L1980.0,2366.7L1981.0,2370.4L1982.0,2366.9L1983.0,2368.8L1984.0,2366.0L1985.0,2367.4L1986.0,2363.6L1987.0,2368.7L1988.0,2361.3L1989.0,2365.7L1990.0,2368.7L1991.0,2369.7L1992.0,2371.7L1993.0,2369.8L1994.0,2368.0L1995.0,2370.1L1996.0,2363.8L1997.0,2363.1L1998.0,2368.7L1999.0,2362.6L2000.0,2371.3L2001.0,2367.5L2002.0,2369.5L2003.0,2372.8L2004.0,2369.0L2005.0,2369.8L2006.0,2366.2L2007.0,2371.8L2008.0,2367.3L2009.0,2367.1L2010.0,2370.0L2011.0,2370.0L2012.0,2366.6L2013.0,2367.2L2014.0,2365.0L2015.0,2367.7L2016.0,2364.4L2017.0,2366.6L2018.0,2371.2L2019.0,2367.3L2020.0,2366.8L2021.0,2370.8L2022.0,2368.6L2023.0,2370.0L2024.0,2368.0L2025.0,2365.9L2026.0,2370.8L2027.0,2368.8L2028.0,2368.0L2029.0,2369.1L2030.0,2371.6L2031.0,2368.8L2032.0,2369.8L2033.0,2363.9L2034.0,2366.8L2035.0,2367.2L2036.0,2366.9L2037.0,2366.7L2038.0,2368.4L2039.0,2370.2L2040.0,2368.8L2041.0,2368.9L2042.0,2369.0L2043.0,2367.9L2044.0,2371.5L2045.0,2367.2L2046.0,2367.8L2047.0,2366.7L2048.0,2367.1L2049.0,2366.3L2050.0,2365.1L2051.0,2367.6L2052.0,2368.6L2053.0,2367.0L2054.0,2370.8L2055.0,2367.7L2056.0,2364.1L2057.0,2367.0L2058.0,2369.5L2059.0,2368.7L2060.0,2366.7L2061.0,2364.3L2062.0,2367.3L2063.0,2367.6L2064.0,2372.2L2065.0,2368.7L2066.0,2367.1L2067.0,2368.2L2068.0,2366.8L2069.0,2368.8L2070.0,2366.4L2071.0,2366.9L2072.0,2363.7L2073.0,2366.2L2074.0,2363.9L2075.0,2366.3L2076.0,2367.1L2077.0,2369.3L2078.0,2366.9L2079.0,2364.9L2080.0,2367.6L2081.0,2365.4L2082.0,2361.7L2083.0,2367.5L2084.0,2365.7L2085.0,2365.1L2086.0,2365.4L2087.0,2368.1L2088.0,2366.6L2089.0,2364.3L2090.0,2368.5L2091.0,2363.4L2092.0,2367.9L2093.0,2363.9L2094.0,2365.7L2095.0,2370.0L2096.0,2365.7L2097.0,2366.7L2098.0,2364.8L2099.0,2366.8L2100.0,2367.9L2101.0,2367.1L2102.0,2369.6L2103.0,2365.2L2104.0,2363.2L2105.0,2367.4L2106.0,2363.7L2107.0,2368.1L2108.0,2365.7L2108.6,2370.7L2110.0,2366.5L2111.0,2363.1L2112.0,2363.3L2113.0,2364.5L2114.0,2365.7L2115.0,2360.4L2116.0,2365.8L2117.0,2364.1L2118.0,2365.8L2119.0,2363.3L2120.0,2366.0L2121.0,2365.5L2122.0,2363.0L2123.0,2362.6L2124.0,2359.5L2125.0,2358.3L2126.0,2363.9L2127.0,2358.5L2128.0,2363.9L2129.0,2364.4L2130.0,2362.4L2131.0,2364.5L2132.0,2368.0L2133.0,2356.5L2134.0,2361.4L2135.0,2364.6L2136.0,2356.4L2137.0,2357.2L2138.0,2359.9L2139.0,2361.2L2140.0,2361.8L2141.0,2361.3L2142.0,2359.3L2143.0,2360.4L2144.0,2359.5L2145.0,2358.4L2146.0,2363.4L2147.0,2360.5L2148.0,2355.4L2149.0,2360.1L2150.0,2356.9L2151.0,2357.7L2152.0,2362.9L2153.0,2360.5L2154.0,2357.5L2155.0,2356.5L2156.0,2360.9L2157.0,2359.7L2158.0,2361.6L2159.0,2356.3L2160.0,2364.7L2161.0,2354.4L2162.0,2359.1L2163.0,2359.1L2164.0,2356.9L2165.0,2358.2L2166.0,2353.6L2167.0,2358.4L2168.0,2357.7L2169.0,2362.4L2170.0,2357.9L2171.0,2362.4L2172.0,2359.1L2173.0,2358.6L2174.0,2361.0L2175.0,2358.9L2176.0,2361.7L2177.0,2358.5" fill="none" stroke="#3fb070" stroke-width="2.8" stroke-linejoin="round"/>
<path d="M263.0,2614.9L264.0,2612.9L265.0,2621.6L266.0,2613.9L267.0,2612.7L268.0,2613.0L269.0,2610.2L270.0,2609.4L271.0,2612.1L272.0,2609.3L273.0,2612.1L274.0,2609.2L275.0,2604.9L276.0,2605.7L277.0,2606.5L278.0,2603.3L279.0,2607.8L280.0,2606.9L281.0,2609.6L282.0,2604.7L283.0,2606.0L284.0,2607.6L285.0,2607.7L286.0,2602.9L287.0,2609.0L288.0,2603.2L289.0,2607.4L290.0,2603.3L291.0,2602.7L292.0,2600.2L293.0,2602.7L294.0,2608.2L295.0,2599.8L296.0,2604.4L297.0,2603.1L298.0,2597.9L299.0,2600.9L300.0,2600.8L301.0,2595.7L302.0,2594.3L303.0,2597.6L304.0,2594.9L305.0,2598.5L306.0,2593.5L307.0,2588.7L308.0,2590.6L309.0,2586.9L310.0,2591.0L311.0,2590.1L312.0,2586.4L313.0,2584.4L314.0,2588.1L315.0,2584.1L316.0,2587.3L317.0,2580.9L318.0,2581.9L319.0,2580.4L320.0,2578.3L321.0,2587.0L322.0,2583.5L323.0,2576.9L324.0,2579.6L325.0,2572.3L326.0,2579.2L327.0,2578.6L328.0,2574.8L329.0,2574.7L330.0,2576.0L331.0,2576.4L332.0,2574.2L333.0,2572.8L334.0,2574.1L335.0,2573.6L336.0,2576.5L337.0,2574.6L338.0,2574.8L339.0,2569.8L340.0,2572.9L341.0,2572.7L342.0,2572.3L343.0,2573.1L344.0,2572.5L345.0,2569.3L345.7,2575.4L347.0,2576.1L348.0,2573.0L349.0,2576.4L350.0,2573.1L351.0,2572.8L352.0,2576.0L353.0,2581.0L354.0,2577.4L355.0,2574.4L356.0,2579.4L357.0,2577.9L358.0,2578.1L359.0,2581.3L360.0,2576.6L361.0,2577.0L362.0,2578.4L363.0,2585.4L364.0,2583.5L365.0,2582.3L365.5,2582.4L366.0,2585.9L367.0,2587.8L368.0,2583.1L369.0,2585.9L370.0,2591.6L371.0,2587.5L372.0,2585.5L373.0,2587.5L374.0,2587.3L375.0,2589.0L376.0,2588.6L377.0,2586.8L378.0,2588.1L379.0,2589.7L380.0,2587.3L381.0,2589.6L382.0,2587.4L383.0,2593.2L384.0,2594.3L385.0,2588.6L386.0,2593.2L387.0,2591.9L388.0,2592.0L389.0,2591.5L390.0,2593.1L391.0,2595.3L392.0,2590.0L393.0,2595.6L394.0,2592.3L395.0,2590.1L396.0,2592.7L397.0,2594.4L398.0,2592.4L399.0,2593.3L400.0,2591.7L401.0,2591.1L402.0,2594.9L403.0,2589.9L404.0,2594.7L405.0,2593.0L406.0,2591.4L407.0,2591.4L408.0,2591.2L409.0,2591.7L410.0,2591.6L411.0,2591.3L412.0,2586.7L413.0,2586.2L414.0,2592.3L415.0,2589.8L416.0,2589.9L417.0,2590.8L418.0,2588.4L419.0,2594.9L420.0,2591.0L421.0,2590.5L422.0,2588.2L423.0,2593.0L424.0,2592.5L425.0,2594.3L426.0,2592.8L427.0,2588.4L428.0,2587.2L429.0,2593.7L430.0,2588.5L431.0,2589.9L432.0,2590.1L433.0,2592.1L434.0,2592.6L435.0,2589.0L436.0,2590.3L437.0,2587.9L438.0,2594.0L439.0,2592.5L440.0,2589.1L441.0,2596.2L442.0,2594.0L443.0,2591.8L444.0,2593.7L445.0,2593.6L446.0,2595.7L447.0,2596.3L448.0,2594.7L449.0,2597.5L450.0,2590.3L451.0,2596.3L452.0,2599.4L453.0,2600.7L454.0,2600.9L455.0,2597.0L456.0,2596.0L457.0,2599.9L458.0,2607.0L459.0,2602.6L460.0,2600.7L461.0,2599.0L462.0,2604.1L463.0,2603.2L464.0,2606.2L465.0,2606.0L466.0,2600.4L467.0,2606.5L468.0,2609.3L469.0,2606.5L470.0,2605.6L471.0,2606.3L472.0,2606.5L473.0,2615.8L474.0,2614.4L475.0,2610.1L476.0,2615.5L477.0,2610.1L477.6,2611.8L479.0,2611.9L480.0,2613.7L481.0,2616.2L482.0,2620.0L483.0,2617.3L484.0,2615.6L485.0,2616.7L486.0,2616.2L487.0,2618.1L488.0,2615.5L489.0,2618.6L490.0,2619.6L491.0,2621.2L492.0,2617.3L493.0,2620.8L494.0,2620.9L495.0,2618.6L496.0,2616.2L497.0,2620.1L498.0,2624.1L499.0,2621.6L500.0,2628.4L501.0,2624.6L502.0,2621.9L503.0,2623.8L504.0,2625.6L505.0,2626.1L506.0,2624.8L507.0,2626.9L508.0,2633.5L509.0,2628.9L510.0,2627.5L511.0,2626.3L512.0,2623.6L513.0,2628.8L514.0,2627.8L515.0,2629.1L516.0,2628.3L517.0,2632.0L518.0,2632.7L519.0,2628.4L520.0,2626.8L521.0,2630.9L522.0,2633.6L523.0,2631.2L524.0,2631.4L525.0,2626.8L526.0,2628.9L527.0,2631.6L528.0,2631.1L529.0,2630.2L530.0,2631.7L531.0,2632.4L532.0,2630.5L533.0,2628.6L534.0,2626.9L535.0,2630.8L536.0,2629.9L537.0,2629.9L538.0,2633.1L539.0,2628.8L540.0,2629.7L541.0,2632.0L542.0,2628.3L543.0,2625.2L544.0,2629.1L545.0,2632.4L546.0,2629.0L547.0,2629.9L548.0,2626.0L549.0,2633.4L550.0,2626.3L551.0,2628.9L552.0,2630.1L553.0,2635.3L554.0,2630.9L555.0,2628.8L556.0,2627.0L557.0,2629.9L558.0,2627.6L559.0,2629.1L560.0,2630.8L561.0,2633.6L562.0,2628.0L563.0,2634.0L564.0,2626.0L565.0,2635.5L566.0,2629.2L567.0,2629.9L568.0,2629.6L569.0,2631.3L570.0,2630.7L571.0,2630.0L572.0,2629.1L573.0,2629.5L574.0,2631.0L575.0,2629.6L576.0,2629.2L577.0,2627.4L578.0,2631.0L579.0,2632.1L580.0,2628.4L581.0,2633.4L582.0,2630.9L583.0,2631.2L584.0,2626.8L585.0,2632.5L586.0,2634.1L587.0,2635.7L588.0,2629.6L589.0,2630.9L589.7,2632.9L591.0,2632.4L592.0,2629.5L593.0,2631.2L594.0,2633.4L595.0,2632.4L596.0,2630.9L597.0,2633.6L598.0,2627.5L599.0,2632.1L600.0,2629.5L601.0,2630.2L602.0,2633.0L603.0,2635.3L604.0,2632.2L605.0,2631.4L606.0,2635.1L607.0,2632.9L608.0,2625.7L609.0,2629.6L610.0,2629.5L611.0,2629.5L612.0,2627.5L613.0,2632.6L614.0,2631.5L615.0,2635.3L616.0,2630.4L617.0,2631.4L618.0,2629.3L619.0,2633.6L620.0,2634.2L621.0,2635.1L622.0,2633.6L623.0,2629.7L624.0,2634.0L625.0,2628.9L626.0,2629.6L627.0,2630.7L628.0,2636.2L629.0,2629.4L630.0,2628.7L631.0,2631.7L632.0,2634.0L633.0,2632.5L634.0,2632.5L635.0,2629.1L636.0,2630.2L637.0,2634.2L638.0,2631.4L639.0,2629.6L640.0,2630.3L641.0,2634.4L642.0,2635.3L643.0,2632.1L644.0,2629.2L645.0,2635.2L646.0,2629.6L647.0,2631.4L648.0,2632.2L649.0,2631.1L650.0,2630.7L651.0,2635.0L652.0,2631.9L653.0,2627.7L654.0,2629.8L655.0,2634.3L655.6,2630.7L657.0,2628.8L658.0,2633.4L659.0,2632.4L660.0,2631.4L661.0,2632.7L662.0,2630.5L663.0,2631.8L664.0,2632.8L665.0,2630.1L666.0,2634.5L667.0,2629.0L668.0,2636.5L669.0,2631.8L670.0,2632.5L671.0,2628.7L672.0,2633.5L673.0,2629.7L674.0,2632.9L675.0,2631.8L676.0,2629.9L677.0,2636.1L678.0,2632.3L679.0,2630.7L680.0,2631.1L681.0,2632.7L682.0,2632.1L683.0,2634.0L684.0,2630.7L685.0,2632.6L686.0,2630.9L687.0,2630.5L688.0,2634.1L689.0,2630.3L690.0,2628.3L691.0,2633.8L692.0,2631.1L693.0,2633.7L694.0,2633.6L695.0,2633.6L696.0,2632.6L697.0,2636.2L698.0,2630.0L699.0,2635.3L700.0,2632.2L701.0,2633.3L702.0,2631.6L703.0,2634.7L704.0,2633.8L705.0,2631.6L706.0,2632.9L707.0,2633.9L708.0,2632.5L709.0,2638.7L710.0,2634.2L711.0,2632.0L712.0,2635.3L713.0,2633.6L714.0,2631.8L715.0,2632.2L716.0,2629.3L717.0,2634.9L718.0,2636.7L719.0,2633.0L720.0,2631.3L721.0,2629.1L721.5,2630.3L722.0,2633.2L723.0,2631.6L724.0,2632.7L725.0,2631.1L726.0,2632.6L727.0,2632.4L728.0,2633.4L729.0,2633.1L730.0,2633.3L731.0,2630.9L732.0,2632.1L733.0,2629.8L734.0,2631.5L735.0,2632.5L736.0,2633.6L737.0,2629.3L738.0,2630.2L739.0,2631.2L740.0,2629.5L741.0,2631.6L742.0,2631.8L743.0,2630.5L744.0,2636.0L745.0,2631.1L746.0,2632.7L747.0,2627.8L748.0,2634.0L749.0,2632.7L750.0,2632.4L751.0,2626.8L752.0,2631.7L753.0,2630.2L754.0,2632.7L755.0,2631.6L756.0,2630.4L757.0,2630.5L758.0,2634.5L759.0,2634.1L760.0,2627.4L761.0,2630.3L762.0,2632.8L763.0,2630.3L764.0,2632.0L765.0,2630.4L766.0,2635.0L767.0,2632.8L768.0,2630.6L769.0,2634.4L770.0,2632.5L771.0,2634.9L772.0,2629.8L773.0,2627.3L774.0,2632.7L775.0,2630.8L776.0,2626.6L777.0,2621.6L778.0,2630.8L779.0,2630.7L780.0,2628.6L781.0,2629.4L782.0,2630.7L783.0,2627.1L784.0,2633.3L785.0,2627.2L786.0,2630.3L787.0,2630.2L787.5,2629.0L788.0,2628.1L789.0,2631.6L790.0,2625.4L791.0,2628.7L792.0,2632.2L793.0,2626.1L794.0,2623.9L795.0,2626.0L796.0,2619.8L797.0,2624.5L798.0,2623.2L799.0,2623.6L800.0,2623.0L801.0,2626.1L802.0,2624.4L803.0,2621.5L804.0,2626.6L805.0,2620.8L806.0,2626.2L807.0,2621.2L808.0,2619.7L809.0,2620.4L810.0,2624.5L811.0,2621.0L812.0,2620.2L813.0,2616.0L814.0,2619.4L815.0,2618.4L816.0,2617.8L817.0,2616.4L818.0,2614.1L819.0,2620.5L820.0,2614.8L821.0,2618.2L822.0,2617.8L823.0,2616.6L824.0,2616.2L825.0,2617.1L826.0,2614.5L827.0,2614.8L828.0,2615.5L829.0,2614.9L830.0,2613.4L831.0,2607.4L832.0,2613.4L833.0,2610.2L834.0,2615.7L835.0,2615.6L836.0,2612.9L837.0,2612.6L838.0,2606.9L839.0,2611.0L840.0,2609.3L841.0,2615.2L842.0,2607.4L843.0,2615.6L843.5,2609.7L844.0,2604.1L845.0,2611.0L846.0,2604.0L847.0,2603.1L848.0,2602.7L849.0,2594.0L850.0,2594.4L851.0,2593.6L852.0,2594.1L853.0,2588.4L854.0,2588.0L855.0,2580.2L856.0,2583.4L857.0,2577.7L858.0,2576.8L858.7,2576.3L860.0,2580.8L861.0,2579.0L862.0,2583.6L863.0,2583.8L864.0,2588.0L865.0,2587.4L866.0,2593.7L867.0,2589.9L868.0,2591.8L869.0,2599.3L870.0,2596.5L871.0,2601.8L872.0,2603.8L873.0,2600.1L874.0,2604.3L875.0,2604.9L876.0,2606.6L877.0,2604.3L878.0,2609.3L879.0,2610.3L880.0,2608.1L881.0,2611.7L882.0,2613.2L883.0,2609.5L884.0,2614.4L885.0,2617.6L886.0,2618.2L887.0,2614.8L888.0,2616.5L889.0,2619.3L890.0,2621.2L891.0,2623.1L892.0,2622.3L893.0,2625.0L894.0,2621.8L895.0,2628.0L896.0,2623.4L897.0,2621.8L898.0,2623.0L899.0,2620.4L900.0,2623.1L901.0,2624.4L902.0,2626.6L903.0,2628.4L904.0,2623.9L905.0,2624.5L906.0,2628.2L907.0,2629.3L908.0,2628.9L909.0,2627.9L910.0,2624.8L911.0,2626.6L912.0,2624.4L913.0,2626.7L914.0,2631.6L915.0,2632.7L916.0,2628.5L917.0,2630.9L918.0,2633.0L919.0,2627.4L920.0,2626.4L921.0,2627.8L922.0,2624.0L923.0,2630.4L924.0,2628.2L925.0,2627.4L926.0,2628.0L927.0,2628.7L928.0,2627.2L929.0,2624.0L930.0,2628.1L931.0,2625.0L932.0,2626.7L933.0,2624.0L934.0,2625.4L935.0,2621.3L936.0,2625.1L937.0,2623.7L938.0,2626.7L939.0,2621.9L940.0,2621.4L941.0,2624.9L942.0,2618.2L943.0,2619.4L944.0,2612.7L945.0,2606.8L946.0,2603.1L947.0,2597.2L948.0,2590.7L949.0,2589.6L950.0,2580.8L951.0,2578.2L952.0,2572.4L953.0,2566.1L954.0,2561.4L955.0,2558.6L955.6,2554.0L957.0,2563.6L958.0,2566.4L959.0,2567.2L960.0,2574.6L961.0,2570.5L962.0,2584.2L963.0,2580.9L964.0,2584.9L965.0,2594.5L965.5,2590.0L966.0,2591.5L967.0,2592.7L968.0,2585.7L969.0,2589.0L970.0,2590.3L971.0,2585.1L972.0,2589.1L973.0,2582.1L974.0,2586.4L975.0,2582.7L976.0,2580.7L977.0,2578.6L978.0,2575.5L979.0,2579.1L980.0,2572.4L981.0,2574.0L982.0,2574.4L983.0,2572.6L984.0,2571.8L985.0,2567.3L986.0,2564.5L987.0,2566.8L988.0,2564.6L989.0,2566.3L990.0,2557.7L991.0,2561.1L992.0,2560.8L993.0,2555.7L994.0,2549.8L995.0,2550.7L996.0,2550.0L997.0,2542.8L998.0,2539.2L998.5,2537.5L999.0,2530.8L1000.0,2515.6L1001.0,2514.0L1002.0,2492.7L1003.0,2482.7L1004.0,2463.4L1005.0,2440.0L1005.7,2429.3L1007.0,2456.4L1008.0,2473.8L1008.5,2482.3L1009.0,2488.7L1010.0,2509.8L1011.0,2532.4L1011.6,2548.6L1013.0,2546.2L1014.0,2551.7L1015.0,2555.0L1016.0,2556.3L1017.0,2556.5L1018.0,2557.1L1019.0,2562.4L1020.0,2562.1L1021.0,2565.9L1022.0,2565.9L1023.0,2568.0L1024.0,2570.3L1025.0,2571.2L1026.0,2577.9L1027.0,2574.5L1028.0,2580.9L1029.0,2575.8L1030.0,2575.0L1031.0,2566.8L1032.0,2567.6L1033.0,2564.7L1034.0,2564.9L1035.0,2560.8L1036.0,2556.2L1037.0,2552.1L1038.0,2549.3L1039.0,2548.5L1040.0,2546.1L1041.0,2548.7L1042.0,2554.4L1043.0,2552.2L1044.0,2562.4L1045.0,2569.1L1046.0,2568.9L1047.0,2571.5L1048.0,2580.5L1049.0,2577.0L1050.0,2588.6L1051.0,2587.2L1052.0,2591.7L1053.0,2588.3L1054.0,2595.1L1055.0,2592.2L1056.0,2591.1L1057.0,2592.9L1058.0,2596.8L1059.0,2597.6L1060.0,2595.0L1061.0,2594.4L1062.0,2599.1L1063.0,2596.3L1064.0,2595.1L1065.0,2601.5L1066.0,2593.6L1067.0,2598.7L1068.0,2602.3L1069.0,2600.0L1070.0,2600.1L1071.0,2602.2L1072.0,2598.1L1073.0,2600.9L1074.0,2601.4L1075.0,2604.3L1076.0,2603.5L1077.0,2603.2L1077.6,2606.2L1079.0,2605.1L1080.0,2598.1L1081.0,2606.1L1082.0,2599.9L1083.0,2596.9L1084.0,2601.2L1085.0,2590.3L1086.0,2592.3L1087.0,2594.9L1088.0,2591.6L1089.0,2589.5L1090.0,2590.7L1091.0,2593.9L1092.0,2579.2L1093.0,2569.8L1094.0,2558.4L1095.0,2545.3L1096.0,2534.2L1097.0,2521.3L1098.0,2512.1L1099.0,2502.2L1100.0,2511.9L1101.0,2524.3L1102.0,2537.5L1103.0,2548.5L1104.0,2561.1L1105.0,2560.6L1106.0,2570.5L1107.0,2570.4L1108.0,2580.3L1109.0,2583.1L1110.0,2587.0L1110.5,2587.5L1111.0,2593.5L1112.0,2592.4L1113.0,2594.3L1114.0,2592.9L1115.0,2603.0L1116.0,2600.1L1117.0,2601.4L1118.0,2606.0L1119.0,2604.6L1120.0,2597.4L1121.0,2602.9L1122.0,2606.7L1123.0,2602.5L1124.0,2601.3L1125.0,2605.0L1126.0,2604.8L1127.0,2600.9L1128.0,2601.3L1129.0,2601.5L1130.0,2601.6L1131.0,2599.8L1132.0,2601.1L1133.0,2604.3L1134.0,2599.0L1135.0,2605.0L1136.0,2603.7L1137.0,2604.3L1138.0,2604.3L1139.0,2600.5L1140.0,2598.8L1141.0,2605.0L1142.0,2602.2L1143.0,2603.3L1144.0,2604.5L1145.0,2599.2L1146.0,2602.0L1147.0,2602.0L1148.0,2599.8L1149.0,2600.0L1150.0,2602.0L1151.0,2602.8L1152.0,2604.9L1153.0,2604.0L1154.0,2605.2L1155.0,2600.7L1156.0,2602.4L1157.0,2601.6L1158.0,2601.0L1159.0,2600.4L1160.0,2604.7L1161.0,2605.0L1162.0,2601.7L1163.0,2595.2L1164.0,2598.7L1165.0,2599.4L1166.0,2605.3L1167.0,2603.9L1168.0,2600.7L1169.0,2603.0L1170.0,2602.0L1171.0,2601.0L1172.0,2600.9L1173.0,2598.9L1174.0,2598.7L1175.0,2600.7L1176.0,2598.5L1177.0,2601.8L1178.0,2600.2L1179.0,2598.9L1180.0,2601.6L1181.0,2599.0L1182.0,2599.9L1183.0,2598.5L1184.0,2602.2L1185.0,2600.9L1186.0,2600.1L1187.0,2600.1L1188.0,2601.6L1189.0,2599.4L1190.0,2596.2L1191.0,2604.4L1192.0,2600.6L1193.0,2602.1L1194.0,2598.3L1195.0,2596.5L1196.0,2597.6L1197.0,2598.5L1198.0,2593.2L1199.0,2590.7L1200.0,2587.1L1201.0,2581.5L1202.0,2586.0L1203.0,2576.9L1204.0,2573.9L1205.0,2576.5L1206.0,2582.9L1207.0,2588.0L1208.0,2588.6L1209.0,2592.1L1210.0,2593.6L1211.0,2600.3L1212.0,2600.7L1213.0,2601.6L1214.0,2598.7L1215.0,2604.5L1216.0,2603.7L1217.0,2601.5L1218.0,2601.5L1219.0,2604.7L1220.0,2601.2L1221.0,2604.6L1222.0,2602.6L1223.0,2602.2L1224.0,2607.4L1225.0,2602.6L1226.0,2601.0L1227.0,2608.8L1228.0,2604.1L1229.0,2608.3L1230.0,2605.9L1231.0,2603.8L1232.0,2602.5L1233.0,2606.0L1234.0,2607.2L1235.0,2605.3L1236.0,2606.1L1237.0,2605.3L1238.0,2607.0L1239.0,2607.8L1240.0,2607.1L1241.0,2603.1L1242.0,2606.1L1243.0,2607.2L1244.0,2607.2L1245.0,2604.1L1246.0,2607.3L1247.0,2605.2L1248.0,2605.1L1249.0,2610.1L1250.0,2607.1L1251.0,2612.1L1252.0,2612.2L1253.0,2605.4L1254.0,2610.5L1255.0,2604.8L1256.0,2608.0L1257.0,2607.6L1258.0,2606.6L1259.0,2604.7L1260.0,2596.9L1261.0,2599.1L1262.0,2593.4L1263.0,2596.3L1264.0,2595.5L1265.0,2591.6L1266.0,2595.8L1267.0,2593.7L1268.0,2596.3L1269.0,2596.6L1270.0,2596.9L1271.0,2603.2L1272.0,2604.8L1273.0,2604.2L1274.0,2606.5L1275.0,2606.8L1276.0,2613.8L1277.0,2615.3L1278.0,2612.8L1279.0,2613.2L1280.0,2613.1L1281.0,2612.1L1282.0,2615.1L1283.0,2616.6L1284.0,2609.6L1285.0,2616.4L1286.0,2612.3L1287.0,2613.7L1288.0,2611.2L1289.0,2613.4L1290.0,2614.3L1291.0,2614.0L1292.0,2620.7L1293.0,2613.9L1294.0,2614.2L1295.0,2614.1L1296.0,2616.0L1297.0,2616.7L1298.0,2616.8L1299.0,2615.0L1300.0,2615.6L1301.0,2609.7L1302.0,2615.5L1303.0,2613.0L1304.0,2616.0L1305.0,2614.1L1306.0,2616.8L1307.0,2614.8L1308.0,2617.0L1309.0,2610.9L1310.0,2618.0L1311.0,2612.5L1312.0,2619.5L1313.0,2612.5L1314.0,2615.9L1315.0,2613.6L1316.0,2616.3L1317.0,2618.5L1318.0,2614.0L1319.0,2616.9L1320.0,2618.2L1321.0,2613.9L1322.0,2618.3L1323.0,2615.0L1324.0,2617.8L1325.0,2614.0L1326.0,2623.7L1327.0,2616.3L1328.0,2611.9L1329.0,2617.8L1330.0,2615.9L1331.0,2613.1L1332.0,2616.0L1333.0,2614.0L1334.0,2617.2L1334.6,2614.7L1336.0,2614.6L1337.0,2617.6L1338.0,2618.1L1339.0,2617.4L1340.0,2618.2L1341.0,2617.4L1342.0,2618.4L1343.0,2620.6L1344.0,2620.1L1345.0,2619.4L1346.0,2621.8L1347.0,2614.3L1348.0,2620.6L1349.0,2614.0L1350.0,2616.9L1351.0,2616.5L1352.0,2619.9L1353.0,2622.2L1354.0,2617.4L1355.0,2614.7L1356.0,2621.3L1357.0,2618.9L1358.0,2616.0L1359.0,2624.5L1360.0,2620.5L1361.0,2620.1L1362.0,2620.1L1363.0,2619.1L1364.0,2621.4L1365.0,2620.3L1366.0,2623.0L1367.0,2616.7L1368.0,2620.4L1369.0,2623.0L1370.0,2617.9L1371.0,2622.5L1372.0,2619.0L1373.0,2623.2L1374.0,2624.1L1375.0,2622.7L1376.0,2621.3L1377.0,2619.6L1378.0,2620.0L1379.0,2622.2L1380.0,2621.6L1381.0,2619.6L1382.0,2622.2L1383.0,2619.3L1384.0,2625.0L1385.0,2624.2L1386.0,2622.3L1387.0,2625.0L1388.0,2622.0L1389.0,2626.0L1390.0,2623.0L1391.0,2619.8L1392.0,2618.4L1393.0,2627.4L1394.0,2619.3L1395.0,2623.1L1396.0,2625.5L1397.0,2622.8L1398.0,2621.5L1399.0,2623.2L1400.0,2624.3L1401.0,2624.3L1402.0,2625.2L1403.0,2621.3L1404.0,2626.5L1405.0,2624.4L1406.0,2625.5L1407.0,2625.7L1408.0,2624.7L1409.0,2620.6L1410.0,2621.6L1411.0,2621.4L1412.0,2620.7L1413.0,2621.6L1414.0,2618.8L1415.0,2622.9L1416.0,2622.6L1417.0,2625.1L1418.0,2621.4L1419.0,2626.5L1420.0,2622.2L1421.0,2621.5L1422.0,2622.3L1423.0,2625.5L1424.0,2624.4L1425.0,2622.7L1426.0,2621.8L1427.0,2620.7L1428.0,2618.5L1429.0,2621.1L1430.0,2620.6L1431.0,2625.2L1432.0,2620.2L1433.0,2624.3L1434.0,2621.3L1435.0,2620.2L1436.0,2622.4L1437.0,2615.6L1438.0,2616.2L1439.0,2624.9L1440.0,2621.4L1441.0,2621.4L1442.0,2619.9L1443.0,2620.6L1444.0,2619.9L1445.0,2619.8L1445.7,2620.5L1447.0,2617.9L1448.0,2616.5L1449.0,2610.7L1450.0,2610.1L1451.0,2612.9L1452.0,2606.1L1453.0,2605.6L1454.0,2603.1L1455.0,2599.8L1456.0,2602.9L1457.0,2597.9L1458.0,2590.0L1459.0,2594.9L1460.0,2587.3L1461.0,2583.8L1462.0,2584.4L1462.5,2587.0L1463.0,2581.3L1464.0,2588.0L1465.0,2584.3L1466.0,2589.8L1467.0,2589.2L1468.0,2586.2L1469.0,2583.0L1470.0,2589.0L1471.0,2584.5L1472.0,2592.0L1473.0,2589.6L1474.0,2594.1L1475.0,2590.4L1476.0,2590.0L1477.0,2594.0L1478.0,2591.0L1479.0,2594.1L1480.0,2595.3L1481.0,2595.5L1482.0,2595.7L1483.0,2601.9L1484.0,2606.0L1485.0,2603.1L1486.0,2603.3L1487.0,2606.4L1488.0,2605.9L1489.0,2605.8L1490.0,2614.4L1491.0,2614.0L1492.0,2614.5L1493.0,2621.1L1494.0,2617.1L1495.0,2617.3L1496.0,2619.6L1497.0,2616.3L1498.0,2618.7L1499.0,2619.1L1500.0,2620.1L1501.0,2619.4L1502.0,2622.1L1503.0,2620.9L1504.0,2620.9L1505.0,2621.4L1506.0,2618.3L1507.0,2617.7L1508.0,2619.4L1509.0,2622.9L1510.0,2617.5L1511.0,2621.5L1512.0,2619.2L1513.0,2620.0L1514.0,2619.4L1515.0,2617.3L1516.0,2625.0L1517.0,2621.3L1518.0,2622.2L1519.0,2622.5L1520.0,2616.0L1521.0,2625.9L1522.0,2626.8L1523.0,2623.0L1524.0,2624.0L1525.0,2625.1L1526.0,2625.3L1527.0,2626.1L1528.0,2625.8L1529.0,2624.0L1530.0,2625.9L1531.0,2622.1L1532.0,2624.8L1533.0,2627.9L1534.0,2628.7L1535.0,2626.8L1536.0,2627.6L1536.5,2624.8L1537.0,2628.0L1538.0,2625.7L1539.0,2623.9L1540.0,2629.2L1541.0,2626.5L1542.0,2627.0L1543.0,2623.7L1544.0,2626.6L1545.0,2627.4L1546.0,2628.0L1547.0,2628.0L1548.0,2627.9L1549.0,2629.0L1550.0,2629.8L1551.0,2629.6L1552.0,2625.1L1553.0,2627.6L1554.0,2630.3L1555.0,2629.5L1556.0,2626.8L1557.0,2627.5L1558.0,2627.3L1559.0,2628.1L1560.0,2623.0L1561.0,2622.9L1562.0,2626.5L1563.0,2624.5L1564.0,2625.7L1565.0,2625.8L1566.0,2628.3L1567.0,2627.8L1568.0,2631.4L1569.0,2628.5L1570.0,2627.8L1571.0,2628.3L1572.0,2628.1L1573.0,2626.3L1574.0,2625.8L1575.0,2631.9L1576.0,2627.2L1577.0,2626.9L1578.0,2626.1L1579.0,2627.4L1580.0,2625.9L1581.0,2627.3L1582.0,2625.1L1583.0,2625.8L1584.0,2634.2L1585.0,2629.8L1586.0,2630.3L1587.0,2632.6L1588.0,2630.8L1589.0,2630.7L1590.0,2629.0L1591.0,2632.2L1592.0,2628.2L1593.0,2629.4L1594.0,2629.0L1595.0,2633.0L1596.0,2630.3L1597.0,2630.7L1598.0,2633.9L1599.0,2634.0L1600.0,2631.7L1601.0,2631.4L1602.0,2629.8L1603.0,2630.9L1604.0,2632.9L1605.0,2632.2L1606.0,2634.2L1607.0,2632.2L1608.0,2628.7L1609.0,2629.5L1610.0,2626.3L1611.0,2632.3L1612.0,2629.2L1613.0,2632.6L1614.0,2630.5L1615.0,2631.9L1616.0,2630.6L1617.0,2631.1L1618.0,2632.6L1619.0,2630.6L1620.0,2631.3L1621.0,2630.6L1622.0,2630.9L1623.0,2630.5L1624.0,2629.4L1625.0,2631.4L1626.0,2633.2L1627.0,2632.1L1628.0,2630.5L1629.0,2629.5L1630.0,2636.8L1631.0,2635.0L1632.0,2629.6L1633.0,2629.3L1634.0,2628.8L1635.0,2634.7L1636.0,2628.6L1637.0,2632.5L1638.0,2630.0L1639.0,2632.7L1640.0,2630.2L1641.0,2632.2L1642.0,2632.5L1643.0,2634.7L1644.0,2635.8L1645.0,2633.8L1646.0,2633.4L1647.0,2636.5L1648.0,2629.3L1649.0,2637.2L1650.0,2632.3L1651.0,2632.1L1652.0,2636.3L1653.0,2632.2L1654.0,2633.1L1655.0,2635.1L1656.0,2636.1L1657.0,2630.6L1658.0,2634.9L1659.0,2634.3L1660.0,2633.1L1661.0,2637.2L1662.0,2639.1L1663.0,2635.4L1664.0,2635.2L1665.0,2632.0L1666.0,2633.2L1667.0,2632.7L1668.0,2634.8L1669.0,2634.5L1670.0,2632.4L1671.0,2633.5L1672.0,2631.2L1673.0,2632.7L1674.0,2633.5L1675.0,2633.7L1676.0,2633.0L1677.0,2633.4L1678.0,2632.6L1679.0,2630.9L1680.0,2634.4L1681.0,2631.1L1682.0,2631.1L1683.0,2634.4L1684.0,2632.0L1685.0,2632.7L1686.0,2635.6L1687.0,2629.8L1688.0,2628.7L1689.0,2636.1L1690.0,2629.7L1691.0,2629.3L1692.0,2635.7L1693.0,2631.4L1694.0,2630.1L1695.0,2625.6L1696.0,2629.9L1697.0,2628.4L1698.0,2631.2L1699.0,2625.2L1700.0,2630.1L1701.0,2633.0L1702.0,2629.6L1703.0,2627.7L1704.0,2623.3L1705.0,2627.8L1706.0,2627.3L1707.0,2626.4L1708.0,2625.3L1709.0,2631.2L1710.0,2631.2L1711.0,2625.5L1712.0,2626.0L1713.0,2625.8L1714.0,2624.9L1715.0,2628.3L1716.0,2628.4L1717.0,2629.2L1718.0,2627.0L1719.0,2625.4L1720.0,2625.8L1721.0,2621.4L1722.0,2618.9L1723.0,2611.8L1724.0,2613.3L1725.0,2610.8L1726.0,2609.5L1727.0,2610.0L1728.0,2603.7L1729.0,2609.0L1730.0,2604.1L1731.0,2610.4L1732.0,2604.8L1733.0,2607.8L1734.0,2603.6L1735.0,2606.0L1736.0,2603.9L1737.0,2611.4L1738.0,2610.0L1738.5,2605.3L1739.0,2610.5L1740.0,2605.7L1741.0,2601.7L1742.0,2601.3L1743.0,2600.2L1744.0,2596.9L1745.0,2594.7L1746.0,2593.4L1747.0,2591.9L1748.0,2583.9L1749.0,2585.7L1750.0,2578.6L1751.0,2581.5L1752.0,2581.5L1753.0,2585.2L1754.0,2591.3L1755.0,2591.0L1756.0,2595.7L1757.0,2592.2L1758.0,2598.5L1759.0,2591.5L1760.0,2600.2L1761.0,2602.7L1762.0,2603.6L1763.0,2602.3L1764.0,2603.8L1765.0,2606.8L1766.0,2611.9L1767.0,2609.6L1768.0,2607.1L1769.0,2603.4L1770.0,2610.1L1771.0,2606.0L1772.0,2610.3L1773.0,2604.7L1774.0,2605.7L1775.0,2609.2L1776.0,2609.3L1777.0,2611.2L1778.0,2609.2L1779.0,2608.5L1780.0,2610.7L1781.0,2608.8L1782.0,2607.5L1783.0,2609.6L1784.0,2613.0L1785.0,2610.7L1785.6,2611.0L1787.0,2613.6L1788.0,2613.7L1789.0,2611.1L1790.0,2613.6L1791.0,2616.4L1792.0,2620.7L1793.0,2617.8L1794.0,2616.3L1795.0,2619.5L1795.7,2620.2L1797.0,2613.5L1798.0,2614.5L1799.0,2617.0L1800.0,2606.4L1801.0,2606.6L1802.0,2605.2L1803.0,2599.7L1804.0,2592.8L1805.0,2595.4L1806.0,2590.7L1807.0,2587.5L1808.0,2591.9L1809.0,2593.4L1810.0,2597.7L1811.0,2600.5L1812.0,2597.3L1813.0,2603.6L1814.0,2603.4L1815.0,2606.3L1816.0,2611.3L1817.0,2609.5L1818.0,2610.6L1819.0,2610.9L1820.0,2618.4L1821.0,2615.7L1822.0,2615.8L1823.0,2613.5L1824.0,2618.8L1825.0,2610.3L1826.0,2617.8L1827.0,2620.1L1828.0,2619.5L1829.0,2617.0L1830.0,2617.4L1831.0,2616.0L1832.0,2616.0L1833.0,2616.8L1834.0,2616.0L1835.0,2616.8L1836.0,2615.6L1837.0,2617.4L1838.0,2618.8L1839.0,2621.0L1840.0,2618.0L1841.0,2619.5L1842.0,2617.7L1843.0,2620.7L1844.0,2617.2L1845.0,2616.0L1846.0,2615.8L1847.0,2617.7L1848.0,2619.4L1849.0,2623.9L1850.0,2621.8L1851.0,2621.6L1852.0,2618.5L1853.0,2620.7L1854.0,2621.4L1855.0,2629.8L1856.0,2626.7L1857.0,2626.8L1858.0,2621.2L1859.0,2623.9L1860.0,2624.5L1861.0,2626.1L1862.0,2622.7L1863.0,2627.9L1864.0,2626.8L1865.0,2623.0L1866.0,2627.0L1867.0,2631.1L1868.0,2630.6L1869.0,2631.0L1870.0,2625.9L1871.0,2632.2L1872.0,2631.2L1873.0,2631.4L1874.0,2628.2L1875.0,2628.4L1876.0,2634.8L1877.0,2633.3L1878.0,2634.7L1879.0,2635.9L1880.0,2631.2L1881.0,2631.2L1882.0,2629.3L1883.0,2636.0L1884.0,2633.6L1885.0,2632.9L1886.0,2632.2L1887.0,2634.0L1888.0,2639.4L1889.0,2632.5L1890.0,2629.9L1891.0,2636.5L1892.0,2634.3L1893.0,2639.2L1894.0,2635.6L1895.0,2636.8L1896.0,2631.2L1897.0,2634.6L1898.0,2634.3L1899.0,2635.8L1900.0,2637.2L1901.0,2636.3L1902.0,2635.4L1903.0,2639.7L1904.0,2638.5L1905.0,2641.6L1906.0,2635.6L1906.7,2635.3L1908.0,2629.3L1909.0,2628.7L1910.0,2627.9L1911.0,2628.9L1912.0,2619.8L1913.0,2616.4L1914.0,2616.7L1914.8,2614.3L1916.0,2618.6L1917.0,2618.4L1918.0,2620.9L1919.0,2623.2L1920.0,2627.1L1921.0,2623.9L1922.0,2631.6L1923.0,2629.0L1924.0,2637.1L1925.0,2635.2L1926.0,2640.1L1927.0,2639.5L1928.0,2641.5L1929.0,2641.0L1930.0,2635.6L1931.0,2640.7L1932.0,2637.9L1933.0,2634.9L1934.0,2636.9L1935.0,2630.5L1936.0,2632.0L1937.0,2636.5L1938.0,2632.9L1939.0,2635.1L1940.0,2632.7L1941.0,2633.5L1942.0,2632.9L1943.0,2631.2L1944.0,2629.9L1945.0,2627.3L1946.0,2629.2L1947.0,2632.4L1948.0,2625.6L1949.0,2627.5L1950.0,2627.3L1951.0,2628.6L1952.0,2631.8L1953.0,2627.3L1954.0,2635.8L1955.0,2630.9L1956.0,2628.9L1957.0,2629.9L1958.0,2635.0L1959.0,2639.9L1960.0,2637.5L1961.0,2636.7L1962.0,2644.7L1963.0,2636.9L1964.0,2641.3L1965.0,2643.4L1966.0,2644.2L1967.0,2645.0L1968.0,2641.7L1969.0,2647.8L1970.0,2644.5L1971.0,2646.0L1972.0,2642.5L1973.0,2640.5L1974.0,2648.8L1975.0,2644.7L1976.0,2643.8L1977.0,2642.9L1978.0,2644.0L1979.0,2645.0L1980.0,2644.8L1981.0,2645.1L1982.0,2645.1L1983.0,2642.3L1984.0,2646.0L1985.0,2646.8L1986.0,2643.7L1987.0,2644.5L1988.0,2645.8L1989.0,2642.4L1990.0,2645.8L1991.0,2644.6L1992.0,2647.5L1993.0,2651.4L1994.0,2645.5L1995.0,2643.6L1996.0,2647.0L1997.0,2646.2L1998.0,2645.3L1999.0,2645.6L2000.0,2645.9L2001.0,2648.0L2002.0,2646.0L2003.0,2647.2L2004.0,2648.3L2005.0,2650.1L2006.0,2648.2L2007.0,2649.4L2008.0,2651.2L2009.0,2646.4L2010.0,2650.4L2011.0,2649.5L2012.0,2644.7L2013.0,2645.9L2014.0,2649.3L2015.0,2641.8L2016.0,2644.7L2017.0,2651.1L2018.0,2648.7L2019.0,2650.8L2020.0,2651.1L2021.0,2645.2L2022.0,2645.2L2023.0,2652.3L2024.0,2643.8L2025.0,2645.8L2026.0,2649.2L2027.0,2646.0L2028.0,2647.7L2029.0,2649.6L2030.0,2649.6L2031.0,2647.9L2032.0,2650.6L2033.0,2649.9L2034.0,2650.1L2034.6,2650.3L2036.0,2646.9L2037.0,2644.6L2038.0,2647.1L2039.0,2642.8L2040.0,2646.7L2041.0,2639.3L2042.0,2641.4L2043.0,2643.8L2044.0,2639.0L2045.0,2637.4L2046.0,2642.4L2046.7,2638.1L2048.0,2639.2L2049.0,2638.2L2050.0,2641.7L2051.0,2642.4L2052.0,2637.8L2053.0,2637.7L2054.0,2634.3L2055.0,2640.9L2056.0,2642.5L2057.0,2646.2L2058.0,2641.8L2059.0,2644.6L2060.0,2642.4L2061.0,2641.5L2061.5,2640.8L2062.0,2642.3L2063.0,2646.3L2064.0,2644.9L2065.0,2640.5L2066.0,2646.8L2067.0,2644.8L2068.0,2641.9L2069.0,2641.1L2070.0,2647.0L2071.0,2644.5L2072.0,2643.9L2073.0,2646.5L2074.0,2640.3L2075.0,2644.0L2076.0,2648.4L2077.0,2643.1L2078.0,2645.2L2079.0,2647.8L2080.0,2646.3L2081.0,2644.9L2082.0,2642.8L2083.0,2644.3L2084.0,2644.2L2085.0,2647.3L2086.0,2642.0L2087.0,2644.4L2088.0,2645.6L2089.0,2648.1L2090.0,2645.7L2091.0,2645.8L2092.0,2646.5L2093.0,2643.7L2094.0,2651.0L2095.0,2642.4L2096.0,2644.5L2097.0,2642.0L2098.0,2643.7L2099.0,2643.3L2100.0,2643.3L2101.0,2638.6L2102.0,2635.8L2103.0,2634.3L2104.0,2637.1L2105.0,2637.0L2106.0,2639.6L2107.0,2634.1L2108.0,2631.1L2109.0,2633.5L2110.0,2627.1L2111.0,2634.6L2112.0,2632.0L2113.0,2632.5L2114.0,2630.5L2115.0,2633.8L2116.0,2636.1L2117.0,2635.4L2118.0,2635.0L2119.0,2634.5L2120.0,2633.5L2121.0,2632.1L2122.0,2640.1L2123.0,2638.1L2124.0,2636.2L2125.0,2639.3L2126.0,2639.5L2127.0,2638.3L2128.0,2637.8L2129.0,2644.0L2130.0,2640.1L2131.0,2636.4L2132.0,2636.2L2133.0,2635.6L2134.0,2637.5L2135.0,2635.3L2136.0,2638.6L2137.0,2634.9L2138.0,2632.4L2139.0,2634.4L2140.0,2631.4L2141.0,2631.3L2142.0,2630.7L2143.0,2628.0L2144.0,2629.5L2145.0,2630.9L2145.7,2630.4L2147.0,2631.2L2148.0,2633.2L2149.0,2634.1L2150.0,2635.3L2151.0,2630.9L2152.0,2634.9L2153.0,2634.9L2154.0,2634.2L2155.0,2639.8L2156.0,2634.8L2157.0,2637.3L2158.0,2642.1L2159.0,2638.8L2160.0,2639.3L2161.0,2637.9L2162.0,2643.8L2162.5,2640.3L2163.0,2642.3L2164.0,2640.7L2165.0,2643.1L2166.0,2640.7L2167.0,2638.5L2168.0,2637.4L2169.0,2646.9L2170.0,2639.8L2171.0,2644.1L2172.0,2647.3L2173.0,2637.7L2174.0,2639.7L2175.0,2642.9L2176.0,2639.7L2177.0,2640.0" fill="none" stroke="#2f6fe0" stroke-width="2.8" stroke-linejoin="round"/>
<path d="M263.0,2797.3L264.0,2789.5L265.0,2793.0L266.0,2791.6L267.0,2790.2L268.0,2791.0L269.0,2791.2L270.0,2792.3L271.0,2793.5L272.0,2795.1L273.0,2793.2L274.0,2795.4L275.0,2793.8L276.0,2793.1L277.0,2792.3L278.0,2790.6L279.0,2789.2L280.0,2792.9L281.0,2792.7L282.0,2793.9L283.0,2794.0L284.0,2790.3L285.0,2791.7L286.0,2790.7L287.0,2795.9L288.0,2793.3L289.0,2793.9L290.0,2791.5L291.0,2790.7L292.0,2792.4L293.0,2793.6L294.0,2794.6L295.0,2789.6L296.0,2793.7L297.0,2790.6L298.0,2791.1L299.0,2791.2L300.0,2790.7L301.0,2792.5L302.0,2793.2L303.0,2791.6L304.0,2789.2L305.0,2791.2L306.0,2790.8L307.0,2791.6L308.0,2789.9L309.0,2785.1L310.0,2786.9L311.0,2787.4L312.0,2790.2L313.0,2787.4L314.0,2789.6L315.0,2787.8L316.0,2784.0L317.0,2786.6L318.0,2787.5L319.0,2786.9L320.0,2782.1L321.0,2786.3L322.0,2783.6L323.0,2779.7L324.0,2783.0L325.0,2779.4L326.0,2780.8L327.0,2786.9L328.0,2789.0L329.0,2785.4L330.0,2783.6L331.0,2786.8L332.0,2782.8L333.0,2779.3L334.0,2775.5L335.0,2783.2L336.0,2775.4L337.0,2773.7L338.0,2778.6L339.0,2780.0L340.0,2778.2L341.0,2783.1L342.0,2780.8L343.0,2781.9L344.0,2782.9L345.0,2780.8L346.0,2783.1L347.0,2788.6L348.0,2781.2L349.0,2784.2L350.0,2785.5L351.0,2783.4L352.0,2784.9L353.0,2781.4L354.0,2784.8L355.0,2786.4L356.0,2789.3L357.0,2789.3L358.0,2786.1L359.0,2785.2L360.0,2793.0L361.0,2791.4L362.0,2785.5L363.0,2790.0L364.0,2789.3L365.0,2790.8L366.0,2788.9L367.0,2792.7L368.0,2793.2L369.0,2794.6L370.0,2798.4L371.0,2797.1L372.0,2794.4L373.0,2793.9L374.0,2797.5L375.0,2802.3L376.0,2802.5L377.0,2799.6L378.0,2804.5L379.0,2803.5L380.0,2801.7L381.0,2804.9L382.0,2804.4L383.0,2802.7L384.0,2805.0L385.0,2807.2L386.0,2810.7L387.0,2805.8L388.0,2809.6L389.0,2809.8L390.0,2810.3L391.0,2808.3L392.0,2814.9L393.0,2815.2L394.0,2816.1L395.0,2813.6L396.0,2816.2L397.0,2814.1L398.0,2815.4L399.0,2812.4L400.0,2813.9L401.0,2812.8L402.0,2811.2L403.0,2812.9L404.0,2811.4L405.0,2811.6L406.0,2813.5L407.0,2813.2L408.0,2819.8L409.0,2819.3L410.0,2817.8L411.0,2817.3L412.0,2813.5L413.0,2816.4L414.0,2812.5L415.0,2814.6L416.0,2815.1L417.0,2815.6L418.0,2818.7L419.0,2815.0L420.0,2822.8L421.0,2816.0L422.0,2819.5L423.0,2813.8L424.0,2820.0L425.0,2815.0L426.0,2818.6L427.0,2818.3L428.0,2820.5L429.0,2820.2L430.0,2819.8L431.0,2818.7L432.0,2823.9L433.0,2818.3L434.0,2819.6L435.0,2818.6L436.0,2820.3L437.0,2817.8L438.0,2819.3L439.0,2821.7L440.0,2819.3L441.0,2822.0L442.0,2819.6L443.0,2824.7L444.0,2821.1L445.0,2825.8L446.0,2823.0L447.0,2821.6L448.0,2824.4L449.0,2825.1L450.0,2826.2L451.0,2826.0L452.0,2825.0L453.0,2820.2L454.0,2825.5L455.0,2823.2L456.0,2824.6L457.0,2826.8L458.0,2822.2L459.0,2827.2L460.0,2829.9L461.0,2825.5L462.0,2823.5L463.0,2827.7L464.0,2824.9L465.0,2827.0L466.0,2827.6L467.0,2821.0L468.0,2825.5L469.0,2821.1L470.0,2823.2L471.0,2826.4L472.0,2822.1L473.0,2823.3L474.0,2824.1L475.0,2826.0L476.0,2826.2L477.0,2826.5L478.0,2824.2L479.0,2823.7L480.0,2826.6L481.0,2823.6L482.0,2823.8L483.0,2827.5L484.0,2824.0L485.0,2823.8L486.0,2828.8L487.0,2826.0L488.0,2820.8L489.0,2824.5L490.0,2831.1L491.0,2833.3L492.0,2825.8L493.0,2828.3L494.0,2828.4L495.0,2827.5L496.0,2822.4L497.0,2829.3L498.0,2827.6L499.0,2826.5L500.0,2823.2L501.0,2825.7L502.0,2827.0L503.0,2826.7L504.0,2828.0L505.0,2826.6L506.0,2830.0L507.0,2829.1L508.0,2824.9L509.0,2826.3L510.0,2828.9L511.0,2826.6L512.0,2831.4L513.0,2826.8L514.0,2828.8L515.0,2829.7L516.0,2825.6L517.0,2831.4L518.0,2828.0L519.0,2826.8L520.0,2826.9L521.0,2824.6L522.0,2825.5L523.0,2832.5L523.7,2828.6L525.0,2828.4L526.0,2829.6L527.0,2830.6L528.0,2827.4L529.0,2829.0L530.0,2830.2L531.0,2832.1L532.0,2830.4L533.0,2833.9L534.0,2829.5L535.0,2829.3L536.0,2826.9L537.0,2830.2L538.0,2832.0L539.0,2829.9L540.0,2830.2L541.0,2828.4L542.0,2829.4L543.0,2829.9L544.0,2830.8L545.0,2833.7L546.0,2832.5L547.0,2833.6L548.0,2834.3L549.0,2830.5L550.0,2834.9L551.0,2831.9L552.0,2828.7L553.0,2830.5L554.0,2831.9L555.0,2828.5L556.0,2837.9L557.0,2832.3L558.0,2834.6L559.0,2829.7L560.0,2833.0L561.0,2833.5L562.0,2831.1L563.0,2833.7L564.0,2833.2L565.0,2834.2L566.0,2830.5L567.0,2834.7L568.0,2832.9L569.0,2831.6L570.0,2828.5L571.0,2833.4L572.0,2833.1L573.0,2839.8L574.0,2831.3L575.0,2837.9L576.0,2837.4L577.0,2835.5L578.0,2835.2L579.0,2835.9L580.0,2831.3L581.0,2838.3L582.0,2834.3L583.0,2833.4L584.0,2835.3L585.0,2828.8L586.0,2832.3L587.0,2832.8L588.0,2831.9L589.0,2837.2L589.7,2839.7L591.0,2835.9L592.0,2835.1L593.0,2836.7L594.0,2834.7L595.0,2836.3L596.0,2836.9L597.0,2835.4L598.0,2835.0L599.0,2836.2L600.0,2836.2L601.0,2837.7L602.0,2832.4L603.0,2833.4L604.0,2834.9L605.0,2837.2L606.0,2833.0L607.0,2839.0L608.0,2839.6L609.0,2834.4L610.0,2838.8L611.0,2831.1L612.0,2835.9L613.0,2832.3L614.0,2838.8L615.0,2838.2L616.0,2837.4L617.0,2834.8L618.0,2833.5L619.0,2837.3L620.0,2835.0L621.0,2837.9L622.0,2832.5L623.0,2837.3L624.0,2837.6L625.0,2830.9L626.0,2833.3L627.0,2834.6L628.0,2834.9L629.0,2832.2L630.0,2836.4L631.0,2833.7L632.0,2836.2L633.0,2832.0L634.0,2833.6L635.0,2838.1L636.0,2832.3L637.0,2836.4L638.0,2840.0L639.0,2838.4L640.0,2833.3L641.0,2841.9L642.0,2835.2L643.0,2838.8L644.0,2838.9L645.0,2835.8L646.0,2838.1L647.0,2830.0L648.0,2836.9L649.0,2837.0L650.0,2835.8L651.0,2837.0L652.0,2839.3L653.0,2839.0L654.0,2835.2L655.0,2838.6L655.6,2839.6L657.0,2837.0L658.0,2837.7L659.0,2830.9L660.0,2833.0L661.0,2837.6L662.0,2833.1L663.0,2838.8L664.0,2839.5L665.0,2834.4L666.0,2833.9L667.0,2836.2L668.0,2837.3L669.0,2838.7L670.0,2836.2L671.0,2836.8L672.0,2834.3L673.0,2837.4L674.0,2834.9L675.0,2839.1L676.0,2838.4L677.0,2832.8L678.0,2837.5L679.0,2834.1L680.0,2839.0L681.0,2834.2L682.0,2839.7L683.0,2839.3L684.0,2841.4L685.0,2837.5L686.0,2836.8L687.0,2839.6L688.0,2833.8L689.0,2836.6L690.0,2835.9L691.0,2836.6L692.0,2832.9L693.0,2832.7L694.0,2832.6L695.0,2840.2L696.0,2835.9L697.0,2838.2L698.0,2836.4L699.0,2836.1L700.0,2839.8L701.0,2831.1L702.0,2836.2L703.0,2834.8L704.0,2834.5L705.0,2832.8L706.0,2833.0L707.0,2833.8L708.0,2839.3L709.0,2835.0L710.0,2835.6L711.0,2836.3L712.0,2838.2L713.0,2839.2L714.0,2837.1L715.0,2836.7L716.0,2837.9L717.0,2834.8L718.0,2837.2L719.0,2840.7L720.0,2835.1L721.0,2834.6L721.5,2833.0L722.0,2836.8L723.0,2838.3L724.0,2835.8L725.0,2836.1L726.0,2839.7L727.0,2837.0L728.0,2838.7L729.0,2836.2L730.0,2840.2L731.0,2839.4L732.0,2836.9L733.0,2835.9L734.0,2843.4L735.0,2834.8L736.0,2835.2L737.0,2831.6L738.0,2839.2L739.0,2837.8L740.0,2837.5L741.0,2834.1L742.0,2837.8L743.0,2835.9L744.0,2835.1L745.0,2837.4L746.0,2838.7L747.0,2837.7L748.0,2836.9L749.0,2839.9L750.0,2838.8L751.0,2837.4L752.0,2839.7L753.0,2839.1L754.0,2840.6L755.0,2840.4L756.0,2840.3L757.0,2837.2L758.0,2841.8L759.0,2841.1L760.0,2837.4L761.0,2841.6L762.0,2838.8L763.0,2836.1L764.0,2838.3L765.0,2835.2L766.0,2840.8L767.0,2835.1L768.0,2841.5L769.0,2835.8L770.0,2837.5L771.0,2840.7L772.0,2838.4L773.0,2833.6L774.0,2837.1L775.0,2833.0L776.0,2838.8L777.0,2834.7L778.0,2836.8L779.0,2836.6L780.0,2833.2L781.0,2837.5L782.0,2840.9L783.0,2834.4L784.0,2835.1L785.0,2837.2L786.0,2839.1L787.0,2834.1L788.0,2836.5L789.0,2836.8L790.0,2838.4L790.9,2833.8L792.0,2841.6L793.0,2840.5L794.0,2832.4L795.0,2833.7L796.0,2836.5L797.0,2834.0L798.0,2834.3L799.0,2835.5L800.0,2833.7L801.0,2834.0L802.0,2835.9L803.0,2834.4L804.0,2836.2L805.0,2837.8L806.0,2837.9L807.0,2835.4L808.0,2840.0L809.0,2834.2L810.0,2837.2L811.0,2839.4L812.0,2835.5L813.0,2836.9L814.0,2833.8L815.0,2833.6L816.0,2835.4L817.0,2836.0L817.7,2835.7L819.0,2835.9L820.0,2834.8L821.0,2833.4L822.0,2831.8L823.0,2832.7L824.0,2832.7L825.0,2832.2L826.0,2829.3L827.0,2834.5L828.0,2833.7L829.0,2831.3L830.0,2829.3L831.0,2832.6L832.0,2829.1L833.0,2828.7L834.2,2830.3L835.0,2826.4L836.0,2826.5L837.0,2823.5L838.0,2824.6L839.0,2822.6L840.0,2821.8L841.0,2819.6L842.4,2817.3L843.0,2814.1L844.0,2809.5L845.0,2799.9L846.0,2793.9L846.5,2794.1L847.0,2787.6L848.0,2773.3L849.0,2764.1L849.6,2753.7L851.0,2736.9L852.0,2720.9L852.7,2708.2L854.0,2697.8L855.0,2695.6L855.8,2686.8L857.0,2695.1L858.0,2707.2L858.9,2715.4L860.0,2726.9L861.0,2742.3L862.0,2751.9L863.0,2763.7L864.0,2775.4L865.1,2796.5L866.0,2795.7L867.0,2804.4L868.0,2811.6L869.2,2820.0L870.0,2815.6L871.0,2821.2L872.0,2821.5L873.0,2828.6L874.0,2826.4L875.0,2827.1L876.0,2834.3L877.0,2832.4L877.5,2834.8L878.0,2833.8L879.0,2833.0L880.0,2835.4L881.0,2832.3L882.0,2831.1L883.0,2833.1L884.0,2836.4L885.0,2834.3L886.0,2838.0L887.0,2837.5L888.0,2836.6L889.0,2839.0L890.0,2837.6L891.0,2837.8L892.0,2836.7L893.0,2837.4L893.9,2837.8L895.0,2840.4L896.0,2841.7L897.0,2840.5L898.0,2838.6L899.0,2837.8L900.0,2838.7L901.0,2836.8L902.0,2838.2L903.0,2837.5L904.0,2838.2L905.0,2832.8L906.0,2838.3L907.0,2839.9L908.0,2835.9L909.0,2842.5L910.0,2838.8L911.0,2837.2L912.0,2841.8L913.0,2836.3L914.0,2844.9L915.0,2837.0L916.0,2840.8L917.0,2842.0L918.0,2840.3L919.0,2839.1L920.0,2837.1L921.0,2838.5L922.0,2839.4L923.0,2841.2L924.0,2833.8L924.8,2840.4L926.0,2836.0L927.0,2837.0L928.0,2837.9L929.0,2836.5L930.0,2839.1L931.0,2833.7L932.0,2838.3L933.0,2834.6L934.0,2835.9L935.0,2836.3L936.0,2833.0L937.0,2836.9L938.0,2840.7L939.0,2834.0L940.0,2833.2L941.0,2838.5L942.0,2838.6L943.0,2829.8L944.0,2833.5L945.0,2832.2L945.5,2834.3L946.0,2833.4L947.0,2830.8L948.0,2831.5L949.0,2834.6L950.0,2829.3L951.0,2831.5L952.0,2831.8L953.0,2833.8L954.0,2830.3L955.0,2829.3L956.0,2826.0L957.0,2828.3L958.0,2830.2L959.0,2827.6L960.0,2828.9L961.0,2824.4L962.0,2826.8L963.0,2823.8L964.0,2822.2L965.0,2821.9L966.1,2825.5L967.0,2823.3L968.0,2820.7L969.0,2819.7L970.0,2821.3L971.0,2817.6L972.0,2820.4L973.0,2817.7L974.0,2814.8L975.0,2814.8L976.0,2812.0L977.0,2811.1L978.4,2811.3L979.0,2810.3L980.0,2809.0L981.0,2806.5L982.0,2805.1L983.0,2805.8L984.0,2800.4L985.0,2796.0L986.0,2804.2L987.0,2798.9L988.0,2797.5L988.7,2798.6L990.0,2796.0L991.0,2794.7L992.0,2791.6L993.0,2789.2L994.0,2786.5L995.0,2783.1L996.0,2781.1L997.0,2771.1L998.0,2783.0L999.0,2778.6L1000.0,2776.2L1001.0,2780.9L1002.0,2776.3L1003.0,2778.5L1004.0,2775.3L1005.0,2774.3L1006.0,2779.3L1007.3,2776.7L1008.0,2773.7L1009.0,2780.2L1010.0,2782.2L1011.0,2780.8L1012.0,2784.5L1013.0,2787.3L1014.0,2788.4L1015.0,2788.5L1015.5,2789.5L1016.0,2792.0L1017.0,2789.7L1018.0,2789.6L1019.0,2790.6L1020.0,2799.7L1021.0,2790.8L1022.0,2794.2L1023.0,2790.8L1024.0,2796.0L1025.0,2796.7L1026.0,2797.9L1027.0,2800.9L1027.9,2803.4L1029.0,2801.2L1030.0,2799.6L1031.0,2801.0L1032.0,2802.9L1033.0,2801.9L1034.0,2804.1L1035.0,2806.2L1036.0,2806.2L1037.0,2811.1L1038.2,2803.4L1039.0,2807.6L1040.0,2809.8L1041.0,2804.8L1042.0,2803.5L1043.0,2812.3L1044.0,2809.8L1045.0,2808.8L1046.0,2810.4L1047.0,2805.3L1048.0,2805.1L1049.0,2811.4L1050.0,2808.1L1051.0,2804.1L1052.0,2807.6L1053.0,2811.7L1054.0,2805.5L1055.0,2804.3L1056.0,2802.7L1057.0,2807.8L1058.0,2808.0L1059.0,2806.7L1060.0,2807.0L1061.0,2807.8L1062.0,2807.1L1063.0,2807.4L1064.0,2811.1L1065.0,2809.0L1066.0,2810.3L1067.0,2804.9L1068.0,2807.2L1069.0,2811.9L1070.0,2810.0L1071.0,2812.2L1072.0,2806.5L1073.0,2811.5L1074.0,2808.8L1075.0,2810.3L1076.0,2808.8L1077.0,2808.3L1078.0,2808.2L1079.0,2810.5L1080.0,2813.4L1081.0,2808.6L1082.0,2809.8L1083.0,2809.1L1084.0,2809.5L1085.0,2813.2L1086.0,2810.8L1087.0,2809.7L1088.0,2813.7L1089.0,2813.0L1090.0,2813.1L1091.0,2812.8L1092.0,2811.2L1093.0,2814.6L1094.0,2811.4L1095.0,2813.5L1096.0,2813.5L1097.0,2815.9L1098.0,2813.0L1099.0,2815.4L1100.0,2809.7L1101.0,2814.1L1102.0,2814.4L1103.0,2814.3L1104.0,2809.4L1105.0,2816.0L1106.0,2813.0L1107.0,2813.0L1108.0,2818.4L1109.0,2814.3L1110.0,2817.2L1111.0,2811.1L1112.0,2816.9L1113.0,2815.8L1114.0,2816.2L1115.0,2813.4L1116.0,2816.6L1117.0,2815.5L1118.0,2819.1L1119.0,2814.8L1120.0,2812.3L1121.0,2818.5L1122.0,2813.6L1123.0,2815.6L1124.0,2817.9L1125.0,2820.1L1126.0,2817.6L1127.0,2818.0L1128.0,2816.8L1129.0,2816.7L1130.0,2816.3L1131.0,2817.2L1132.0,2814.4L1133.0,2817.0L1134.0,2819.3L1135.0,2817.0L1136.0,2816.3L1137.0,2818.4L1138.0,2814.7L1139.0,2816.2L1140.0,2822.1L1141.0,2818.7L1142.0,2818.6L1143.0,2816.6L1144.0,2815.3L1145.0,2814.3L1146.0,2817.1L1147.0,2820.1L1148.0,2816.9L1149.0,2819.1L1150.0,2816.5L1151.0,2817.4L1152.0,2818.1L1153.0,2824.1L1154.0,2817.6L1155.0,2815.2L1156.0,2819.6L1157.0,2817.4L1158.0,2818.7L1159.0,2815.8L1160.0,2819.6L1161.0,2816.0L1162.0,2818.5L1163.0,2816.7L1164.0,2816.0L1165.0,2819.1L1166.0,2818.7L1167.0,2813.1L1168.0,2819.5L1169.0,2819.7L1170.0,2818.3L1171.0,2818.7L1172.0,2818.6L1173.0,2818.7L1174.0,2817.2L1175.0,2820.5L1176.0,2821.0L1177.0,2816.2L1178.0,2818.4L1179.0,2816.1L1180.0,2817.2L1181.0,2820.5L1182.0,2818.4L1183.0,2818.9L1184.0,2817.5L1185.0,2823.9L1186.0,2821.2L1187.0,2819.4L1188.0,2819.0L1189.0,2822.6L1190.0,2821.4L1191.0,2819.4L1192.0,2818.3L1193.0,2816.1L1194.0,2821.9L1195.0,2822.8L1196.0,2824.3L1197.0,2819.5L1198.0,2821.0L1199.0,2814.4L1200.0,2820.5L1201.0,2817.3L1202.0,2817.2L1203.0,2817.2L1204.0,2817.1L1205.0,2818.0L1206.0,2820.4L1207.0,2817.6L1208.0,2818.4L1209.0,2818.9L1210.0,2824.0L1211.0,2821.1L1212.0,2817.9L1213.0,2821.2L1214.0,2823.2L1215.0,2819.1L1216.0,2821.2L1217.0,2822.0L1218.0,2816.3L1219.0,2819.9L1220.0,2819.3L1221.0,2821.5L1222.0,2822.7L1223.0,2818.6L1224.0,2816.2L1225.0,2818.6L1226.0,2819.8L1227.0,2818.3L1228.0,2820.4L1229.0,2817.2L1230.0,2821.1L1231.0,2821.6L1232.0,2824.6L1233.0,2819.7L1234.0,2822.3L1235.0,2818.4L1236.0,2818.5L1237.0,2818.3L1238.0,2819.9L1239.0,2817.2L1240.0,2816.1L1241.0,2825.4L1242.0,2819.6L1243.0,2820.3L1244.0,2820.7L1245.0,2819.4L1246.0,2819.9L1247.0,2823.0L1248.0,2821.1L1249.0,2823.0L1250.0,2817.8L1251.0,2821.6L1252.0,2818.4L1253.0,2817.6L1254.0,2822.3L1255.0,2821.2L1256.0,2822.3L1257.0,2822.1L1258.0,2816.2L1259.0,2822.0L1260.0,2825.1L1261.0,2821.2L1262.0,2823.1L1263.0,2824.2L1264.0,2825.0L1265.0,2815.2L1266.0,2820.2L1267.0,2820.6L1268.0,2820.4L1269.0,2823.5L1270.0,2818.1L1271.0,2815.3L1272.0,2821.5L1273.0,2820.3L1274.0,2823.3L1275.0,2823.4L1276.0,2821.7L1277.0,2823.9L1278.0,2817.8L1279.0,2820.6L1280.0,2817.7L1281.0,2825.1L1282.0,2820.1L1283.0,2822.9L1284.0,2821.8L1285.0,2822.4L1286.0,2823.0L1287.0,2823.2L1288.0,2822.4L1289.0,2820.9L1290.0,2822.3L1291.0,2816.2L1292.0,2818.5L1293.0,2823.9L1294.0,2821.8L1295.0,2817.3L1296.0,2817.6L1297.0,2817.7L1298.0,2819.6L1299.0,2822.4L1300.0,2820.4L1301.0,2822.2L1302.0,2817.4L1303.0,2820.2L1304.0,2820.8L1305.0,2821.3L1306.0,2822.0L1307.0,2820.6L1308.0,2822.2L1309.0,2823.1L1310.0,2821.4L1311.0,2817.5L1312.0,2818.7L1313.0,2818.3L1314.0,2823.8L1315.0,2822.0L1316.0,2820.3L1317.0,2818.8L1318.0,2818.8L1319.0,2823.5L1320.0,2819.7L1321.0,2818.7L1322.0,2818.3L1323.0,2821.6L1324.0,2815.8L1325.0,2818.8L1326.0,2821.4L1327.0,2821.9L1328.0,2821.3L1329.0,2819.8L1330.0,2822.8L1331.0,2825.2L1332.0,2820.0L1333.0,2820.5L1334.0,2822.0L1335.0,2823.6L1336.0,2822.6L1337.0,2822.9L1338.0,2819.6L1339.0,2827.3L1340.0,2823.3L1341.0,2826.3L1342.0,2825.5L1343.0,2828.8L1344.0,2824.9L1344.7,2825.4L1346.0,2828.2L1347.0,2828.2L1348.0,2827.0L1349.0,2829.0L1350.0,2827.0L1351.0,2827.4L1352.0,2825.5L1353.0,2828.2L1354.0,2830.4L1355.0,2828.0L1356.0,2828.2L1357.0,2830.6L1358.0,2827.5L1359.0,2827.0L1360.0,2828.7L1361.0,2832.3L1362.0,2827.7L1363.0,2828.5L1364.0,2829.4L1365.0,2827.7L1366.0,2827.9L1367.0,2831.7L1368.0,2824.9L1369.0,2829.9L1370.0,2831.0L1371.0,2831.7L1372.0,2829.5L1373.0,2830.1L1374.0,2827.7L1375.0,2825.1L1376.0,2829.6L1377.0,2829.5L1378.0,2830.1L1379.0,2832.2L1380.0,2835.0L1381.0,2830.4L1382.0,2833.2L1383.0,2829.8L1384.0,2830.2L1385.0,2827.2L1386.0,2830.0L1387.0,2828.1L1388.0,2830.0L1389.0,2826.4L1390.0,2832.1L1391.0,2826.2L1392.0,2830.8L1393.0,2825.0L1394.0,2829.7L1395.0,2830.4L1396.0,2831.7L1397.0,2833.3L1398.0,2827.1L1399.0,2829.6L1400.0,2829.4L1401.0,2830.1L1402.0,2832.8L1403.0,2828.5L1404.0,2827.3L1405.0,2828.1L1406.0,2831.4L1407.0,2827.5L1408.0,2824.9L1409.0,2827.9L1410.0,2831.5L1411.0,2832.3L1412.0,2827.0L1413.0,2826.8L1414.0,2829.9L1415.0,2830.4L1416.0,2827.9L1417.0,2827.9L1418.0,2829.4L1419.0,2823.9L1420.0,2830.6L1421.0,2824.8L1422.0,2822.6L1423.0,2829.8L1424.0,2826.8L1425.0,2828.4L1426.0,2822.9L1427.0,2827.0L1428.0,2826.8L1429.0,2826.4L1430.0,2826.2L1431.0,2825.5L1432.0,2825.4L1433.0,2822.7L1434.0,2829.8L1435.0,2823.9L1436.0,2822.0L1437.0,2825.4L1438.0,2824.0L1439.0,2822.7L1440.0,2831.6L1441.0,2825.0L1442.0,2819.9L1443.0,2820.7L1444.0,2818.9L1445.0,2817.5L1446.0,2817.0L1447.0,2814.5L1448.0,2815.7L1449.0,2808.3L1450.0,2806.5L1451.0,2807.6L1452.0,2805.8L1453.0,2800.3L1454.0,2797.6L1455.0,2799.4L1455.8,2796.5L1457.0,2794.6L1458.0,2792.0L1459.0,2788.1L1460.0,2784.8L1461.0,2782.1L1462.0,2779.2L1463.0,2773.7L1464.0,2775.3L1465.0,2779.9L1466.0,2783.4L1467.0,2784.0L1468.0,2789.0L1469.0,2795.9L1470.0,2799.7L1471.0,2798.8L1472.0,2801.4L1472.6,2807.6L1474.0,2805.7L1475.0,2815.1L1476.0,2811.8L1477.0,2815.2L1478.0,2810.8L1479.0,2816.9L1480.0,2818.5L1481.0,2816.0L1482.0,2825.3L1483.0,2822.6L1484.0,2825.1L1485.0,2824.9L1486.0,2827.6L1487.0,2828.7L1488.0,2828.2L1489.0,2828.5L1490.0,2823.9L1491.0,2827.7L1492.0,2825.0L1493.0,2828.8L1494.0,2826.5L1495.0,2824.3L1496.0,2832.3L1497.0,2828.1L1498.0,2828.1L1499.0,2829.1L1500.0,2828.8L1501.0,2830.9L1502.0,2833.3L1503.0,2828.7L1504.0,2831.4L1505.0,2831.6L1506.0,2827.2L1507.0,2831.9L1508.0,2832.6L1509.0,2830.3L1510.0,2830.0L1511.0,2828.6L1512.0,2833.5L1513.0,2829.7L1514.0,2831.8L1515.0,2828.4L1516.0,2831.0L1517.0,2828.0L1518.0,2830.1L1519.0,2833.9L1520.0,2829.6L1521.0,2829.9L1522.0,2830.8L1523.0,2831.6L1524.0,2830.2L1525.0,2833.4L1526.0,2831.8L1527.0,2834.9L1528.0,2834.5L1529.0,2834.2L1530.0,2834.5L1531.0,2835.0L1532.0,2829.9L1533.0,2839.0L1534.0,2830.3L1535.0,2837.9L1536.0,2832.8L1536.5,2829.9L1537.0,2831.5L1538.0,2830.2L1539.0,2835.5L1540.0,2834.3L1541.0,2841.5L1542.0,2835.5L1543.0,2833.6L1544.0,2838.5L1545.0,2842.4L1546.0,2833.7L1547.0,2833.7L1548.0,2835.5L1549.0,2832.8L1550.0,2834.0L1551.0,2839.7L1552.0,2838.6L1553.0,2838.6L1554.0,2836.4L1555.0,2839.2L1556.0,2832.3L1557.0,2839.6L1558.0,2832.9L1559.0,2834.2L1560.0,2837.4L1561.0,2833.9L1562.0,2837.3L1563.0,2837.4L1564.0,2839.3L1565.0,2836.6L1566.0,2837.2L1567.0,2836.5L1568.0,2837.0L1569.0,2836.6L1570.0,2837.2L1571.0,2838.6L1572.0,2840.1L1573.0,2838.2L1574.0,2830.6L1575.0,2838.3L1576.0,2833.5L1577.0,2835.3L1578.0,2839.2L1579.0,2832.1L1580.0,2836.4L1581.0,2838.5L1582.0,2838.1L1583.0,2837.0L1584.0,2835.0L1585.0,2842.9L1586.0,2835.2L1587.0,2836.8L1588.0,2840.3L1589.0,2839.0L1590.0,2840.5L1591.0,2841.9L1592.0,2836.4L1593.0,2840.2L1594.0,2837.4L1595.0,2839.4L1596.0,2839.0L1597.0,2837.4L1598.0,2839.6L1599.0,2837.4L1600.0,2846.6L1601.0,2845.8L1602.0,2840.0L1603.0,2836.2L1604.0,2833.4L1605.0,2835.8L1606.0,2842.9L1607.0,2837.1L1608.0,2839.1L1609.0,2838.9L1610.0,2838.8L1611.0,2839.0L1612.0,2839.3L1613.0,2844.0L1614.0,2841.1L1615.0,2845.7L1616.0,2841.3L1617.0,2841.2L1618.0,2845.6L1619.0,2839.1L1620.0,2844.0L1621.0,2838.6L1622.0,2843.7L1623.0,2841.3L1624.0,2842.2L1625.0,2839.9L1626.0,2847.4L1627.0,2842.6L1628.0,2839.3L1629.0,2846.2L1630.0,2839.3L1631.0,2842.9L1632.0,2843.4L1633.0,2841.4L1634.0,2843.0L1635.0,2840.4L1636.0,2842.6L1637.0,2839.5L1638.0,2840.1L1639.0,2840.4L1640.0,2842.2L1641.0,2840.7L1642.0,2845.3L1643.0,2839.7L1644.0,2847.4L1645.0,2841.7L1646.0,2841.6L1647.0,2841.3L1648.0,2844.2L1649.0,2840.4L1650.0,2843.6L1651.0,2841.4L1652.0,2837.9L1653.0,2841.7L1654.0,2846.4L1655.0,2839.5L1656.0,2843.9L1657.0,2839.0L1658.0,2844.7L1659.0,2839.2L1660.0,2840.3L1661.0,2842.2L1662.0,2842.6L1663.0,2841.4L1664.0,2846.5L1665.0,2844.0L1666.0,2840.7L1667.0,2843.3L1668.0,2842.6L1669.0,2843.1L1670.0,2841.5L1671.0,2841.2L1672.0,2842.4L1673.0,2839.6L1674.0,2841.8L1675.0,2848.5L1676.0,2840.8L1677.0,2836.9L1678.0,2841.3L1679.0,2840.0L1680.0,2838.8L1681.0,2841.2L1682.0,2840.4L1683.0,2843.1L1684.0,2844.7L1685.0,2837.1L1686.0,2840.2L1687.0,2836.9L1688.0,2837.6L1689.0,2840.3L1690.0,2841.7L1691.0,2839.0L1692.0,2844.7L1693.0,2835.9L1694.0,2839.8L1695.0,2840.1L1696.0,2837.5L1697.0,2839.3L1698.0,2835.3L1699.0,2836.5L1700.0,2839.1L1701.0,2836.6L1702.0,2839.6L1703.0,2839.8L1704.0,2842.0L1705.0,2840.0L1706.0,2837.3L1707.0,2836.7L1708.0,2839.7L1709.0,2836.9L1710.0,2843.6L1711.0,2838.2L1712.0,2837.2L1713.0,2835.9L1714.0,2837.8L1715.0,2837.2L1716.0,2838.7L1717.0,2835.9L1718.0,2836.3L1719.0,2837.0L1720.0,2836.4L1721.0,2834.8L1722.0,2837.0L1723.0,2836.6L1724.0,2836.4L1725.0,2837.7L1726.0,2833.2L1727.0,2835.1L1728.0,2835.6L1729.0,2833.3L1730.0,2831.8L1731.0,2829.5L1732.0,2829.2L1733.0,2825.8L1734.0,2833.5L1735.0,2828.4L1736.0,2827.6L1737.0,2827.7L1738.0,2824.6L1738.5,2824.6L1739.0,2823.3L1740.0,2818.7L1741.0,2813.7L1742.0,2818.6L1743.0,2817.8L1744.0,2814.5L1745.0,2810.7L1746.0,2810.6L1747.0,2809.4L1748.0,2811.7L1749.0,2811.4L1750.0,2814.6L1751.0,2809.6L1752.0,2817.9L1753.0,2819.3L1754.0,2816.3L1755.0,2820.6L1756.0,2823.7L1757.0,2827.1L1758.0,2827.9L1758.7,2830.0L1760.0,2827.4L1761.0,2827.6L1762.0,2829.1L1763.0,2826.2L1764.0,2825.8L1765.0,2830.0L1766.0,2828.2L1767.0,2828.9L1768.0,2831.9L1769.0,2823.3L1770.0,2828.9L1771.0,2831.6L1772.0,2829.4L1773.0,2833.7L1774.0,2827.4L1775.0,2830.1L1776.0,2829.4L1777.0,2829.9L1778.0,2828.4L1779.0,2831.2L1780.0,2829.3L1781.0,2829.5L1782.0,2833.5L1783.0,2832.3L1784.0,2829.4L1785.0,2832.7L1785.6,2834.2L1787.0,2834.5L1788.0,2832.4L1789.0,2835.0L1790.0,2831.1L1791.0,2829.6L1792.0,2829.5L1793.0,2831.2L1794.0,2824.3L1795.0,2834.1L1796.0,2831.6L1797.0,2828.1L1798.0,2828.5L1799.0,2830.3L1800.0,2832.8L1801.0,2824.7L1802.0,2830.6L1803.0,2828.6L1804.0,2826.1L1805.0,2828.3L1806.0,2824.6L1807.0,2822.8L1808.0,2821.8L1809.0,2831.0L1810.0,2824.4L1811.0,2824.3L1812.0,2824.6L1813.0,2823.7L1814.0,2821.9L1815.0,2825.9L1816.0,2824.4L1817.0,2824.7L1818.0,2819.9L1819.0,2826.3L1820.0,2823.6L1821.0,2825.1L1822.0,2821.0L1823.0,2820.9L1824.0,2818.2L1825.0,2824.7L1826.0,2821.8L1827.0,2818.5L1828.0,2821.7L1829.0,2822.2L1830.0,2823.0L1831.0,2825.5L1832.0,2826.2L1833.0,2825.1L1834.0,2821.9L1835.0,2822.7L1836.0,2823.3L1837.0,2824.1L1838.0,2827.3L1839.0,2825.3L1840.0,2826.8L1841.0,2829.4L1842.0,2826.8L1843.0,2833.3L1844.0,2824.0L1845.0,2831.0L1846.0,2827.6L1847.0,2830.4L1848.0,2830.0L1849.0,2830.3L1850.0,2828.7L1851.0,2831.4L1852.0,2828.9L1853.0,2831.9L1854.0,2830.1L1855.0,2829.1L1856.0,2835.2L1857.0,2832.6L1858.0,2830.8L1859.0,2834.2L1860.0,2834.9L1861.0,2837.5L1862.0,2834.5L1863.0,2835.6L1864.0,2831.7L1865.0,2839.1L1866.0,2833.2L1867.0,2835.0L1868.0,2835.6L1869.0,2837.3L1870.0,2835.6L1871.0,2835.6L1872.0,2836.2L1873.0,2840.1L1874.0,2839.2L1875.0,2838.3L1876.0,2838.3L1877.0,2834.9L1878.0,2836.4L1879.0,2834.7L1880.0,2842.5L1881.0,2833.8L1882.0,2835.1L1883.0,2836.4L1884.0,2837.5L1885.0,2834.7L1886.0,2836.3L1887.0,2841.4L1888.0,2835.6L1889.0,2842.3L1890.0,2841.1L1891.0,2838.4L1892.0,2833.8L1893.0,2839.0L1894.0,2840.9L1895.0,2839.6L1896.0,2840.6L1897.0,2841.9L1898.0,2841.5L1899.0,2846.5L1900.0,2843.9L1901.0,2845.7L1902.0,2843.3L1903.0,2837.2L1904.0,2842.6L1905.0,2844.0L1906.0,2840.8L1906.7,2845.7L1908.0,2844.4L1909.0,2839.5L1910.0,2846.6L1911.0,2845.3L1912.0,2844.2L1913.0,2842.6L1914.0,2847.1L1915.0,2838.3L1916.0,2843.1L1917.0,2847.7L1918.0,2848.3L1919.0,2845.9L1920.0,2849.0L1921.0,2843.8L1922.0,2842.6L1923.0,2850.1L1924.0,2848.4L1925.0,2845.4L1926.0,2847.7L1927.0,2846.4L1928.0,2845.4L1929.0,2846.9L1930.0,2848.9L1931.0,2842.7L1932.0,2844.5L1933.0,2845.6L1934.0,2844.3L1935.0,2846.0L1936.0,2842.8L1937.0,2845.2L1938.0,2848.0L1939.0,2845.8L1940.0,2846.3L1941.0,2848.1L1942.0,2850.7L1943.0,2845.2L1944.0,2845.3L1945.0,2848.9L1946.0,2848.3L1947.0,2844.1L1948.0,2845.0L1949.0,2845.9L1950.0,2847.1L1951.0,2847.2L1952.0,2849.5L1953.0,2851.5L1954.0,2850.2L1955.0,2846.2L1956.0,2846.3L1957.0,2845.6L1958.0,2845.8L1959.0,2850.3L1960.0,2849.0L1961.0,2842.9L1962.0,2848.0L1963.0,2850.8L1964.0,2844.5L1965.0,2849.8L1966.0,2852.9L1967.0,2843.8L1968.0,2847.0L1969.0,2845.8L1970.0,2849.3L1971.0,2849.3L1972.0,2852.2L1973.0,2849.4L1974.0,2848.4L1975.0,2848.7L1976.0,2851.8L1977.0,2846.6L1978.0,2848.4L1979.0,2847.4L1980.0,2848.1L1981.0,2852.0L1982.0,2847.7L1983.0,2851.8L1984.0,2847.3L1985.0,2846.5L1986.0,2845.8L1987.0,2856.1L1988.0,2849.2L1989.0,2852.4L1990.0,2848.8L1991.0,2849.8L1992.0,2847.3L1993.0,2852.2L1994.0,2851.0L1995.0,2847.7L1996.0,2851.3L1997.0,2852.3L1998.0,2852.2L1999.0,2850.4L2000.0,2852.3L2001.0,2852.0L2002.0,2849.8L2003.0,2845.4L2004.0,2847.3L2005.0,2853.2L2006.0,2847.9L2007.0,2849.5L2008.0,2849.2L2009.0,2848.1L2010.0,2853.9L2011.0,2848.4L2012.0,2853.4L2013.0,2850.0L2014.0,2849.0L2015.0,2850.0L2016.0,2846.6L2017.0,2850.4L2018.0,2851.3L2019.0,2850.1L2020.0,2850.1L2021.0,2848.1L2022.0,2851.5L2023.0,2848.2L2024.0,2848.7L2025.0,2848.1L2026.0,2853.6L2027.0,2850.4L2028.0,2849.3L2029.0,2853.1L2030.0,2849.2L2031.0,2847.2L2032.0,2850.7L2033.0,2851.5L2034.0,2852.6L2035.0,2845.7L2036.0,2848.5L2037.0,2853.1L2038.0,2851.6L2039.0,2850.0L2040.0,2846.1L2041.0,2850.2L2042.0,2848.6L2043.0,2847.8L2044.0,2851.0L2045.0,2848.2L2046.0,2850.8L2047.0,2852.5L2048.0,2849.4L2049.0,2852.9L2050.0,2853.9L2051.0,2853.7L2052.0,2848.3L2053.0,2847.6L2054.0,2848.3L2055.0,2847.2L2056.0,2848.9L2057.0,2851.3L2058.0,2850.9L2059.0,2851.8L2060.0,2854.2L2061.0,2850.0L2062.0,2848.6L2063.0,2848.3L2064.0,2848.1L2065.0,2852.0L2066.0,2854.4L2067.0,2851.8L2068.0,2849.9L2069.0,2851.3L2070.0,2853.6L2071.0,2849.9L2072.0,2852.7L2073.0,2851.1L2074.0,2849.8L2075.0,2853.5L2076.0,2853.4L2077.0,2850.9L2078.0,2848.9L2079.0,2847.7L2080.0,2848.6L2081.0,2853.8L2082.0,2850.9L2083.0,2851.0L2084.0,2851.8L2085.0,2850.4L2086.0,2851.1L2087.0,2848.2L2088.0,2853.3L2089.0,2847.8L2090.0,2851.9L2091.0,2843.8L2092.0,2847.6L2093.0,2846.7L2094.0,2850.9L2095.0,2846.2L2096.0,2846.2L2097.0,2851.0L2098.0,2852.9L2099.0,2851.3L2100.0,2854.5L2101.0,2851.3L2102.0,2846.3L2103.0,2843.9L2104.0,2847.3L2105.0,2846.9L2106.0,2846.1L2107.0,2848.6L2108.0,2852.3L2109.0,2851.0L2110.0,2849.2L2111.0,2849.8L2112.0,2846.5L2113.0,2851.4L2114.0,2846.3L2115.0,2849.1L2116.0,2846.1L2117.0,2846.8L2118.0,2849.6L2119.0,2851.6L2120.0,2844.1L2121.0,2848.6L2122.0,2854.2L2123.0,2848.6L2124.0,2848.6L2125.0,2850.0L2126.0,2848.2L2127.0,2849.0L2128.0,2847.6L2129.0,2844.1L2130.0,2848.1L2131.0,2846.7L2132.0,2850.4L2133.0,2843.0L2134.0,2844.2L2135.0,2851.3L2136.0,2845.9L2137.0,2850.1L2138.0,2844.9L2139.0,2848.8L2140.0,2842.9L2141.0,2842.7L2142.0,2845.6L2143.0,2846.8L2144.0,2845.0L2145.0,2849.5L2146.0,2844.1L2147.0,2847.7L2148.0,2843.9L2149.0,2843.2L2150.0,2846.9L2151.0,2843.4L2152.0,2840.0L2153.0,2845.3L2154.0,2846.9L2155.0,2845.3L2156.0,2842.8L2157.0,2841.2L2158.0,2841.8L2159.0,2845.0L2160.0,2848.3L2161.0,2841.1L2162.0,2843.6L2163.0,2846.2L2164.0,2844.7L2165.0,2843.5L2166.0,2842.0L2167.0,2845.1L2168.0,2842.7L2169.0,2841.7L2170.0,2838.5L2171.0,2844.1L2172.0,2843.9L2173.0,2843.7L2174.0,2840.5L2175.0,2844.8L2176.0,2843.7L2177.0,2841.5" fill="none" stroke="#f24848" stroke-width="2.8" stroke-linejoin="round"/>
<path d="M263.0,2997.6L264.0,2993.9L265.0,3001.5L266.0,3005.5L267.0,2998.6L268.0,3000.4L269.0,3000.1L270.0,2998.5L271.0,2998.2L272.0,2998.7L273.0,2994.7L274.0,2991.0L275.0,2990.2L276.0,2996.1L277.0,2995.2L278.0,2993.6L279.0,2987.3L280.0,2992.4L281.0,2992.5L282.0,2989.7L283.0,2990.0L284.0,2997.3L285.0,2994.8L286.0,2993.1L287.0,2990.7L288.0,2987.7L289.0,2986.8L290.0,2988.5L291.0,2983.4L292.0,2984.0L293.0,2987.8L294.0,2979.0L295.0,2979.3L296.0,2984.9L297.0,2980.2L298.0,2978.6L299.0,2974.9L300.0,2972.3L301.0,2978.0L302.0,2967.1L303.0,2973.9L304.0,2970.2L305.0,2970.3L306.0,2964.1L307.0,2970.8L308.0,2968.9L309.0,2967.1L310.0,2966.3L311.0,2960.6L312.0,2963.5L313.0,2963.3L314.0,2961.0L315.0,2952.2L316.0,2959.4L317.0,2959.1L318.0,2955.1L319.0,2957.5L320.0,2959.9L321.0,2955.5L322.0,2958.4L323.0,2952.8L324.0,2951.5L325.0,2953.3L326.0,2949.5L327.0,2946.6L328.0,2951.1L329.0,2949.5L330.0,2950.2L331.0,2945.6L332.0,2946.0L333.0,2947.6L334.0,2944.3L335.0,2944.2L336.0,2944.6L337.0,2942.5L338.0,2945.7L339.0,2941.7L340.0,2947.4L341.0,2953.6L342.0,2948.8L343.0,2946.6L344.0,2943.9L345.0,2945.6L346.0,2948.5L347.0,2947.7L348.0,2951.6L349.0,2951.2L350.0,2953.3L351.0,2951.2L352.0,2954.4L353.0,2956.5L354.0,2951.0L355.0,2953.6L356.0,2954.1L357.0,2954.7L358.0,2958.5L359.0,2955.1L360.0,2954.9L361.0,2955.0L362.0,2956.0L363.0,2960.8L364.0,2964.7L365.0,2963.7L366.0,2962.8L367.0,2965.7L368.0,2965.0L369.0,2971.3L370.0,2970.3L371.0,2975.1L372.0,2974.2L373.0,2975.4L374.0,2972.6L375.0,2977.6L376.0,2976.6L377.0,2977.4L378.0,2980.6L378.7,2985.3L380.0,2983.5L381.0,2988.4L382.0,2985.8L383.0,2981.4L384.0,2984.5L385.0,2991.7L386.0,2989.3L387.0,2988.9L388.0,2988.4L389.0,2990.9L390.0,2992.5L391.0,2991.2L392.0,2993.1L393.0,2994.9L394.0,2992.3L395.0,2995.3L396.0,2995.0L397.0,2996.2L398.0,2996.4L399.0,2998.0L400.0,2998.4L401.0,3006.0L402.0,3001.9L403.0,3004.2L404.0,3002.2L405.0,3005.5L406.0,3007.2L407.0,3011.1L408.0,3012.3L409.0,3007.7L410.0,3014.3L411.0,3010.8L411.6,3014.3L413.0,3011.5L414.0,3013.9L415.0,3012.2L416.0,3009.3L417.0,3014.6L418.0,3012.8L419.0,3013.6L420.0,3014.9L421.0,3016.0L422.0,3021.4L423.0,3012.7L424.0,3014.5L425.0,3013.7L426.0,3019.7L427.0,3016.1L428.0,3015.7L429.0,3018.8L430.0,3018.2L431.0,3019.7L432.0,3014.9L433.0,3019.1L434.0,3020.9L435.0,3018.3L436.0,3023.3L437.0,3020.3L438.0,3018.9L439.0,3020.2L440.0,3023.0L441.0,3024.6L442.0,3021.1L443.0,3024.2L444.0,3022.2L445.0,3021.1L446.0,3021.3L447.0,3026.0L448.0,3023.4L449.0,3025.3L450.0,3029.5L451.0,3028.2L452.0,3025.0L453.0,3025.7L454.0,3027.4L455.0,3021.8L456.0,3029.1L457.0,3026.0L458.0,3030.0L459.0,3026.6L460.0,3027.8L461.0,3031.0L462.0,3030.9L463.0,3034.1L464.0,3028.6L465.0,3028.5L466.0,3034.1L467.0,3031.9L468.0,3027.8L469.0,3029.8L470.0,3032.3L471.0,3030.3L472.0,3028.1L473.0,3032.2L474.0,3033.4L475.0,3035.8L476.0,3035.6L477.0,3035.1L478.0,3031.3L479.0,3030.5L480.0,3031.3L481.0,3035.6L482.0,3036.6L483.0,3029.9L484.0,3036.3L485.0,3037.4L486.0,3039.2L487.0,3037.6L488.0,3038.3L489.0,3036.8L490.0,3035.7L491.0,3036.3L492.0,3036.8L493.0,3034.3L494.0,3037.2L495.0,3040.3L496.0,3037.1L497.0,3041.4L498.0,3036.3L499.0,3039.8L500.0,3037.0L501.0,3041.9L502.0,3041.3L503.0,3042.2L504.0,3042.1L505.0,3041.6L506.0,3043.4L507.0,3041.3L508.0,3034.8L509.0,3041.6L510.0,3042.9L511.0,3036.0L512.0,3045.1L513.0,3042.2L514.0,3045.2L515.0,3042.1L516.0,3043.6L517.0,3041.3L518.0,3043.0L519.0,3039.9L520.0,3044.8L521.0,3043.4L522.0,3043.0L523.0,3043.0L523.7,3042.6L525.0,3045.2L526.0,3045.1L527.0,3044.8L528.0,3049.1L529.0,3043.1L530.0,3044.9L531.0,3042.7L532.0,3045.5L533.0,3045.9L534.0,3041.9L535.0,3047.5L536.0,3041.5L537.0,3045.5L538.0,3046.3L539.0,3043.8L540.0,3050.7L541.0,3047.8L542.0,3044.2L543.0,3048.6L544.0,3048.8L545.0,3046.5L546.0,3046.0L547.0,3050.6L548.0,3054.2L549.0,3049.1L550.0,3054.0L551.0,3044.4L552.0,3044.7L553.0,3049.2L554.0,3047.5L555.0,3049.9L556.0,3054.1L557.0,3046.9L558.0,3050.8L559.0,3049.8L560.0,3046.7L561.0,3049.5L562.0,3047.4L563.0,3049.7L564.0,3054.3L565.0,3053.3L566.0,3053.5L567.0,3051.3L568.0,3049.8L569.0,3056.5L570.0,3051.4L571.0,3052.6L572.0,3054.3L573.0,3051.4L574.0,3053.1L575.0,3051.9L576.0,3053.1L577.0,3054.6L578.0,3049.0L579.0,3052.8L580.0,3051.4L581.0,3052.3L582.0,3053.9L583.0,3056.9L584.0,3047.9L585.0,3057.7L586.0,3052.0L587.0,3051.5L588.0,3051.9L589.0,3054.4L589.7,3054.4L591.0,3049.5L592.0,3049.9L593.0,3056.5L594.0,3053.8L595.0,3049.2L596.0,3053.4L597.0,3053.3L598.0,3057.9L599.0,3052.1L600.0,3052.7L601.0,3053.1L602.0,3055.1L603.0,3055.4L604.0,3055.8L605.0,3058.7L606.0,3053.9L607.0,3058.3L608.0,3054.5L609.0,3056.3L610.0,3056.7L611.0,3058.9L612.0,3051.8L613.0,3060.1L614.0,3049.4L615.0,3054.0L616.0,3054.0L617.0,3054.3L618.0,3058.0L619.0,3050.1L620.0,3051.5L621.0,3056.9L622.0,3058.9L623.0,3051.7L624.0,3053.0L625.0,3056.2L626.0,3056.1L627.0,3050.6L628.0,3054.2L629.0,3053.1L630.0,3051.5L631.0,3054.1L632.0,3052.5L633.0,3051.3L634.0,3060.4L635.0,3053.2L636.0,3052.0L637.0,3059.4L638.0,3053.7L639.0,3053.5L640.0,3048.2L641.0,3050.7L642.0,3058.4L643.0,3052.6L644.0,3053.7L645.0,3054.2L646.0,3055.3L647.0,3059.8L648.0,3050.7L649.0,3050.7L650.0,3059.0L651.0,3056.8L652.0,3056.9L653.0,3058.4L654.0,3054.8L655.0,3056.9L655.6,3057.8L657.0,3058.8L658.0,3055.7L659.0,3052.1L660.0,3053.3L661.0,3054.6L662.0,3054.1L663.0,3058.1L664.0,3052.4L665.0,3056.5L666.0,3054.1L667.0,3055.7L668.0,3059.0L669.0,3058.0L670.0,3053.8L671.0,3055.3L672.0,3057.8L673.0,3055.4L674.0,3058.0L675.0,3058.8L676.0,3054.4L677.0,3056.9L678.0,3060.4L679.0,3057.1L680.0,3053.7L681.0,3058.9L682.0,3055.4L683.0,3054.9L684.0,3056.6L685.0,3057.5L686.0,3054.1L687.0,3056.5L688.0,3057.2L689.0,3057.7L690.0,3055.5L691.0,3053.7L692.0,3055.9L693.0,3056.7L694.0,3056.2L695.0,3058.1L696.0,3056.6L697.0,3052.2L698.0,3057.2L699.0,3058.1L700.0,3051.4L701.0,3057.6L702.0,3058.1L703.0,3057.0L704.0,3057.3L705.0,3053.9L706.0,3057.3L707.0,3057.2L708.0,3053.7L709.0,3057.6L710.0,3058.6L711.0,3055.5L712.0,3061.1L713.0,3057.0L714.0,3056.8L715.0,3057.7L716.0,3056.7L717.0,3056.1L718.0,3055.0L719.0,3052.0L720.0,3052.8L721.0,3056.5L721.5,3059.9L722.0,3055.0L723.0,3049.9L724.0,3058.1L725.0,3053.3L726.0,3054.0L727.0,3057.1L728.0,3056.7L729.0,3056.7L730.0,3054.9L731.0,3054.6L732.0,3057.7L733.0,3058.5L734.0,3058.3L735.0,3058.9L736.0,3058.4L737.0,3055.5L738.0,3057.7L739.0,3056.6L740.0,3054.4L741.0,3060.9L742.0,3059.4L743.0,3055.2L744.0,3055.5L745.0,3057.0L746.0,3056.7L747.0,3055.9L748.0,3056.2L749.0,3060.3L750.0,3055.9L751.0,3055.0L752.0,3060.0L753.0,3056.3L754.0,3055.8L755.0,3054.9L756.0,3056.7L757.0,3056.0L758.0,3056.2L759.0,3056.3L760.0,3057.3L761.0,3053.4L762.0,3054.4L763.0,3055.5L764.0,3056.5L765.0,3055.7L766.0,3056.5L767.0,3056.5L768.0,3055.6L769.0,3055.5L770.0,3060.8L771.0,3056.2L772.0,3055.1L773.0,3058.0L774.0,3057.0L775.0,3053.8L776.0,3059.7L777.0,3049.6L778.0,3057.1L779.0,3056.7L780.0,3057.5L781.0,3055.7L782.0,3049.8L783.0,3051.7L784.0,3056.4L785.0,3051.6L786.0,3058.6L787.0,3059.6L788.0,3051.4L789.0,3056.8L790.0,3057.3L791.0,3061.1L792.0,3053.5L793.0,3056.2L794.0,3057.2L795.0,3052.1L796.0,3052.6L797.0,3056.2L798.0,3054.5L799.0,3052.3L800.0,3051.8L801.2,3054.0L802.0,3052.6L803.0,3055.5L804.0,3053.9L805.0,3058.2L806.0,3053.0L807.0,3052.4L808.0,3054.7L809.0,3055.4L810.0,3050.8L811.0,3051.4L812.0,3050.6L813.0,3049.7L814.0,3052.3L815.0,3053.2L816.0,3050.6L817.0,3049.6L818.0,3049.4L819.0,3056.1L820.0,3052.4L821.0,3052.4L822.0,3049.7L823.0,3049.5L824.0,3050.4L825.0,3050.0L826.0,3047.4L827.0,3050.9L828.0,3049.2L829.0,3050.3L830.0,3050.9L831.0,3049.4L832.0,3046.5L833.0,3051.9L834.0,3050.1L835.0,3047.4L836.0,3047.9L837.0,3043.6L838.0,3045.4L839.0,3046.0L840.4,3044.4L841.0,3038.9L842.0,3036.1L843.0,3031.1L844.0,3028.9L845.0,3027.7L845.5,3019.2L846.0,3016.2L847.0,3012.7L848.0,3005.4L849.0,2997.1L849.6,2996.2L851.0,2977.5L852.0,2966.1L852.7,2961.3L854.0,2947.4L855.0,2944.5L855.8,2939.0L857.0,2944.6L858.0,2954.0L858.9,2962.7L860.0,2974.4L861.0,2982.3L862.0,2990.7L863.0,3004.4L864.0,3015.9L865.1,3021.7L866.0,3023.6L867.0,3029.3L868.0,3038.4L869.0,3034.9L870.0,3037.8L871.3,3045.7L872.0,3043.9L873.0,3044.7L874.0,3049.5L875.0,3044.6L876.0,3046.7L877.0,3052.3L878.0,3052.1L879.0,3052.9L880.0,3051.2L881.0,3052.9L882.0,3052.1L883.0,3056.5L883.6,3056.5L885.0,3057.5L886.0,3053.6L887.0,3055.2L888.0,3056.5L889.0,3058.5L890.0,3053.6L891.0,3057.5L892.0,3055.7L893.0,3056.0L894.0,3054.6L895.0,3057.9L896.0,3058.1L897.0,3054.1L898.0,3060.0L899.0,3054.9L900.0,3057.9L901.0,3060.7L902.0,3054.1L903.0,3053.5L904.2,3058.9L905.0,3059.4L906.0,3058.6L907.0,3059.6L908.0,3055.6L909.0,3058.9L910.0,3058.7L911.0,3059.4L912.0,3056.1L913.0,3064.2L914.0,3057.3L915.0,3053.5L916.0,3055.2L917.0,3055.0L918.0,3061.0L919.0,3060.2L920.0,3058.6L921.0,3059.5L922.0,3057.8L923.0,3060.7L924.0,3056.3L925.0,3062.0L926.0,3058.9L927.0,3061.8L928.0,3053.4L929.0,3056.4L930.0,3058.1L931.0,3058.0L932.0,3054.4L933.0,3060.3L934.0,3058.4L935.0,3054.5L936.0,3054.9L937.0,3056.1L938.0,3056.1L939.3,3058.2L940.0,3057.7L941.0,3058.7L942.0,3058.1L943.0,3051.9L944.0,3059.0L945.0,3050.7L946.0,3054.7L947.0,3052.7L948.0,3050.5L949.0,3056.1L950.0,3049.1L951.0,3051.7L952.0,3049.6L953.0,3052.9L953.7,3050.0L955.0,3050.5L956.0,3051.0L957.0,3049.5L958.0,3049.4L959.0,3048.4L960.0,3048.7L961.0,3044.0L962.0,3038.5L963.0,3042.1L964.0,3040.9L965.0,3041.7L966.1,3041.9L967.0,3040.5L968.0,3036.5L969.0,3033.9L970.0,3038.2L971.0,3037.0L972.0,3033.8L973.0,3035.3L974.0,3031.9L975.0,3027.7L976.0,3027.6L977.0,3027.1L978.4,3027.5L979.0,3023.1L980.0,3021.7L981.0,3013.5L982.0,3016.1L983.0,3016.1L984.0,3007.5L985.0,3008.6L986.0,3007.1L986.7,3004.2L988.0,2997.5L989.0,2992.2L990.0,2986.4L991.0,2980.8L992.0,2974.2L992.8,2970.7L994.0,2964.8L995.0,2963.1L996.0,2962.8L997.0,2953.8L998.0,2951.5L999.0,2947.0L1000.0,2948.2L1001.0,2943.6L1002.0,2944.1L1003.0,2935.5L1004.0,2941.6L1005.2,2937.4L1006.0,2940.3L1007.0,2939.6L1008.0,2942.2L1009.0,2945.9L1010.0,2942.7L1011.4,2945.3L1012.0,2953.6L1013.0,2951.8L1014.0,2956.5L1015.0,2958.6L1016.0,2954.4L1017.0,2961.7L1018.0,2960.8L1019.0,2962.8L1020.0,2959.8L1021.0,2966.4L1022.0,2966.6L1023.0,2974.5L1023.8,2970.1L1025.0,2977.1L1026.0,2977.2L1027.0,2982.7L1028.0,2979.7L1029.0,2982.3L1030.0,2983.7L1031.0,2987.7L1032.0,2987.1L1033.0,2991.5L1034.0,2996.5L1035.0,2985.6L1036.0,2995.9L1037.0,2996.2L1038.0,2995.8L1039.0,2999.2L1040.0,2999.1L1041.0,3001.4L1042.0,3001.5L1043.0,3001.4L1044.0,3003.0L1045.0,3003.0L1046.0,3000.4L1047.0,3003.7L1048.0,3008.6L1048.5,3001.1L1049.0,3003.7L1050.0,3008.1L1051.0,3007.0L1052.0,3007.1L1053.0,3008.9L1054.0,3014.1L1055.0,3007.9L1056.0,3005.5L1057.0,3013.0L1058.0,3013.2L1059.0,3008.4L1060.0,3010.5L1061.0,3016.9L1062.0,3015.9L1063.0,3017.5L1064.0,3009.9L1065.0,3017.5L1066.0,3012.1L1067.0,3014.5L1068.0,3014.0L1069.0,3016.5L1070.0,3016.4L1071.0,3012.7L1072.0,3011.6L1073.0,3020.2L1074.0,3015.1L1075.0,3014.2L1076.0,3009.4L1077.0,3015.0L1078.0,3015.2L1079.0,3015.6L1080.0,3012.0L1081.0,3014.0L1082.0,3015.9L1083.0,3012.4L1084.0,3013.8L1085.0,3017.4L1086.0,3020.3L1087.0,3019.8L1088.0,3017.4L1089.0,3016.2L1090.0,3016.6L1091.0,3016.7L1092.0,3013.7L1093.0,3019.4L1094.0,3015.2L1095.0,3017.8L1096.0,3013.3L1097.0,3017.5L1098.0,3014.1L1099.0,3015.5L1100.0,3014.5L1101.0,3018.1L1102.0,3015.6L1103.0,3015.2L1104.0,3020.4L1105.0,3016.6L1106.0,3018.9L1107.0,3014.1L1108.0,3017.5L1109.0,3017.1L1110.0,3016.4L1111.0,3020.2L1112.0,3019.6L1113.0,3016.3L1114.0,3018.3L1115.0,3020.5L1116.0,3017.8L1117.0,3017.5L1118.0,3020.5L1119.0,3019.2L1120.0,3020.3L1121.0,3022.5L1122.0,3021.5L1123.0,3018.4L1124.0,3016.8L1125.0,3020.9L1126.0,3016.5L1127.0,3015.5L1128.0,3014.4L1129.0,3023.0L1130.0,3016.5L1131.0,3018.7L1132.0,3021.5L1133.0,3018.4L1134.0,3018.9L1135.0,3021.2L1136.0,3018.4L1137.0,3019.6L1138.0,3015.0L1139.0,3018.9L1140.0,3013.3L1141.0,3021.9L1142.0,3021.2L1143.0,3016.3L1144.0,3017.0L1145.0,3014.1L1146.0,3013.7L1147.0,3021.2L1148.0,3019.0L1149.0,3024.7L1150.0,3019.8L1151.0,3018.1L1152.0,3022.1L1153.0,3018.9L1154.0,3016.8L1155.0,3020.3L1156.0,3020.9L1157.0,3019.3L1158.0,3015.3L1159.0,3015.6L1160.0,3014.9L1161.0,3016.3L1162.0,3012.8L1163.0,3020.2L1164.0,3018.2L1165.0,3020.6L1166.0,3014.7L1167.0,3021.3L1168.0,3016.7L1169.0,3018.3L1170.0,3017.0L1171.0,3013.8L1172.0,3015.8L1173.0,3022.4L1174.0,3019.0L1175.0,3017.1L1176.0,3020.4L1177.0,3013.7L1178.0,3014.8L1179.0,3016.1L1180.0,3020.3L1181.0,3017.8L1182.0,3021.0L1183.0,3020.7L1184.0,3017.0L1185.0,3017.8L1186.0,3018.4L1187.0,3016.7L1188.0,3011.8L1189.0,3016.8L1190.0,3016.3L1191.0,3016.6L1192.0,3013.6L1193.0,3020.7L1194.0,3014.9L1195.0,3017.6L1196.0,3019.7L1197.0,3014.0L1198.0,3011.6L1199.0,3016.7L1200.0,3012.5L1201.0,3017.2L1202.0,3014.8L1203.0,3013.5L1204.0,3019.1L1205.0,3017.0L1206.0,3014.5L1207.0,3011.2L1208.0,3018.6L1209.0,3017.6L1210.0,3014.6L1211.0,3016.3L1212.0,3013.7L1213.0,3018.1L1214.0,3017.9L1215.0,3016.5L1216.0,3020.2L1217.0,3022.7L1218.0,3014.8L1219.0,3017.4L1220.0,3020.8L1221.0,3012.6L1222.0,3013.8L1223.0,3023.4L1224.0,3015.9L1225.0,3017.2L1226.0,3017.5L1227.0,3015.8L1228.0,3018.4L1229.0,3017.9L1230.0,3019.6L1231.0,3017.5L1232.0,3018.4L1233.0,3022.6L1234.0,3017.2L1235.0,3017.8L1236.0,3020.5L1237.0,3021.9L1238.0,3018.4L1239.0,3018.4L1240.0,3022.0L1241.0,3021.5L1242.0,3017.5L1243.0,3020.7L1244.0,3024.1L1245.0,3020.6L1246.0,3024.8L1247.0,3018.0L1248.0,3021.8L1249.0,3022.0L1250.0,3023.6L1251.0,3020.2L1252.0,3017.5L1253.0,3016.6L1254.0,3024.9L1255.0,3022.6L1256.0,3022.4L1257.0,3020.4L1258.0,3022.4L1259.0,3021.1L1260.0,3025.1L1261.0,3020.5L1262.0,3026.0L1263.0,3025.3L1264.0,3023.0L1265.0,3025.2L1266.0,3025.1L1267.0,3023.4L1268.0,3022.0L1269.0,3023.4L1270.0,3022.0L1271.0,3023.6L1272.0,3021.7L1273.0,3027.0L1274.0,3026.3L1275.0,3028.1L1276.0,3023.6L1277.0,3024.4L1278.0,3029.0L1279.0,3027.8L1280.0,3021.6L1281.0,3023.1L1282.0,3027.2L1283.0,3025.3L1284.0,3028.7L1285.0,3026.3L1286.0,3024.7L1287.0,3027.0L1288.0,3024.0L1289.0,3025.2L1290.0,3027.0L1291.0,3029.3L1292.0,3025.4L1293.0,3026.1L1294.0,3026.9L1295.0,3027.6L1296.0,3032.9L1297.0,3026.4L1298.0,3030.0L1299.0,3030.1L1300.0,3029.8L1301.0,3029.3L1302.0,3030.7L1303.0,3029.5L1304.0,3024.8L1305.0,3026.5L1306.0,3028.4L1307.0,3029.8L1308.0,3030.8L1309.0,3029.1L1310.0,3028.6L1311.0,3028.7L1312.0,3029.5L1313.0,3031.2L1314.0,3033.5L1315.0,3033.5L1316.0,3030.1L1317.0,3029.0L1318.0,3029.3L1319.0,3035.0L1320.0,3027.4L1321.0,3033.8L1322.0,3031.6L1323.0,3031.7L1324.0,3033.8L1325.0,3034.2L1326.0,3036.3L1327.0,3033.1L1328.0,3036.2L1329.0,3030.0L1330.0,3030.3L1331.0,3032.5L1332.0,3035.4L1333.0,3032.5L1334.0,3034.8L1334.6,3033.5L1336.0,3037.9L1337.0,3035.4L1338.0,3035.0L1339.0,3033.2L1340.0,3031.9L1341.0,3038.5L1342.0,3039.8L1343.0,3033.0L1344.0,3031.9L1345.0,3034.7L1346.0,3040.6L1347.0,3032.9L1348.0,3037.4L1349.0,3040.3L1350.0,3038.7L1351.0,3034.6L1352.0,3036.1L1353.0,3038.7L1354.0,3036.3L1355.0,3032.1L1356.0,3035.7L1357.0,3036.9L1358.0,3038.0L1359.0,3038.1L1360.0,3036.2L1361.0,3039.2L1362.0,3035.0L1363.0,3038.4L1364.0,3036.4L1365.0,3040.2L1366.0,3039.9L1367.0,3038.0L1368.0,3038.5L1369.0,3033.6L1370.0,3040.9L1371.0,3039.4L1372.0,3037.9L1373.0,3037.7L1374.0,3035.9L1375.0,3040.4L1376.0,3039.1L1377.0,3040.8L1378.0,3041.9L1379.0,3039.7L1380.0,3037.7L1381.0,3039.1L1382.0,3037.4L1383.0,3038.7L1384.0,3042.7L1385.0,3041.7L1386.0,3042.6L1387.0,3037.8L1388.0,3043.4L1389.0,3038.9L1390.0,3044.1L1391.0,3044.9L1392.0,3040.8L1393.0,3042.7L1394.0,3042.0L1395.0,3044.1L1396.0,3039.7L1397.0,3042.4L1398.0,3042.5L1399.0,3042.5L1400.0,3040.9L1401.0,3043.1L1402.0,3044.5L1403.0,3042.5L1404.0,3038.9L1405.0,3040.3L1406.0,3042.8L1407.0,3040.6L1408.0,3040.3L1409.0,3038.9L1410.0,3040.5L1411.0,3042.0L1412.0,3041.7L1413.0,3041.2L1414.0,3042.1L1415.0,3045.2L1416.0,3039.6L1417.0,3039.4L1418.0,3038.1L1419.0,3037.0L1420.0,3038.2L1421.0,3039.1L1422.0,3042.3L1423.0,3037.8L1424.0,3035.3L1425.0,3043.7L1426.0,3040.3L1427.0,3035.5L1428.0,3032.2L1429.0,3038.9L1430.0,3037.6L1431.0,3040.2L1432.0,3042.7L1433.0,3040.5L1434.0,3039.8L1435.0,3036.4L1436.0,3040.7L1437.0,3037.2L1438.0,3043.2L1439.0,3038.5L1440.0,3043.2L1441.0,3040.7L1442.0,3034.8L1443.0,3036.7L1444.0,3034.7L1445.0,3037.8L1446.0,3041.3L1447.0,3037.1L1448.0,3036.4L1449.0,3035.3L1450.0,3033.8L1451.0,3036.4L1452.0,3027.6L1453.0,3026.1L1454.0,3017.5L1455.0,3022.2L1456.0,3022.5L1457.0,3015.3L1458.0,3011.5L1459.0,3011.5L1460.0,3003.5L1461.0,3001.9L1462.0,2997.4L1462.5,2998.5L1463.0,3000.9L1464.0,3004.5L1465.0,3007.1L1466.0,3008.7L1467.0,3012.9L1468.0,3013.3L1469.0,3016.4L1470.0,3023.7L1471.0,3018.4L1472.0,3023.6L1473.0,3026.8L1474.0,3034.4L1475.0,3036.9L1476.0,3037.8L1477.0,3034.2L1478.0,3039.3L1479.0,3040.0L1480.0,3034.2L1481.0,3040.0L1482.0,3038.8L1483.0,3038.0L1484.0,3036.7L1485.0,3038.9L1486.0,3044.1L1487.0,3041.0L1488.0,3037.0L1489.0,3035.1L1490.0,3039.5L1491.0,3037.1L1492.0,3040.3L1493.0,3039.4L1494.0,3041.8L1495.0,3042.6L1496.0,3038.4L1497.0,3040.1L1498.0,3037.7L1499.0,3042.9L1500.0,3044.5L1501.0,3043.7L1502.0,3042.3L1503.0,3038.4L1504.0,3039.8L1505.0,3044.1L1506.0,3038.8L1507.0,3045.5L1508.0,3044.7L1509.0,3041.4L1510.0,3042.7L1511.0,3045.8L1512.0,3042.9L1513.0,3046.3L1514.0,3041.0L1515.0,3042.4L1516.0,3043.4L1517.0,3039.2L1518.0,3045.5L1519.0,3045.2L1520.0,3046.5L1521.0,3044.9L1522.0,3048.1L1523.0,3045.2L1524.0,3048.0L1525.0,3045.5L1526.0,3045.9L1527.0,3046.3L1528.0,3045.8L1529.0,3050.4L1530.0,3051.1L1531.0,3051.9L1532.0,3045.5L1533.0,3047.6L1534.0,3045.8L1535.0,3044.2L1536.0,3047.7L1536.5,3049.7L1537.0,3051.0L1538.0,3051.3L1539.0,3049.3L1540.0,3047.9L1541.0,3050.2L1542.0,3047.1L1543.0,3050.7L1544.0,3047.8L1545.0,3050.7L1546.0,3054.3L1547.0,3045.5L1548.0,3049.7L1549.0,3049.1L1550.0,3054.4L1551.0,3049.8L1552.0,3050.1L1553.0,3048.6L1554.0,3051.0L1555.0,3056.8L1556.0,3050.1L1557.0,3053.4L1558.0,3054.5L1559.0,3056.1L1560.0,3052.2L1561.0,3051.1L1562.0,3052.4L1563.0,3054.3L1564.0,3053.0L1565.0,3053.6L1566.0,3055.1L1567.0,3053.5L1568.0,3050.8L1569.0,3050.7L1570.0,3051.3L1571.0,3055.2L1572.0,3050.5L1573.0,3052.1L1574.0,3053.3L1575.0,3050.4L1576.0,3054.2L1577.0,3051.5L1578.0,3050.8L1579.0,3053.8L1580.0,3062.4L1581.0,3052.9L1582.0,3056.6L1583.0,3056.3L1584.0,3051.1L1585.0,3057.1L1586.0,3057.1L1587.0,3052.3L1588.0,3059.4L1589.0,3059.6L1590.0,3054.2L1591.0,3055.9L1592.0,3052.7L1593.0,3058.5L1594.0,3058.9L1595.0,3055.0L1596.0,3056.2L1597.0,3055.8L1598.0,3054.8L1599.0,3060.1L1600.0,3056.9L1601.0,3057.3L1602.0,3056.1L1603.0,3057.1L1604.0,3057.9L1605.0,3057.3L1606.0,3053.9L1607.0,3056.1L1608.0,3057.6L1609.0,3055.5L1610.0,3052.5L1611.0,3053.2L1612.0,3061.0L1613.0,3057.3L1614.0,3056.8L1615.0,3056.4L1616.0,3059.2L1617.0,3062.3L1618.0,3053.3L1619.0,3059.6L1620.0,3063.4L1621.0,3055.4L1622.0,3058.5L1623.0,3062.6L1624.0,3063.8L1625.0,3054.6L1626.0,3057.7L1627.0,3057.9L1628.0,3057.4L1629.0,3061.1L1630.0,3056.0L1631.0,3057.5L1632.0,3058.4L1633.0,3060.5L1634.0,3055.3L1635.0,3060.7L1636.0,3062.1L1637.0,3059.2L1638.0,3059.2L1639.0,3063.8L1640.0,3061.5L1641.0,3058.7L1642.0,3058.5L1643.0,3067.3L1644.0,3063.5L1645.0,3062.9L1646.0,3057.3L1647.0,3058.7L1648.0,3057.5L1649.0,3059.3L1650.0,3061.4L1651.0,3061.4L1652.0,3060.5L1653.0,3058.4L1654.0,3064.8L1655.0,3061.8L1656.0,3066.2L1657.0,3062.4L1658.0,3062.0L1659.0,3059.0L1660.0,3059.3L1661.0,3065.2L1662.0,3064.4L1663.0,3063.3L1664.0,3065.9L1665.0,3057.6L1666.0,3062.2L1667.0,3062.2L1668.0,3061.7L1669.0,3063.3L1670.0,3059.1L1671.0,3064.8L1672.0,3061.6L1673.0,3062.4L1674.0,3060.1L1675.0,3062.6L1676.0,3062.0L1677.0,3065.0L1678.0,3058.8L1679.0,3061.7L1680.0,3060.8L1681.0,3062.4L1682.0,3063.2L1683.0,3060.3L1684.0,3062.4L1685.0,3061.3L1686.0,3065.3L1687.0,3056.2L1688.0,3063.1L1689.0,3062.6L1690.0,3059.3L1691.0,3062.4L1692.0,3058.5L1693.0,3062.2L1694.0,3058.5L1695.0,3063.6L1696.0,3058.1L1697.0,3059.6L1698.0,3060.6L1699.0,3058.4L1700.0,3059.6L1701.0,3058.4L1702.0,3055.6L1703.0,3058.5L1704.0,3054.8L1705.0,3065.8L1706.0,3067.3L1707.0,3060.4L1708.0,3060.5L1709.0,3058.0L1710.0,3060.7L1711.0,3055.6L1712.0,3054.1L1713.0,3061.0L1714.0,3059.9L1715.0,3057.0L1716.0,3059.5L1717.0,3054.0L1718.0,3056.3L1719.0,3053.4L1720.0,3057.6L1721.0,3058.3L1722.0,3055.0L1723.0,3057.0L1724.0,3055.1L1725.0,3058.9L1726.0,3061.1L1727.0,3054.7L1728.0,3054.2L1729.0,3053.6L1730.0,3049.5L1731.0,3054.6L1732.0,3049.8L1733.0,3050.2L1734.0,3047.1L1735.0,3045.6L1736.0,3042.5L1737.0,3042.8L1738.0,3040.5L1739.0,3036.4L1740.0,3036.9L1741.0,3037.7L1742.0,3033.9L1743.0,3034.1L1744.0,3028.5L1745.0,3028.1L1746.0,3030.0L1747.0,3030.5L1748.0,3033.1L1749.0,3029.2L1750.0,3038.3L1751.0,3041.3L1752.0,3039.4L1753.0,3040.6L1754.0,3047.9L1755.0,3048.0L1756.0,3048.0L1757.0,3046.2L1758.0,3051.7L1758.7,3051.3L1760.0,3049.3L1761.0,3048.4L1762.0,3045.2L1763.0,3049.3L1764.0,3052.7L1765.0,3049.5L1766.0,3046.4L1767.0,3047.9L1768.0,3050.4L1769.0,3049.4L1770.0,3048.2L1771.0,3046.8L1772.0,3044.3L1773.0,3049.8L1774.0,3046.7L1775.0,3050.8L1776.0,3051.5L1777.0,3048.1L1778.0,3048.0L1779.0,3048.2L1780.0,3045.8L1781.0,3051.8L1782.0,3046.8L1783.0,3049.7L1784.0,3050.4L1785.0,3048.1L1786.0,3043.6L1787.0,3047.8L1788.0,3047.4L1789.0,3050.5L1790.0,3044.0L1791.0,3046.3L1792.0,3048.1L1793.0,3047.1L1794.0,3046.1L1795.0,3044.8L1796.0,3044.9L1797.0,3041.3L1798.0,3042.2L1799.0,3041.8L1800.0,3035.2L1801.0,3042.7L1802.0,3039.9L1803.0,3035.3L1804.0,3036.4L1805.0,3034.8L1806.0,3038.4L1807.0,3036.4L1808.0,3030.8L1809.0,3032.4L1810.0,3033.3L1811.0,3030.0L1812.0,3032.5L1813.0,3030.6L1814.0,3032.0L1815.0,3028.5L1816.0,3026.5L1817.0,3027.4L1818.0,3026.8L1819.0,3026.3L1820.0,3019.8L1821.0,3021.8L1822.0,3024.8L1823.0,3016.5L1824.0,3025.4L1825.0,3023.8L1826.0,3018.7L1827.0,3017.7L1828.0,3018.2L1829.0,3013.9L1830.0,3020.5L1831.0,3020.2L1832.0,3020.5L1833.0,3015.8L1834.0,3021.6L1835.0,3017.5L1836.0,3021.9L1837.0,3023.1L1838.0,3025.0L1839.0,3022.9L1840.0,3022.1L1841.0,3027.4L1842.0,3025.7L1843.0,3026.9L1844.0,3024.8L1845.0,3028.4L1846.0,3027.4L1847.0,3033.7L1848.0,3025.4L1849.0,3027.8L1850.0,3028.5L1851.0,3030.5L1852.0,3029.5L1853.0,3026.2L1854.0,3036.7L1855.0,3033.5L1856.0,3033.5L1857.0,3030.5L1858.0,3034.6L1859.0,3036.7L1860.0,3035.1L1861.0,3033.3L1862.0,3036.3L1863.0,3039.1L1864.0,3038.7L1865.0,3033.3L1866.0,3036.3L1867.0,3033.4L1868.0,3037.9L1869.0,3040.3L1870.0,3041.5L1871.0,3040.0L1872.0,3039.0L1873.0,3045.8L1874.0,3042.0L1875.0,3044.0L1876.0,3044.0L1877.0,3045.5L1878.0,3043.8L1879.0,3047.3L1880.0,3047.8L1881.0,3046.3L1882.0,3049.4L1883.0,3050.9L1884.0,3054.6L1885.0,3050.2L1886.0,3052.9L1887.0,3052.2L1888.0,3056.6L1889.0,3051.6L1890.0,3051.6L1891.0,3057.4L1892.0,3053.2L1893.0,3056.0L1894.0,3054.6L1895.0,3057.5L1896.0,3059.2L1897.0,3056.3L1898.0,3058.8L1899.0,3058.6L1900.0,3061.5L1901.0,3061.8L1902.0,3060.1L1903.0,3060.2L1904.0,3060.4L1905.0,3055.7L1906.0,3057.5L1907.0,3057.2L1908.0,3055.4L1909.0,3059.3L1910.0,3059.6L1911.0,3061.8L1912.0,3059.0L1913.0,3061.1L1914.0,3059.9L1915.0,3066.1L1916.0,3057.6L1917.0,3063.1L1918.0,3063.5L1919.0,3065.1L1920.0,3062.4L1921.0,3056.9L1922.0,3058.6L1923.0,3063.5L1924.0,3064.1L1925.0,3061.3L1926.0,3064.6L1927.0,3067.7L1928.0,3068.7L1929.0,3066.4L1930.0,3066.6L1931.0,3066.3L1932.0,3068.5L1933.0,3062.7L1934.0,3063.9L1935.0,3060.8L1936.0,3066.7L1937.0,3070.8L1938.0,3061.7L1939.0,3071.0L1940.0,3067.1L1941.0,3069.8L1942.0,3070.7L1943.0,3072.7L1944.0,3066.8L1945.0,3072.6L1946.0,3066.2L1947.0,3071.8L1948.0,3067.6L1949.0,3072.0L1950.0,3065.1L1951.0,3069.0L1952.0,3063.1L1953.0,3069.1L1954.0,3070.5L1955.0,3069.2L1956.0,3067.0L1957.0,3066.5L1958.0,3070.7L1959.0,3071.1L1960.0,3068.1L1961.0,3069.1L1962.0,3065.0L1963.0,3071.1L1964.0,3071.2L1965.0,3073.1L1966.0,3071.5L1967.0,3070.5L1968.0,3067.6L1969.0,3068.7L1970.0,3066.4L1971.0,3067.5L1972.0,3069.5L1973.0,3070.3L1974.0,3071.4L1975.0,3067.6L1976.0,3075.9L1977.0,3070.7L1978.0,3071.8L1979.0,3070.1L1980.0,3070.5L1981.0,3071.0L1982.0,3072.0L1983.0,3068.3L1984.0,3074.1L1985.0,3070.8L1986.0,3068.9L1987.0,3069.5L1988.0,3074.8L1989.0,3068.4L1990.0,3070.4L1991.0,3073.7L1992.0,3070.4L1993.0,3067.5L1994.0,3068.4L1995.0,3071.2L1996.0,3071.8L1997.0,3069.9L1998.0,3072.4L1999.0,3069.8L2000.0,3065.7L2001.0,3075.2L2002.0,3069.4L2003.0,3074.0L2004.0,3067.9L2005.0,3072.7L2006.0,3070.9L2007.0,3069.9L2008.0,3071.2L2009.0,3073.2L2010.0,3066.8L2011.0,3075.2L2012.0,3070.1L2013.0,3072.7L2014.0,3069.0L2015.0,3068.1L2016.0,3070.1L2017.0,3071.6L2018.0,3073.6L2019.0,3070.5L2020.0,3070.7L2021.0,3069.6L2022.0,3074.9L2023.0,3071.1L2024.0,3070.4L2025.0,3070.6L2026.0,3075.4L2027.0,3066.9L2028.0,3066.6L2029.0,3071.0L2030.0,3068.0L2031.0,3068.7L2032.0,3074.0L2033.0,3078.5L2034.0,3068.2L2035.0,3066.2L2036.0,3072.9L2037.0,3071.4L2038.0,3073.1L2039.0,3074.7L2040.0,3071.2L2041.0,3070.2L2042.0,3077.5L2043.0,3072.4L2044.0,3076.5L2045.0,3067.5L2046.0,3068.2L2047.0,3076.8L2048.0,3070.1L2049.0,3071.9L2050.0,3066.1L2051.0,3073.4L2052.0,3072.6L2053.0,3074.1L2054.0,3066.6L2055.0,3072.7L2056.0,3073.3L2057.0,3071.1L2058.0,3070.4L2059.0,3071.1L2060.0,3072.8L2061.0,3066.2L2062.0,3069.4L2063.0,3070.1L2064.0,3067.2L2065.0,3071.5L2066.0,3068.4L2067.0,3069.4L2068.0,3067.6L2069.0,3070.6L2070.0,3074.7L2071.0,3075.6L2072.0,3069.4L2073.0,3069.6L2074.0,3069.2L2075.0,3072.1L2076.0,3069.3L2077.0,3069.9L2078.0,3068.6L2079.0,3069.2L2080.0,3070.9L2081.0,3066.3L2082.0,3070.1L2083.0,3067.8L2084.0,3069.8L2085.0,3066.5L2086.0,3070.6L2087.0,3073.4L2088.0,3070.9L2089.0,3071.9L2090.0,3070.2L2091.0,3071.5L2092.0,3073.1L2093.0,3070.8L2094.0,3070.2L2095.0,3073.9L2096.0,3068.3L2097.0,3072.3L2098.0,3072.0L2099.0,3071.0L2100.0,3069.3L2101.0,3069.2L2102.0,3069.3L2103.0,3070.5L2104.0,3075.4L2105.0,3068.7L2106.0,3074.6L2107.0,3069.6L2108.0,3073.4L2108.6,3071.6L2110.0,3067.2L2111.0,3072.8L2112.0,3069.1L2113.0,3072.6L2114.0,3070.4L2115.0,3069.7L2116.0,3066.3L2117.0,3066.9L2118.0,3068.4L2119.0,3071.4L2120.0,3066.9L2121.0,3066.9L2122.0,3064.1L2123.0,3066.2L2124.0,3063.4L2125.0,3066.8L2126.0,3069.0L2127.0,3066.4L2128.0,3066.6L2129.0,3068.5L2130.0,3065.7L2131.0,3068.2L2132.0,3067.2L2133.0,3065.4L2134.0,3068.3L2135.0,3067.6L2136.0,3059.1L2137.0,3062.4L2138.0,3066.7L2139.0,3062.3L2140.0,3064.5L2141.0,3064.9L2142.0,3062.9L2143.0,3063.2L2144.0,3060.6L2145.0,3065.6L2146.0,3061.6L2147.0,3062.2L2148.0,3062.0L2149.0,3063.1L2150.0,3060.6L2151.0,3061.1L2152.0,3062.5L2153.0,3058.0L2154.0,3058.8L2155.0,3063.8L2156.0,3062.1L2157.0,3057.7L2158.0,3050.9L2159.0,3059.7L2160.0,3057.9L2161.0,3058.9L2162.0,3056.4L2163.0,3058.0L2164.0,3058.2L2165.0,3059.1L2166.0,3063.2L2167.0,3057.6L2168.0,3059.2L2169.0,3061.6L2170.0,3061.9L2171.0,3060.7L2172.0,3058.0L2173.0,3059.1L2174.0,3062.3L2175.0,3061.3L2176.0,3059.5L2177.0,3059.2" fill="none" stroke="#5e5e5e" stroke-width="2.8" stroke-linejoin="round"/>
<line x1="1863" y1="2026.5" x2="2031" y2="2026.5" stroke="#a0a0a0" stroke-width="3.6"/>
<text transform="translate(2046,2052.0) scale(0.91,1)" font-size="77" fill="#111">S1</text>
<line x1="1863" y1="2118.2" x2="2031" y2="2118.2" stroke="#ff8f8f" stroke-width="3.6"/>
<text transform="translate(2046,2143.7) scale(0.91,1)" font-size="77" fill="#111">S2</text>
<line x1="1863" y1="2209.9" x2="2031" y2="2209.9" stroke="#7eaaea" stroke-width="3.6"/>
<text transform="translate(2046,2235.4) scale(0.91,1)" font-size="77" fill="#111">S3</text>
<line x1="1863" y1="2301.6" x2="2031" y2="2301.6" stroke="#92d4aa" stroke-width="3.6"/>
<text transform="translate(2046,2327.1) scale(0.91,1)" font-size="77" fill="#111">S4</text>
<line x1="953.6" y1="3216.9" x2="953.6" y2="3378.3" stroke="#e0e0e0" stroke-width="3.6"/>
<circle cx="953.6" cy="3216.9" r="12" fill="url(#gG)"/>
<line x1="1037.2" y1="3250.7" x2="1037.2" y2="3378.3" stroke="#e0e0e0" stroke-width="3.6"/>
<circle cx="1037.2" cy="3250.7" r="12" fill="url(#gG)"/>
<line x1="1096" y1="3113" x2="1096" y2="3378.3" stroke="#e0e0e0" stroke-width="3.6"/>
<circle cx="1096" cy="3113" r="12" fill="url(#gG)"/>
<line x1="1457.6" y1="3301.2" x2="1457.6" y2="3378.3" stroke="#e0e0e0" stroke-width="3.6"/>
<circle cx="1457.6" cy="3301.2" r="12" fill="url(#gG)"/>
<line x1="1746.2" y1="3279" x2="1746.2" y2="3378.3" stroke="#e0e0e0" stroke-width="3.6"/>
<circle cx="1746.2" cy="3279" r="12" fill="url(#gG)"/>
<line x1="1946.8" y1="3335.2" x2="1946.8" y2="3378.3" stroke="#e0e0e0" stroke-width="3.6"/>
<circle cx="1946.8" cy="3335.2" r="12" fill="url(#gG)"/>
<line x1="397.1" y1="3406.6" x2="397.1" y2="3706" stroke="#fdd9b3" stroke-width="3"/>
<circle cx="397.1" cy="3406.6" r="13.5" fill="url(#gO)"/>
<line x1="865" y1="3591.4" x2="865" y2="3706" stroke="#fdd9b3" stroke-width="3"/>
<circle cx="865" cy="3591.4" r="13.5" fill="url(#gO)"/>
<line x1="1008.4" y1="3645.8" x2="1008.4" y2="3706" stroke="#fdd9b3" stroke-width="3"/>
<circle cx="1008.4" cy="3645.8" r="13.5" fill="url(#gO)"/>
<line x1="1725.7" y1="3668.5" x2="1725.7" y2="3706" stroke="#fdd9b3" stroke-width="3"/>
<circle cx="1725.7" cy="3668.5" r="13.5" fill="url(#gO)"/>
<line x1="1801.9" y1="3640.4" x2="1801.9" y2="3706" stroke="#fdd9b3" stroke-width="3"/>
<circle cx="1801.9" cy="3640.4" r="13.5" fill="url(#gO)"/>
<line x1="1860.4" y1="3645" x2="1860.4" y2="3706" stroke="#fdd9b3" stroke-width="3"/>
<circle cx="1860.4" cy="3645" r="13.5" fill="url(#gO)"/>
<rect x="1725.5" y="3105.5" width="442" height="75" fill="#fff" stroke="#d4d4d4" stroke-width="4"/>
<text x="1733" y="3158.6" font-size="50" font-weight="normal" text-anchor="start" fill="#222">ZnO(ICDD;36-1451)</text>
<rect x="1674.5" y="3392.5" width="494" height="80" fill="#fff" stroke="#d4d4d4" stroke-width="4"/>
<text x="1684" y="3443" font-size="53" fill="#222">MoS<tspan font-size="35" dy="15">2</tspan><tspan dy="-15">(ICDD;37-1492)</tspan></text>
<rect x="263.9" y="1968.8" width="1911.90" height="3.20" fill="#e8e8e8"/>
<rect x="263.9" y="1968.8" width="3.10" height="1114.20" fill="#eeeeee"/>
<rect x="263.9" y="3083" width="1911.90" height="3.90" fill="#e6e6e6"/>
<rect x="256.3" y="1961.3" width="1927.10" height="3.70" fill="#b4b4b4"/>
<rect x="256.3" y="1965" width="1923.90" height="3.80" fill="#0a0a0a"/>
<rect x="256.3" y="1961.3" width="3.50" height="1127.70" fill="#b0b0b0"/>
<rect x="259.8" y="1965" width="4.10" height="1124.00" fill="#0a0a0a"/>
<rect x="2175.8" y="1965" width="4.40" height="1124.00" fill="#262626"/>
<rect x="2180.2" y="1961.3" width="3.20" height="1127.70" fill="#7a7a7a"/>
<rect x="252" y="3086.9" width="1928.20" height="4.10" fill="#0a0a0a"/>
<rect x="259.8" y="3091" width="1916.20" height="3.80" fill="#b6b6b6"/>
<rect x="259.9" y="3374.6" width="1912.10" height="3.70" fill="#e4e4e4"/>
<rect x="255.6" y="3378.3" width="1920.40" height="4.40" fill="#0a0a0a"/>
<rect x="259.9" y="3382.7" width="1912.10" height="4.10" fill="#bcbcbc"/>
<rect x="252" y="3089" width="3.60" height="630.00" fill="#e4e4e4"/>
<rect x="255.6" y="3091" width="4.30" height="628.00" fill="#545454"/>
<rect x="2172" y="3091" width="4.00" height="628.00" fill="#444444"/>
<rect x="2176" y="3091" width="3.00" height="628.00" fill="#9c9c9c"/>
<rect x="259.9" y="3703.3" width="1916.10" height="4.10" fill="#b3b3b3"/>
<rect x="255.6" y="3707.4" width="1923.40" height="3.40" fill="#707070"/>
<line x1="417.6" y1="3707" x2="417.6" y2="3714" stroke="#444" stroke-width="4"/>
<line x1="577.5" y1="3707" x2="577.5" y2="3719" stroke="#444" stroke-width="4"/>
<line x1="737.4" y1="3707" x2="737.4" y2="3714" stroke="#444" stroke-width="4"/>
<line x1="897.3" y1="3707" x2="897.3" y2="3719" stroke="#444" stroke-width="4"/>
<line x1="1057.2" y1="3707" x2="1057.2" y2="3714" stroke="#444" stroke-width="4"/>
<line x1="1217.1" y1="3707" x2="1217.1" y2="3719" stroke="#444" stroke-width="4"/>
<line x1="1377.0" y1="3707" x2="1377.0" y2="3714" stroke="#444" stroke-width="4"/>
<line x1="1536.9" y1="3707" x2="1536.9" y2="3719" stroke="#444" stroke-width="4"/>
<line x1="1696.8" y1="3707" x2="1696.8" y2="3714" stroke="#444" stroke-width="4"/>
<line x1="1856.7" y1="3707" x2="1856.7" y2="3719" stroke="#444" stroke-width="4"/>
<line x1="2016.6000000000001" y1="3707" x2="2016.6000000000001" y2="3714" stroke="#444" stroke-width="4"/>
<text transform="translate(257.7,3784.6) scale(0.92,1)" font-size="70" text-anchor="middle" fill="#111">10</text>
<text transform="translate(577.5,3784.6) scale(0.92,1)" font-size="70" text-anchor="middle" fill="#111">20</text>
<text transform="translate(897.3,3784.6) scale(0.92,1)" font-size="70" text-anchor="middle" fill="#111">30</text>
<text transform="translate(1217.1,3784.6) scale(0.92,1)" font-size="70" text-anchor="middle" fill="#111">40</text>
<text transform="translate(1536.9,3784.6) scale(0.92,1)" font-size="70" text-anchor="middle" fill="#111">50</text>
<text transform="translate(1856.7,3784.6) scale(0.92,1)" font-size="70" text-anchor="middle" fill="#111">60</text>
<text transform="translate(2176.5,3784.6) scale(0.92,1)" font-size="70" text-anchor="middle" fill="#111">70</text>
<text x="970" y="3911.8" font-size="105" font-weight="bold" text-anchor="start" fill="#000">2θ (degree)</text>
<text transform="translate(152,2845) rotate(-90)" font-size="101" font-weight="bold" text-anchor="middle">Intensity (a.u.)</text>
<text x="95" y="2062" font-size="102" font-weight="bold" text-anchor="start" fill="#000">(b)</text>
</svg>
</body></html>
